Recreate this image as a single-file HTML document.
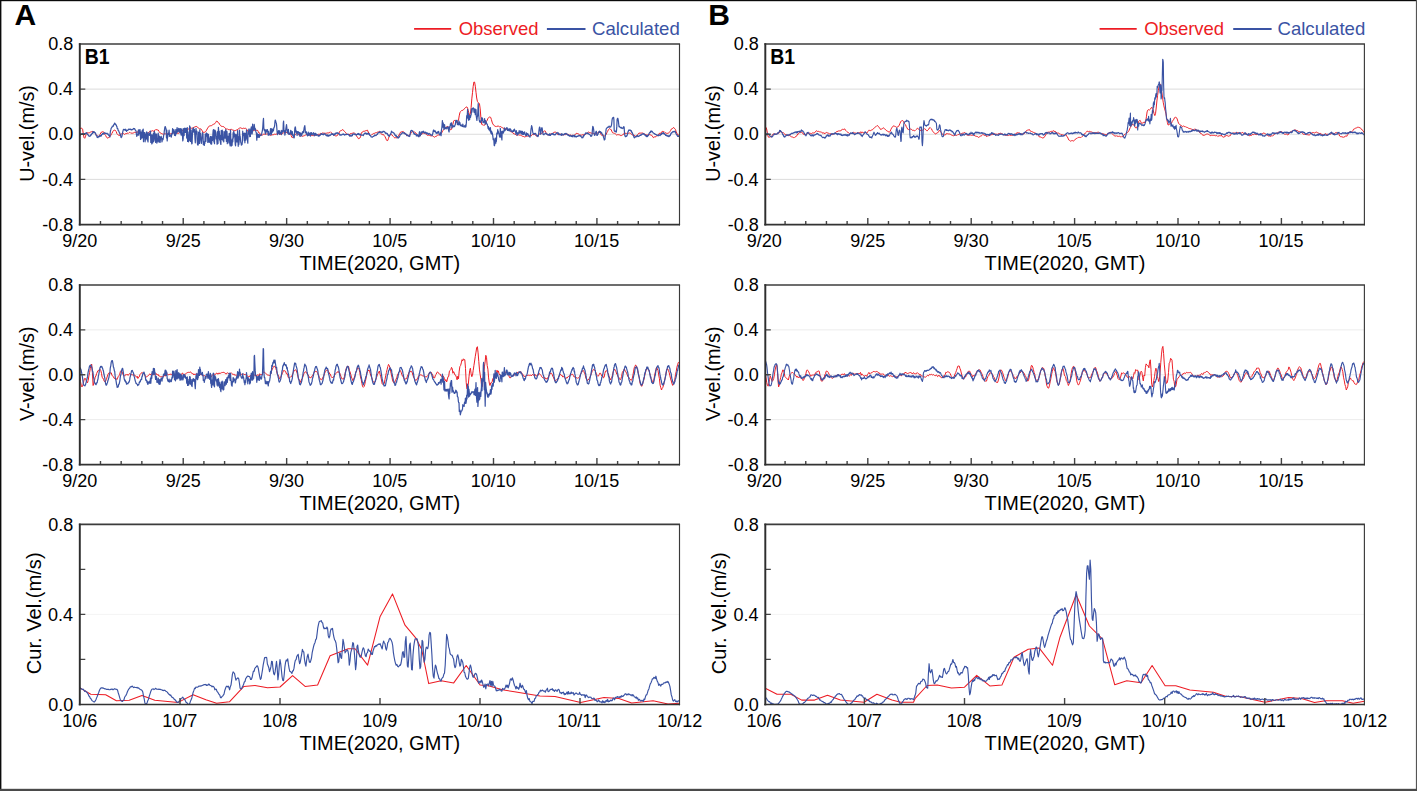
<!DOCTYPE html><html><head><meta charset="utf-8"><style>html,body{margin:0;padding:0;background:#fff;overflow:hidden}svg{display:block}text{font-family:"Liberation Sans", sans-serif}</style></head><body>
<svg width="1417" height="791" viewBox="0 0 1417 791">
<rect width="1417" height="791" fill="#fff"/>
<line x1="79.8" y1="179.38" x2="679.5" y2="179.38" stroke="#dcdcdc" stroke-width="1"/>
<line x1="79.8" y1="134.25" x2="679.5" y2="134.25" stroke="#dcdcdc" stroke-width="1"/>
<line x1="79.8" y1="89.12" x2="679.5" y2="89.12" stroke="#dcdcdc" stroke-width="1"/>
<text x="42.37" y="230.7" font-size="18" fill="#000">-0.8</text>
<text x="42.11" y="185.57" font-size="18" fill="#000">-0.4</text>
<text x="48.28" y="140.45" font-size="18" fill="#000">0.0</text>
<text x="48.1" y="95.32" font-size="18" fill="#000">0.4</text>
<text x="48.36" y="50.2" font-size="18" fill="#000">0.8</text>
<text x="62.21" y="246.84" font-size="18" fill="#000">9/20</text>
<text x="165.66" y="246.84" font-size="18" fill="#000">9/25</text>
<text x="269.06" y="246.84" font-size="18" fill="#000">9/30</text>
<text x="372.25" y="246.84" font-size="18" fill="#000">10/5</text>
<text x="470.64" y="246.84" font-size="18" fill="#000">10/10</text>
<text x="574.1" y="246.84" font-size="18" fill="#000">10/15</text>
<text x="299.4" y="269.65" font-size="19.8" fill="#000" textLength="160.68" lengthAdjust="spacingAndGlyphs">TIME(2020, GMT)</text>
<text transform="translate(34.4 133.25) rotate(-90)" x="-48.54" y="0" font-size="19.8" fill="#000">U-vel.(m/s)</text>
<line x1="79.8" y1="419.62" x2="679.5" y2="419.62" stroke="#ececec" stroke-width="1"/>
<line x1="79.8" y1="374.75" x2="679.5" y2="374.75" stroke="#ececec" stroke-width="1"/>
<line x1="79.8" y1="329.88" x2="679.5" y2="329.88" stroke="#ececec" stroke-width="1"/>
<text x="42.37" y="470.7" font-size="18" fill="#000">-0.8</text>
<text x="42.11" y="425.82" font-size="18" fill="#000">-0.4</text>
<text x="48.28" y="380.95" font-size="18" fill="#000">0.0</text>
<text x="48.1" y="336.07" font-size="18" fill="#000">0.4</text>
<text x="48.36" y="291.2" font-size="18" fill="#000">0.8</text>
<text x="62.21" y="486.84" font-size="18" fill="#000">9/20</text>
<text x="165.66" y="486.84" font-size="18" fill="#000">9/25</text>
<text x="269.06" y="486.84" font-size="18" fill="#000">9/30</text>
<text x="372.25" y="486.84" font-size="18" fill="#000">10/5</text>
<text x="470.64" y="486.84" font-size="18" fill="#000">10/10</text>
<text x="574.1" y="486.84" font-size="18" fill="#000">10/15</text>
<text x="299.4" y="509.65" font-size="19.8" fill="#000" textLength="160.68" lengthAdjust="spacingAndGlyphs">TIME(2020, GMT)</text>
<text transform="translate(34.4 373.75) rotate(-90)" x="-47.28" y="0" font-size="19.8" fill="#000">V-vel.(m/s)</text>
<line x1="79.8" y1="614.4" x2="679.5" y2="614.4" stroke="#f4f4f4" stroke-width="1"/>
<text x="48.28" y="710.6" font-size="18" fill="#000">0.0</text>
<text x="48.1" y="620.6" font-size="18" fill="#000">0.4</text>
<text x="48.36" y="530.6" font-size="18" fill="#000">0.8</text>
<text x="62.19" y="726.74" font-size="18" fill="#000">10/6</text>
<text x="162.25" y="726.74" font-size="18" fill="#000">10/7</text>
<text x="262.19" y="726.74" font-size="18" fill="#000">10/8</text>
<text x="362.22" y="726.74" font-size="18" fill="#000">10/9</text>
<text x="457.14" y="726.74" font-size="18" fill="#000">10/10</text>
<text x="557.23" y="726.74" font-size="18" fill="#000">10/11</text>
<text x="657.25" y="726.74" font-size="18" fill="#000">10/12</text>
<text x="299.4" y="749.55" font-size="19.8" fill="#000" textLength="160.68" lengthAdjust="spacingAndGlyphs">TIME(2020, GMT)</text>
<text transform="translate(40.6 613.4) rotate(-90)" x="-60.75" y="0" font-size="19.8" fill="#000" textLength="121.73" lengthAdjust="spacingAndGlyphs">Cur. Vel.(m/s)</text>
<line x1="765.3" y1="179.38" x2="1364.4" y2="179.38" stroke="#dcdcdc" stroke-width="1"/>
<line x1="765.3" y1="134.25" x2="1364.4" y2="134.25" stroke="#dcdcdc" stroke-width="1"/>
<line x1="765.3" y1="89.12" x2="1364.4" y2="89.12" stroke="#dcdcdc" stroke-width="1"/>
<text x="727.87" y="230.7" font-size="18" fill="#000">-0.8</text>
<text x="727.61" y="185.57" font-size="18" fill="#000">-0.4</text>
<text x="733.78" y="140.45" font-size="18" fill="#000">0.0</text>
<text x="733.6" y="95.32" font-size="18" fill="#000">0.4</text>
<text x="733.86" y="50.2" font-size="18" fill="#000">0.8</text>
<text x="746.81" y="246.84" font-size="18" fill="#000">9/20</text>
<text x="850.24" y="246.84" font-size="18" fill="#000">9/25</text>
<text x="953.61" y="246.84" font-size="18" fill="#000">9/30</text>
<text x="1056.78" y="246.84" font-size="18" fill="#000">10/5</text>
<text x="1155.14" y="246.84" font-size="18" fill="#000">10/10</text>
<text x="1258.57" y="246.84" font-size="18" fill="#000">10/15</text>
<text x="984.6" y="269.65" font-size="19.8" fill="#000" textLength="160.68" lengthAdjust="spacingAndGlyphs">TIME(2020, GMT)</text>
<text transform="translate(719.9 133.25) rotate(-90)" x="-48.54" y="0" font-size="19.8" fill="#000">U-vel.(m/s)</text>
<line x1="765.3" y1="419.62" x2="1364.4" y2="419.62" stroke="#ececec" stroke-width="1"/>
<line x1="765.3" y1="374.75" x2="1364.4" y2="374.75" stroke="#ececec" stroke-width="1"/>
<line x1="765.3" y1="329.88" x2="1364.4" y2="329.88" stroke="#ececec" stroke-width="1"/>
<text x="727.87" y="470.7" font-size="18" fill="#000">-0.8</text>
<text x="727.61" y="425.82" font-size="18" fill="#000">-0.4</text>
<text x="733.78" y="380.95" font-size="18" fill="#000">0.0</text>
<text x="733.6" y="336.07" font-size="18" fill="#000">0.4</text>
<text x="733.86" y="291.2" font-size="18" fill="#000">0.8</text>
<text x="746.81" y="486.84" font-size="18" fill="#000">9/20</text>
<text x="850.24" y="486.84" font-size="18" fill="#000">9/25</text>
<text x="953.61" y="486.84" font-size="18" fill="#000">9/30</text>
<text x="1056.78" y="486.84" font-size="18" fill="#000">10/5</text>
<text x="1155.14" y="486.84" font-size="18" fill="#000">10/10</text>
<text x="1258.57" y="486.84" font-size="18" fill="#000">10/15</text>
<text x="984.6" y="509.65" font-size="19.8" fill="#000" textLength="160.68" lengthAdjust="spacingAndGlyphs">TIME(2020, GMT)</text>
<text transform="translate(719.9 373.75) rotate(-90)" x="-47.28" y="0" font-size="19.8" fill="#000">V-vel.(m/s)</text>
<line x1="765.3" y1="614.4" x2="1364.4" y2="614.4" stroke="#f4f4f4" stroke-width="1"/>
<text x="733.78" y="710.6" font-size="18" fill="#000">0.0</text>
<text x="733.6" y="620.6" font-size="18" fill="#000">0.4</text>
<text x="733.86" y="530.6" font-size="18" fill="#000">0.8</text>
<text x="746.49" y="726.74" font-size="18" fill="#000">10/6</text>
<text x="846.65" y="726.74" font-size="18" fill="#000">10/7</text>
<text x="946.69" y="726.74" font-size="18" fill="#000">10/8</text>
<text x="1046.82" y="726.74" font-size="18" fill="#000">10/9</text>
<text x="1141.84" y="726.74" font-size="18" fill="#000">10/10</text>
<text x="1242.03" y="726.74" font-size="18" fill="#000">10/11</text>
<text x="1342.15" y="726.74" font-size="18" fill="#000">10/12</text>
<text x="984.6" y="749.55" font-size="19.8" fill="#000" textLength="160.68" lengthAdjust="spacingAndGlyphs">TIME(2020, GMT)</text>
<text transform="translate(726.1 613.4) rotate(-90)" x="-60.75" y="0" font-size="19.8" fill="#000" textLength="121.73" lengthAdjust="spacingAndGlyphs">Cur. Vel.(m/s)</text>
<path d="M79.8,129 80.5,128.3 81.2,128.2 81.9,128.3 82.6,129.2 83.3,133.9 84,137.6 84.7,138.3 85.4,136.8 86.1,134.5 86.8,132.7 87.5,132.8 88.2,133 88.9,132.7 89.6,132.8 90.3,132.1 91,131.6 91.7,131.8 92.4,131.4 93.1,131.9 93.8,131.8 94.5,132.8 95.2,133.2 95.9,134.5 96.6,135.1 97.3,135.9 98,136.3 98.7,136.7 99.4,135.6 100.1,134.3 100.8,133 101.5,132 102.2,132.3 102.9,131.4 103.6,132.2 104.3,133.5 105,134.8 105.7,135.6 106.4,137 107.1,137.8 107.8,138.2 108.5,137.6 109.2,137.5 109.9,136.3 110.6,135.8 111.3,134.1 112,133.5 112.7,131.7 113.4,130.6 114.1,130.5 114.8,129.9 115.5,130.8 116.2,131.4 116.9,133.7 117.6,134.5 118.3,135 119,135.6 119.7,135.4 120.4,134.2 121.1,133.9 121.8,133.9 122.5,133.5 123.2,133.5 123.9,133.8 124.6,134.4 125.3,133.9 126,133.3 126.7,133.6 127.4,133.1 128.1,133.6 128.8,132.8 129.5,132.4 130.2,132.5 130.9,133.3 131.6,133.1 132.3,133.2 133,133.1 133.7,132.8 134.4,132.4 135.1,132.2 135.8,132.6 136.5,132.7 137.2,131.5 137.9,132.5 138.6,131.6 139.3,131.9 140,131.5 140.7,132.2 141.4,132.7 142.1,133.2 142.8,133.8 143.5,134.1 144.2,133.9 144.9,134.4 145.6,134.7 146.3,134.6 147,134 147.7,133.5 148.4,132.9 149.1,131.9 149.8,131.3 150.5,131.8 151.2,131 151.9,131 152.6,130.7 153.3,131.2 154,131.1 154.7,130.2 155.4,130 156.1,129.3 156.8,129.9 157.5,129.9 158.2,130 158.9,131.5 159.6,132.1 160.3,132.9 161,133.5 161.7,133.6 162.4,133.9 163.1,134.4 163.8,134.1 164.5,133.6 165.2,134.2 165.9,133.4 166.6,133.3 167.3,133.4 168,133.9 168.7,134 169.4,133.9 170.1,134.1 170.8,133.4 171.5,133.5 172.2,133.2 172.9,133 173.6,132.9 174.3,132 175,133.5 175.7,132.3 176.4,132.7 177.1,133.1 177.8,133.4 178.5,133.4 179.2,132.3 179.9,132.5 180.6,132.4 181.3,131.2 182,130.8 182.7,130.4 183.4,131.6 184.1,131.4 184.8,130.9 185.5,130.8 186.2,130.4 186.9,129.6 187.6,129.4 188.3,129.1 189,128.7 189.7,128.6 190.4,128.1 191.1,128 191.8,128.4 192.5,128 193.2,127.5 193.9,127.8 194.6,126.8 195.3,126.6 196,126.6 196.7,126.4 197.4,127.3 198.1,127.8 198.8,128.2 199.5,128.8 200.2,128.9 200.9,128.8 201.6,130.1 202.3,130.8 203,132.2 203.7,132.5 204.4,132.3 205.1,132 205.8,131.5 206.5,130.3 207.2,128.9 207.9,127.8 208.6,126.6 209.3,126.1 210,126 210.7,125.7 211.4,125.7 212.1,125.1 212.8,124.7 213.5,124.3 214.2,124 214.9,123.6 215.6,122.6 216.3,121.3 217,121 217.7,122.1 218.4,122.8 219.1,123.1 219.8,124.8 220.5,125.4 221.2,126.3 221.9,126.2 222.6,126.5 223.3,126.6 224,126.8 224.7,127.7 225.4,128.2 226.1,129.2 226.8,129 227.5,128.9 228.2,129.6 228.9,129.6 229.6,129.7 230.3,129.6 231,129 231.7,129.5 232.4,129.9 233.1,130.4 233.8,130 234.5,130.8 235.2,130.8 235.9,130.1 236.6,130 237.3,129.8 238,129 238.7,128.7 239.4,128.2 240.1,127.8 240.8,127.9 241.5,128.1 242.2,128.9 242.9,128.4 243.6,128.2 244.3,128.5 245,128.1 245.7,128.4 246.4,129 247.1,129.6 247.8,130.9 248.5,132.3 249.2,133.1 249.9,132.7 250.6,132.4 251.3,132.6 252,131.7 252.7,130.5 253.4,130.5 254.1,130.6 254.8,130.1 255.5,130.4 256.2,130.2 256.9,130.4 257.6,130.4 258.3,131.7 259,133 259.7,133.1 260.4,134.6 261.1,135 261.8,135.2 262.5,135 263.2,134.4 263.9,134.1 264.6,134.2 265.3,134.2 266,134.2 266.7,134 267.4,134 268.1,133.9 268.8,134 269.5,134.9 270.2,135.3 270.9,135.4 271.6,134.8 272.3,134.9 273,134.4 273.7,134.7 274.4,134.2 275.1,134.3 275.8,134.3 276.5,134 277.2,134.3 277.9,133.6 278.6,133.3 279.3,134.3 280,134.4 280.7,134.3 281.4,133.8 282.1,133.7 282.8,133.4 283.5,132.8 284.2,132.7 284.9,132.6 285.6,132.1 286.3,132.8 287,132 287.7,132.8 288.4,133.9 289.1,133.9 289.8,134.2 290.5,134.4 291.2,135.6 291.9,137.4 292.6,137.5 293.3,137.2 294,136.1 294.7,135.6 295.4,134.5 296.1,133.5 296.8,133.3 297.5,133.7 298.2,134.5 298.9,134.8 299.6,135.5 300.3,136.3 301,135.7 301.7,135.7 302.4,136.3 303.1,136.1 303.8,135.8 304.5,135.6 305.2,135.1 305.9,135 306.6,134.5 307.3,134.7 308,134.2 308.7,134.5 309.4,135 310.1,135 310.8,135.5 311.5,135.4 312.2,135.4 312.9,135.7 313.6,135.6 314.3,135.2 315,135.3 315.7,135.2 316.4,135 317.1,134.8 317.8,134.7 318.5,134.3 319.2,134.4 319.9,134.1 320.6,133.4 321.3,133.8 322,133.5 322.7,132.9 323.4,133.1 324.1,133.4 324.8,133.1 325.5,133.3 326.2,133.1 326.9,133.3 327.6,132.9 328.3,133 329,132.6 329.7,132.6 330.4,131.8 331.1,132.5 331.8,133.2 332.5,133.7 333.2,134.3 333.9,135.2 334.6,135.4 335.3,135.8 336,136 336.7,135.8 337.4,135.5 338.1,134.1 338.8,133.6 339.5,131.7 340.2,131 340.9,130.5 341.6,130.4 342.3,129.8 343,129.6 343.7,130.7 344.4,131.3 345.1,131.9 345.8,132.8 346.5,133.6 347.2,134.3 347.9,134.6 348.6,133.9 349.3,135 350,134 350.7,133.5 351.4,133.5 352.1,133 352.8,133.4 353.5,133 354.2,132.7 354.9,133.4 355.6,134.4 356.3,135.5 357,136.9 357.7,137.4 358.4,138.7 359.1,138.6 359.8,138.1 360.5,136.8 361.2,133.8 361.9,132.2 362.6,131.9 363.3,131.4 364,131.2 364.7,131.2 365.4,130.8 366.1,130.8 366.8,130.3 367.5,130.2 368.2,132 368.9,133.3 369.6,134.9 370.3,135.7 371,135.4 371.7,134.6 372.4,134.3 373.1,134 373.8,133.3 374.5,133.3 375.2,132.9 375.9,132.7 376.6,132.6 377.3,132.2 378,132.1 378.7,131.9 379.4,131.3 380.1,132.9 380.8,133.2 381.5,133.8 382.2,134.8 382.9,134.5 383.6,134.6 384.3,135.8 385,136.6 385.7,138.1 386.4,139.8 387.1,140.8 387.8,140.4 388.5,138.3 389.2,136.5 389.9,134.7 390.6,134.5 391.3,134.4 392,135 392.7,136 393.4,136.5 394.1,137.4 394.8,137.9 395.5,137.7 396.2,137.9 396.9,137.8 397.6,136.7 398.3,136.3 399,135 399.7,133.9 400.4,132.3 401.1,131.8 401.8,131.9 402.5,131.6 403.2,131.4 403.9,132.1 404.6,133.1 405.3,133.4 406,134.4 406.7,135.8 407.4,135.5 408.1,135.8 408.8,135.4 409.5,134.9 410.2,134.6 410.9,133.1 411.6,131.9 412.3,131.4 413,131.6 413.7,132 414.4,131.8 415.1,132.7 415.8,132.9 416.5,133.8 417.2,134.7 417.9,135.6 418.6,135.9 419.3,136.1 420,136 420.7,134.7 421.4,134.4 422.1,133.8 422.8,133.5 423.5,133.1 424.2,133.2 424.9,133.6 425.6,133.8 426.3,134.4 427,135 427.7,135.4 428.4,135.2 429.1,135.5 429.8,135 430.5,136 431.2,135.7 431.9,136 432.6,135.8 433.3,136.4 434,136.9 434.7,137.2 435.4,136.5 436.1,136.7 436.8,135.8 437.5,135 438.2,135.1 438.9,134.8 439.6,134.9 440.3,134.4 441,133.9 441.7,132.8 442.4,131.7 443.1,130.4 443.8,129.5 444.5,128.7 445.2,128.1 445.9,127 446.6,127 447.3,126.5 448,126.7 448.7,128 449.4,128.3 450.1,129.4 450.8,130 451.5,128.9 452.2,126.5 452.9,124.3 453.6,121.2 454.3,120.3 455,120.8 455.7,121.3 456.4,122.2 457.1,122.9 457.8,121.6 458.5,120.2 459.2,115.9 459.9,112.7 460.6,111.5 461.3,110.9 462,110.2 462.7,110.4 463.4,109.7 464.1,109.3 464.8,108.2 465.5,107.5 466.2,107.1 466.9,106.9 467.6,108.2 468.3,110.9 469,113.3 469.7,114.8 470.4,113.8 471.1,107.7 471.8,98.9 472.5,92.7 473.2,86.3 473.9,82 474.6,82.1 475.3,86.2 476,92.3 476.7,98 477.4,101.4 478.1,102.6 478.8,103 479.5,104 480.2,108.9 480.9,117.8 481.6,124.2 482.3,124.9 483,124.6 483.7,125.4 484.4,125.1 485.1,124.7 485.8,122.7 486.5,121.3 487.2,120.4 487.9,118.3 488.6,117.7 489.3,117.1 490,117 490.7,117.4 491.4,119.6 492.1,122.1 492.8,123.9 493.5,124.9 494.2,125.3 494.9,126.4 495.6,126.4 496.3,126.6 497,125.8 497.7,126.4 498.4,126.1 499.1,126.7 499.8,126.8 500.5,126.5 501.2,127 501.9,127.6 502.6,127.8 503.3,128.3 504,128.3 504.7,128.6 505.4,128.5 506.1,128.9 506.8,129.3 507.5,129.2 508.2,129.4 508.9,129.7 509.6,130.8 510.3,131.3 511,131.4 511.7,131.9 512.4,132.7 513.1,132.8 513.8,133.9 514.5,134 515.2,134.2 515.9,134.7 516.6,135.5 517.3,134.6 518,134.9 518.7,134.8 519.4,135.1 520.1,135.1 520.8,135.1 521.5,135.8 522.2,136 522.9,136.5 523.6,136.4 524.3,137.1 525,136.6 525.7,136.6 526.4,136.2 527.1,136.3 527.8,136.1 528.5,136 529.2,136.1 529.9,135.7 530.6,135.5 531.3,135.8 532,134.9 532.7,134.3 533.4,134.6 534.1,134.7 534.8,134.2 535.5,135.4 536.2,136 536.9,136 537.6,135.3 538.3,135.3 539,134 539.7,133.9 540.4,133.8 541.1,133.5 541.8,133.4 542.5,132.9 543.2,131.9 543.9,131.6 544.6,130.7 545.3,131.2 546,132.7 546.7,133.4 547.4,134.8 548.1,134.9 548.8,135 549.5,134.7 550.2,134.3 550.9,133.8 551.6,133.6 552.3,133.5 553,133.2 553.7,132.4 554.4,132.2 555.1,132.3 555.8,132.1 556.5,132.6 557.2,134.2 557.9,134.5 558.6,134.2 559.3,134.2 560,133.9 560.7,134.1 561.4,135 562.1,134.6 562.8,135.3 563.5,134.6 564.2,134.5 564.9,134.7 565.6,134.6 566.3,134 567,134.6 567.7,134.2 568.4,134.5 569.1,134.9 569.8,135.4 570.5,135 571.2,135.5 571.9,135.6 572.6,135.2 573.3,135.4 574,135.6 574.7,134.7 575.4,134.3 576.1,133.9 576.8,133.1 577.5,133.5 578.2,133.8 578.9,134.3 579.6,134.9 580.3,135 581,135.2 581.7,135.1 582.4,134.8 583.1,134.5 583.8,134.8 584.5,134.8 585.2,134.1 585.9,134.3 586.6,133.2 587.3,133 588,132.4 588.7,132 589.4,132.5 590.1,132.7 590.8,132.9 591.5,133.1 592.2,133.2 592.9,133.6 593.6,133.5 594.3,134 595,133.7 595.7,134.1 596.4,133.8 597.1,133.3 597.8,132.7 598.5,132.2 599.2,132.2 599.9,132.4 600.6,133.7 601.3,134.8 602,135.6 602.7,134.9 603.4,135.9 604.1,136.2 604.8,135.8 605.5,135.4 606.2,134.3 606.9,132.7 607.6,131.5 608.3,129.8 609,129.1 609.7,128.6 610.4,129.3 611.1,129.5 611.8,131.2 612.5,132.7 613.2,132.9 613.9,133.3 614.6,133.2 615.3,133.9 616,134.5 616.7,135.1 617.4,134.7 618.1,134.9 618.8,134.6 619.5,134.9 620.2,135.5 620.9,135.4 621.6,135.5 622.3,134.9 623,134.8 623.7,134.2 624.4,132.9 625.1,133.6 625.8,133.2 626.5,133.4 627.2,133.5 627.9,133.8 628.6,133.1 629.3,133 630,133 630.7,133.5 631.4,134.2 632.1,134.7 632.8,135.1 633.5,135.2 634.2,135.2 634.9,136.1 635.6,136.2 636.3,136 637,135.8 637.7,134.6 638.4,133.9 639.1,132.8 639.8,133.4 640.5,133.1 641.2,132.9 641.9,133.3 642.6,133 643.3,133.2 644,134.1 644.7,134 645.4,134.5 646.1,134.8 646.8,135 647.5,135 648.2,135.4 648.9,134.5 649.6,134.7 650.3,134.8 651,135.3 651.7,135.3 652.4,136 653.1,137.4 653.8,137.5 654.5,136.9 655.2,136.9 655.9,136.7 656.6,135.8 657.3,136.1 658,134.8 658.7,134.4 659.4,133.2 660.1,133.8 660.8,132.7 661.5,132.5 662.2,131.3 662.9,131.5 663.6,131.6 664.3,131.8 665,132.5 665.7,133 666.4,133.3 667.1,133.1 667.8,133.5 668.5,133.2 669.2,132.4 669.9,131.6 670.6,130.5 671.3,129.1 672,128.6 672.7,128.5 673.4,127.5 674.1,127.8 674.8,128.8 675.5,129.6 676.2,131.8 676.9,133.2 677.6,134.8 678.3,135 679,135.1" fill="none" stroke="#ED1C24" stroke-width="1.0" stroke-linejoin="round"/>
<path d="M79.8,134.7 80.1,135.4 80.4,134.5 80.8,134.2 81.1,134 81.4,134.2 81.7,133.9 82,133.9 82.4,133.6 82.7,133.6 83,134 83.3,134.4 83.6,134.1 84,134.1 84.3,133.7 84.6,133.6 84.9,133.9 85.2,133.6 85.6,133.5 85.9,133 86.2,133.3 86.5,132.7 86.8,133.1 87.2,133.6 87.5,134.5 87.8,134.5 88.1,134.8 88.4,135.6 88.8,135.8 89.1,136.3 89.4,136.2 89.7,136.2 90,135.9 90.4,136 90.7,135.2 91,134.5 91.3,134.9 91.6,133.9 92,133.7 92.3,133.5 92.6,133.2 92.9,131.6 93.2,132 93.6,132.7 93.9,131.6 94.2,132.4 94.5,132.2 94.8,132.3 95.2,132.9 95.5,132.9 95.8,134.4 96.1,135.4 96.4,135.2 96.8,136.1 97.1,137.3 97.4,137.3 97.7,137.2 98,137.7 98.4,136.3 98.7,136.6 99,136.5 99.3,136.2 99.6,136.5 100,135.5 100.3,136 100.6,135.6 100.9,136.2 101.2,135.9 101.6,134.9 101.9,134.4 102.2,134.4 102.5,133.7 102.8,133.6 103.2,133.8 103.5,133.4 103.8,134.1 104.1,133.3 104.4,133 104.8,132.7 105.1,132.9 105.4,133.4 105.7,133.3 106,133.7 106.4,133.7 106.7,133.5 107,133.2 107.3,133.7 107.6,134.1 108,133.8 108.3,134.9 108.6,134.8 108.9,135.6 109.2,135.9 109.6,136.5 109.9,136.9 110.2,133 110.5,130.5 110.8,129.9 111.2,128.2 111.5,127.9 111.8,127.4 112.1,127.1 112.4,126 112.8,126.2 113.1,125.9 113.4,126.1 113.7,124.8 114,124.2 114.4,124.1 114.7,123 115,123.9 115.3,124.5 115.6,124.2 116,124.8 116.3,125.3 116.6,126.2 116.9,126.5 117.2,128.3 117.6,128.3 117.9,129.1 118.2,130.6 118.5,130.6 118.8,131.1 119.2,132.4 119.5,132.5 119.8,133.6 120.1,134.1 120.4,134.8 120.8,136.4 121.1,137.6 121.4,137.1 121.7,136.9 122,135.8 122.4,134 122.7,132.2 123,130.9 123.3,129.8 123.6,129.3 124,129.7 124.3,129.7 124.6,129.7 124.9,130 125.2,129.1 125.6,130.3 125.9,130.4 126.2,129.8 126.5,131.3 126.8,130.8 127.2,130.5 127.5,130.4 127.8,130.4 128.1,130 128.4,129.2 128.8,129.3 129.1,129.4 129.4,129.4 129.7,129.5 130,128.9 130.4,129.2 130.7,129.7 131,129.6 131.3,129.9 131.6,129.5 132,129.8 132.3,129.5 132.6,129.5 132.9,129.2 133.2,128.8 133.6,128.5 133.9,128.9 134.2,128.7 134.5,128.6 134.8,129.1 135.2,129.9 135.5,130.2 135.8,130.6 136.1,131.2 136.4,134.2 136.8,136.4 137.1,134.8 137.4,134.4 137.7,135 138,132.3 138.4,129.9 138.7,135.2 139,130.4 139.3,133.4 139.6,129.9 140,129.6 140.3,133.9 140.6,139.5 140.9,138.7 141.2,132.1 141.6,137.3 141.9,138.1 142.2,130.5 142.5,130.1 142.8,137.6 143.2,129 143.5,141.7 143.8,136.4 144.1,136.8 144.4,132.6 144.8,132.6 145.1,141.8 145.4,134 145.7,139.9 146,139.2 146.4,133.3 146.7,131.8 147,138.6 147.3,132.6 147.6,139.9 148,142 148.3,134.5 148.6,133.9 148.9,133 149.2,134.9 149.6,135.4 149.9,134.2 150.2,132.4 150.5,131 150.8,142.4 151.2,136.6 151.5,134.8 151.8,144 152.1,134.8 152.4,136.7 152.8,142.8 153.1,138.7 153.4,133.2 153.7,141.3 154,140.1 154.4,131.3 154.7,134.2 155,133.1 155.3,138.9 155.6,142.4 156,140.2 156.3,134.1 156.6,134.3 156.9,143.2 157.2,141.7 157.6,141.1 157.9,140.6 158.2,133 158.5,136.8 158.8,141.9 159.2,141.8 159.5,136.1 159.8,142.2 160.1,142.4 160.4,139.8 160.8,137.1 161.1,136.4 161.4,137.1 161.7,139 162,141.9 162.4,138.6 162.7,139.6 163,139.7 163.3,137.8 163.6,135.6 164,134.4 164.3,131 164.6,129.1 164.9,127.1 165.2,126.6 165.6,127.6 165.9,128.2 166.2,131.4 166.5,137.9 166.8,130 167.2,140.9 167.5,137.3 167.8,136.9 168.1,133.9 168.4,134.5 168.8,132.7 169.1,130 169.4,134.5 169.7,136.4 170,135.8 170.4,135.8 170.7,135.9 171,134.5 171.3,137.2 171.6,135.4 172,133.2 172.3,133.9 172.6,128.5 172.9,133.4 173.2,129.8 173.6,132.2 173.9,129.5 174.2,131.1 174.5,135.3 174.8,131.8 175.2,134.1 175.5,135.6 175.8,129.5 176.1,133.9 176.4,133.2 176.8,130 177.1,127.7 177.4,129.6 177.7,132.1 178,131.5 178.4,130.9 178.7,128.4 179,128.7 179.3,131.5 179.6,128.8 180,132.9 180.3,130.8 180.6,128.5 180.9,133.7 181.2,135.2 181.6,133.4 181.9,128.9 182.2,134.7 182.5,136.3 182.8,140.9 183.2,138.6 183.5,128.7 183.8,134.6 184.1,135.7 184.4,128.7 184.8,128.2 185.1,132.4 185.4,128.3 185.7,132.3 186,131.6 186.4,128.3 186.7,138.1 187,130.2 187.3,127.7 187.6,141.5 188,141.5 188.3,134.8 188.6,141.8 188.9,131.9 189.2,140.4 189.6,125.8 189.9,127.5 190.2,127 190.5,141.4 190.8,135.8 191.2,130.2 191.5,141.8 191.8,143.9 192.1,143.6 192.4,135.5 192.8,128.6 193.1,132.2 193.4,127.9 193.7,132 194,131.1 194.4,129.4 194.7,133 195,138.8 195.3,142.8 195.6,135 196,128.3 196.3,133.9 196.6,131.2 196.9,131.1 197.2,140.8 197.6,144.9 197.9,143.3 198.2,144.9 198.5,132.1 198.8,140.9 199.2,142.9 199.5,143.4 199.8,129.8 200.1,139.1 200.4,133.4 200.8,139.6 201.1,141.7 201.4,143.5 201.7,140.7 202,136.6 202.4,132.6 202.7,137.4 203,133.7 203.3,144.6 203.6,141.4 204,142.2 204.3,145.4 204.6,143 204.9,143.3 205.2,134 205.6,137.8 205.9,141.3 206.2,133.8 206.5,133 206.8,133.9 207.2,136.2 207.5,133.8 207.8,142.5 208.1,138.4 208.4,134.3 208.8,138.4 209.1,142.2 209.4,141.8 209.7,142.3 210,138.9 210.4,136.6 210.7,143.8 211,136.3 211.3,143.5 211.6,144.2 212,138.9 212.3,136.7 212.6,140.3 212.9,133.9 213.2,130.1 213.6,129.6 213.9,141.9 214.2,140 214.5,143.7 214.8,130 215.2,130.9 215.5,131.1 215.8,133.4 216.1,138.9 216.4,136.3 216.8,139.7 217.1,144.3 217.4,132.2 217.7,131.4 218,143.5 218.4,127.4 218.7,130.7 219,138.1 219.3,131.3 219.6,139.9 220,135.3 220.3,141.7 220.6,143.3 220.9,144.5 221.2,130.6 221.6,139.5 221.9,137.3 222.2,130 222.5,131.8 222.8,140 223.2,140.9 223.5,140.3 223.8,141.8 224.1,131.3 224.4,133.3 224.8,133.8 225.1,138.2 225.4,132.6 225.7,129.6 226,131.1 226.4,141.4 226.7,131.3 227,131.6 227.3,143.7 227.6,139.7 228,136.2 228.3,137.4 228.6,139.1 228.9,142.9 229.2,133.3 229.6,139.7 229.9,144.5 230.2,146 230.5,130 230.8,138.5 231.2,140.5 231.5,145.9 231.8,143.4 232.1,145.3 232.4,138.9 232.8,141.8 233.1,132.7 233.4,137.9 233.7,131 234,132.6 234.4,136.7 234.7,133.8 235,140.1 235.3,144.9 235.6,145.8 236,134.3 236.3,140.2 236.6,135.4 236.9,142 237.2,140.8 237.6,130.6 237.9,139.2 238.2,146.3 238.5,136.8 238.8,144.6 239.2,140.9 239.5,130.1 239.8,137.6 240.1,135.8 240.4,138.9 240.8,142.5 241.1,143.2 241.4,145.1 241.7,143.5 242,144.6 242.4,141.4 242.7,131.2 243,135.5 243.3,133.2 243.6,133.6 244,136.4 244.3,140.6 244.6,133 244.9,142.8 245.2,133.3 245.6,140.1 245.9,136.9 246.2,136.7 246.5,129.9 246.8,137.1 247.2,139.5 247.5,140.6 247.8,143.2 248.1,131.7 248.4,134.1 248.8,129.2 249.1,129 249.4,130.4 249.7,136.6 250,131.1 250.4,136.5 250.7,128.8 251,130.3 251.3,126.8 251.6,132.8 252,134 252.3,132.8 252.6,124 252.9,131 253.2,128.3 253.6,129.4 253.9,127.3 254.2,124.3 254.5,126.6 254.8,129.8 255.2,128.4 255.5,129.5 255.8,131.4 256.1,132.2 256.4,133.3 256.8,140.1 257.1,133 257.4,135.7 257.7,136.8 258,137.3 258.4,134.3 258.7,137.1 259,136.2 259.3,137.5 259.6,134.7 260,134.9 260.3,135.5 260.6,135.6 260.9,135.5 261.2,135.1 261.6,134.5 261.9,132.5 262.2,131.3 262.5,130 262.8,127.1 263.2,120.9 263.5,118.4 263.8,127.5 264.1,129.6 264.4,130.6 264.8,129.6 265.1,132.1 265.4,134 265.7,132.7 266,129.8 266.4,130.6 266.7,132 267,130.1 267.3,129.6 267.6,130.2 268,133.2 268.3,135.3 268.6,131.6 268.9,134.5 269.2,133.7 269.6,134.9 269.9,133.9 270.2,133.9 270.5,128.7 270.8,129.9 271.2,134.8 271.5,133.3 271.8,128.5 272.1,131.2 272.4,132.1 272.8,129.6 273.1,129.3 273.4,131 273.7,128.7 274,127.4 274.4,127.1 274.7,125.2 275,121.2 275.3,120 275.6,121 276,122.5 276.3,122.9 276.6,125.1 276.9,129.3 277.2,132.6 277.6,134.7 277.9,131.7 278.2,133.1 278.5,130.7 278.8,132 279.2,132.6 279.5,134.1 279.8,130.7 280.1,133.5 280.4,132.8 280.8,132.5 281.1,133.4 281.4,134.6 281.7,130.3 282,133 282.4,131.9 282.7,131.2 283,131.8 283.3,123.2 283.6,121 284,131.1 284.3,130.4 284.6,132 284.9,135.1 285.2,133.3 285.6,130.6 285.9,128.5 286.2,126.7 286.5,124.7 286.8,127.1 287.2,132.2 287.5,132.6 287.8,133.1 288.1,130.1 288.4,129.4 288.8,134.3 289.1,133.1 289.4,133.2 289.7,134.4 290,133.2 290.4,133.3 290.7,130.4 291,130.5 291.3,133.7 291.6,134.4 292,132.2 292.3,131.6 292.6,135.3 292.9,134 293.2,136.4 293.6,137 293.9,137.8 294.2,137.9 294.5,133.8 294.8,128.6 295.2,126.8 295.5,127.6 295.8,131.5 296.1,132.7 296.4,131 296.8,132.5 297.1,135.5 297.4,131.6 297.7,132.5 298,131.6 298.4,133.1 298.7,132 299,133.7 299.3,135 299.6,132.6 300,136.4 300.3,133.2 300.6,134.9 300.9,133.1 301.2,134.7 301.6,135.9 301.9,134.3 302.2,133.8 302.5,131.8 302.8,132.8 303.2,131.4 303.5,132.7 303.8,130.7 304.1,128.2 304.4,126.9 304.8,125.6 305.1,128.4 305.4,132.9 305.7,132.6 306,132.7 306.4,131.8 306.7,134.1 307,135 307.3,135.5 307.6,135.9 308,133.7 308.3,132.2 308.6,135.4 308.9,134.6 309.2,134.8 309.6,133.1 309.9,134.9 310.2,135.8 310.5,136.1 310.8,132.5 311.2,134.3 311.5,132.6 311.8,133.9 312.1,134.6 312.4,134.1 312.8,134.2 313.1,134.1 313.4,132.7 313.7,132.9 314,134.7 314.4,135.8 314.7,134 315,133.5 315.3,133.3 315.6,133.6 316,135.5 316.3,134.1 316.6,134.6 316.9,134.9 317.2,134.9 317.6,134.9 317.9,134.9 318.2,136.1 318.5,135.6 318.8,135.5 319.2,136 319.5,135.5 319.8,135 320.1,134.9 320.4,135.1 320.8,134.2 321.1,134.1 321.4,133.6 321.7,133.8 322,134.4 322.4,134.1 322.7,134.2 323,134.6 323.3,134.1 323.6,134.8 324,133.9 324.3,133.9 324.6,133.9 324.9,133.7 325.2,134.6 325.6,134.6 325.9,135.3 326.2,134.7 326.5,135.5 326.8,135.8 327.2,135.4 327.5,135.5 327.8,134.7 328.1,136.3 328.4,135.6 328.8,135.9 329.1,135.4 329.4,135.7 329.7,135.1 330,135.6 330.4,135.2 330.7,134.8 331,134.8 331.3,133.8 331.6,134.2 332,133.8 332.3,134.4 332.6,134.2 332.9,133.9 333.2,134 333.6,135.3 333.9,134 334.2,135 334.5,134.6 334.8,134.5 335.2,133.3 335.5,134 335.8,133.3 336.1,133 336.4,133.3 336.8,132.8 337.1,133.2 337.4,132.7 337.7,133.3 338,133.4 338.4,133.2 338.7,133.4 339,133.7 339.3,134.1 339.6,134.3 340,135.4 340.3,135 340.6,134.8 340.9,134.9 341.2,134.8 341.6,135.1 341.9,134.8 342.2,134.4 342.5,134.3 342.8,134.2 343.2,134 343.5,134.4 343.8,134.1 344.1,134.8 344.4,134.6 344.8,135.1 345.1,134.8 345.4,134.3 345.7,134.4 346,134.6 346.4,134.6 346.7,134.4 347,134.3 347.3,134.3 347.6,134.2 348,134.4 348.3,134.4 348.6,134.9 348.9,134.9 349.2,135.2 349.6,135.5 349.9,136.4 350.2,135.2 350.5,135.7 350.8,135.8 351.2,136 351.5,135.7 351.8,136 352.1,134.6 352.4,135.5 352.8,134 353.1,134 353.4,134.2 353.7,134 354,133.9 354.4,134.1 354.7,134.3 355,134.7 355.3,134.7 355.6,134.2 356,134.4 356.3,135.1 356.6,135.1 356.9,134.5 357.2,134.3 357.6,133.9 357.9,134.4 358.2,133.5 358.5,133.7 358.8,133.7 359.2,134.8 359.5,134.2 359.8,134.8 360.1,134.2 360.4,134.2 360.8,135.1 361.1,135 361.4,135.2 361.7,135.1 362,135.1 362.4,135.2 362.7,135.1 363,135.3 363.3,135.6 363.6,134.7 364,133.9 364.3,133.9 364.6,133.4 364.9,133.1 365.2,133.4 365.6,133.1 365.9,133 366.2,134 366.5,134.2 366.8,133.6 367.2,134 367.5,133.3 367.8,133.4 368.1,133.9 368.4,133.7 368.8,134.2 369.1,133.3 369.4,134.8 369.7,134.9 370,135.4 370.4,135.3 370.7,135.9 371,136.7 371.3,136.9 371.6,137 372,137.1 372.3,137.2 372.6,136.9 372.9,136.6 373.2,136.4 373.6,136.3 373.9,136 374.2,135.8 374.5,135.9 374.8,135 375.2,135.3 375.5,135.3 375.8,135.6 376.1,135.5 376.4,135 376.8,134.6 377.1,134.1 377.4,134.3 377.7,133.8 378,132.9 378.4,132.8 378.7,132.6 379,132.6 379.3,132 379.6,132.6 380,132.4 380.3,131.9 380.6,132 380.9,131.8 381.2,131.9 381.6,132.3 381.9,132.7 382.2,132.6 382.5,132 382.8,131.6 383.2,131.3 383.5,131.6 383.8,131.3 384.1,131.8 384.4,131.7 384.8,132.1 385.1,132.1 385.4,133.3 385.7,133.2 386,133.1 386.4,133 386.7,133.6 387,133.9 387.3,133.5 387.6,134.2 388,135.3 388.3,135.1 388.6,135.3 388.9,135.9 389.2,136.4 389.6,135.6 389.9,135.3 390.2,134.8 390.5,134.1 390.8,133.7 391.2,132.6 391.5,131.2 391.8,132 392.1,132 392.4,132.2 392.8,132.3 393.1,132.5 393.4,133 393.7,132.9 394,133 394.4,133.9 394.7,134 395,135.4 395.3,135.1 395.6,136 396,135.3 396.3,135.8 396.6,136.8 396.9,136.5 397.2,137.3 397.6,137.1 397.9,138.2 398.2,137.4 398.5,137.8 398.8,136.9 399.2,137.2 399.5,136.8 399.8,135.9 400.1,134.9 400.4,134.8 400.8,134.5 401.1,134 401.4,133.8 401.7,133.8 402,133 402.4,132.7 402.7,132.5 403,132.8 403.3,132.8 403.6,132.8 404,133.1 404.3,133.8 404.6,133 404.9,133.2 405.2,133.5 405.6,133.5 405.9,134.5 406.2,134.4 406.5,134.9 406.8,134.4 407.2,135.5 407.5,135.5 407.8,135.1 408.1,136 408.4,136.1 408.8,136 409.1,136.1 409.4,135.7 409.7,136.5 410,134.8 410.4,132.7 410.7,131.1 411,130.8 411.3,130.3 411.6,130.7 412,130.7 412.3,131.2 412.6,130.8 412.9,131.8 413.2,132.2 413.6,132.4 413.9,133.8 414.2,133.9 414.5,133.7 414.8,134.4 415.2,134.2 415.5,134.3 415.8,134.4 416.1,134.8 416.4,136 416.8,134.9 417.1,134.7 417.4,135 417.7,135.4 418,136.4 418.4,136.6 418.7,134.8 419,136.6 419.3,132.4 419.6,131.7 420,132.1 420.3,135.8 420.6,133.7 420.9,134.2 421.2,134.3 421.6,131.9 421.9,131.8 422.2,131.8 422.5,132 422.8,132.7 423.2,131.2 423.5,131.5 423.8,132.2 424.1,132.6 424.4,133 424.8,132.2 425.1,132.6 425.4,132.9 425.7,132.1 426,132.9 426.4,133.7 426.7,132.8 427,132.9 427.3,132.9 427.6,133.8 428,133.5 428.3,134.5 428.6,133.5 428.9,133.5 429.2,133.3 429.6,134 429.9,134.2 430.2,134.1 430.5,134.6 430.8,134.9 431.2,134.9 431.5,135.1 431.8,135.2 432.1,135.5 432.4,134.3 432.8,133.6 433.1,131.6 433.4,130.4 433.7,130 434,131.2 434.4,131.5 434.7,131.6 435,130.7 435.3,131.4 435.6,131.6 436,133.2 436.3,133 436.6,132.6 436.9,133.6 437.2,132.4 437.6,132 437.9,132.7 438.2,132.9 438.5,131.3 438.8,132.3 439.2,133.7 439.5,134.3 439.8,134.9 440.1,134.2 440.4,133.9 440.8,132.2 441.1,135.6 441.4,130.1 441.7,128.8 442,126.1 442.4,120.5 442.7,127.1 443,122.6 443.3,123.6 443.6,126.4 444,129.3 444.3,127.7 444.6,124.7 444.9,128.7 445.2,128.3 445.6,127.8 445.9,128.5 446.2,128.8 446.5,127.6 446.8,127.3 447.2,128.1 447.5,128 447.8,127.5 448.1,126.7 448.4,129.7 448.8,131.2 449.1,132 449.4,126.8 449.7,129 450,127.2 450.4,123.8 450.7,125.5 451,123.7 451.3,122.8 451.6,122.8 452,128 452.3,125.3 452.6,125.2 452.9,126.8 453.2,126.2 453.6,126 453.9,126.8 454.2,126.1 454.5,126.6 454.8,125.5 455.2,124.9 455.5,123.5 455.8,120.4 456.1,121.4 456.4,120.3 456.8,121.6 457.1,120.4 457.4,124.6 457.7,123.9 458,123.1 458.4,124.9 458.7,123.5 459,121.1 459.3,124.5 459.6,122.4 460,122.7 460.3,125.7 460.6,125.6 460.9,125.2 461.2,124.9 461.6,125.4 461.9,126.3 462.2,126.1 462.5,126.5 462.8,124.2 463.2,125.7 463.5,126.2 463.8,126.8 464.1,127.1 464.4,125.9 464.8,125.8 465.1,126.6 465.4,125.2 465.7,127.1 466,126.2 466.4,122.2 466.7,115.6 467,118.7 467.3,114.5 467.6,109.3 468,117.7 468.3,113.1 468.6,120.1 468.9,115.3 469.2,116 469.6,119.7 469.9,116.2 470.2,115.5 470.5,117.4 470.8,115.5 471.2,114.5 471.5,108.9 471.8,112.3 472.1,110.4 472.4,108.3 472.8,108.5 473.1,108.1 473.4,107.9 473.7,108.6 474,112.3 474.4,112.5 474.7,109.3 475,108.9 475.3,114.7 475.6,113.9 476,109.6 476.3,116.4 476.6,118.5 476.9,120.5 477.2,117.1 477.6,116 477.9,111.1 478.2,103.5 478.5,109.2 478.8,115.4 479.2,119.9 479.5,121.1 479.8,122.1 480.1,121.1 480.4,121.7 480.8,122.5 481.1,120.7 481.4,120.2 481.7,117.7 482,120.3 482.4,118.2 482.7,119.1 483,122.8 483.3,122.6 483.6,122 484,121.5 484.3,122.2 484.6,118.7 484.9,122.3 485.2,124.2 485.6,120.5 485.9,121.9 486.2,122 486.5,123.1 486.8,124 487.2,124 487.5,125.4 487.8,126.4 488.1,128.3 488.4,126.7 488.8,129.5 489.1,129.8 489.4,128.2 489.7,129.7 490,131 490.4,127.6 490.7,132.2 491,133.4 491.3,133.2 491.6,131 492,134.5 492.3,132.9 492.6,134.9 492.9,136.9 493.2,139.6 493.6,138.7 493.9,140.7 494.2,145.4 494.5,145.7 494.8,144 495.2,138 495.5,143.2 495.8,143.2 496.1,138 496.4,141.3 496.8,133 497.1,134.4 497.4,133.6 497.7,129.7 498,131.2 498.4,131.6 498.7,133.5 499,133.8 499.3,135.4 499.6,137 500,137.2 500.3,128.3 500.6,132.3 500.9,131.3 501.2,137.2 501.6,137.5 501.9,140 502.2,131.1 502.5,131.4 502.8,133 503.2,133.1 503.5,132.7 503.8,130.9 504.1,129.8 504.4,127.9 504.8,130.9 505.1,129.8 505.4,130 505.7,129.9 506,129.3 506.4,127.8 506.7,127.8 507,127.6 507.3,128.4 507.6,130.3 508,129.6 508.3,130.6 508.6,129.4 508.9,128.8 509.2,129.2 509.6,130.8 509.9,128.9 510.2,129.5 510.5,129 510.8,129.5 511.2,131.6 511.5,131.3 511.8,131.3 512.1,130.9 512.4,131.6 512.8,131.8 513.1,131.2 513.4,130.2 513.7,131.5 514,130.3 514.4,129.1 514.7,130.2 515,130.7 515.3,130.9 515.6,132.2 516,134.4 516.3,130.5 516.6,133.8 516.9,132.4 517.2,132.7 517.6,135.1 517.9,133.3 518.2,133.9 518.5,132.5 518.8,133.1 519.2,130.6 519.5,133.1 519.8,132.6 520.1,133.1 520.4,132.2 520.8,130.9 521.1,132 521.4,133.8 521.7,134 522,131.4 522.4,131.4 522.7,134.4 523,133.2 523.3,132.4 523.6,134.3 524,133.7 524.3,133.3 524.6,131.8 524.9,133.6 525.2,134.5 525.6,135.3 525.9,135.1 526.2,135.6 526.5,132.8 526.8,135.7 527.2,133.6 527.5,134.3 527.8,133.8 528.1,134.1 528.4,134.9 528.8,136.1 529.1,136.3 529.4,136.2 529.7,136.2 530,137.2 530.4,135.4 530.7,132.8 531,129.3 531.3,127.7 531.6,125.7 532,126.9 532.3,128.8 532.6,131.4 532.9,132.7 533.2,133.2 533.6,134.2 533.9,133.9 534.2,133.4 534.5,133.6 534.8,134.2 535.2,133.5 535.5,133.4 535.8,133.9 536.1,134.5 536.4,135 536.8,135.5 537.1,136 537.4,135.7 537.7,136.5 538,136.6 538.4,135.5 538.7,133 539,130.3 539.3,128.1 539.6,127 540,127.7 540.3,131.3 540.6,134.2 540.9,133.2 541.2,130.6 541.6,128.4 541.9,127.6 542.2,128.4 542.5,130.5 542.8,133 543.2,134.6 543.5,134.6 543.8,134.4 544.1,134.6 544.4,134 544.8,133.8 545.1,133.6 545.4,133.2 545.7,133.3 546,133.8 546.4,133.5 546.7,134.2 547,134.3 547.3,134.6 547.6,134.3 548,135 548.3,134.9 548.6,134.7 548.9,135 549.2,134.6 549.6,133.8 549.9,135.3 550.2,135 550.5,135.3 550.8,134.7 551.2,134.3 551.5,134 551.8,133.9 552.1,134.1 552.4,133.5 552.8,133.8 553.1,134.6 553.4,133.8 553.7,134.1 554,134.6 554.4,134.7 554.7,134.8 555,135 555.3,134.6 555.6,134.4 556,133.6 556.3,133.5 556.6,132.9 556.9,132.9 557.2,133.1 557.6,133.1 557.9,132.5 558.2,133.1 558.5,134.6 558.8,133.5 559.2,134.6 559.5,134.3 559.8,134.7 560.1,134.6 560.4,134.8 560.8,134.3 561.1,135 561.4,135.3 561.7,133.7 562,134.3 562.4,134.1 562.7,134.7 563,135.1 563.3,135 563.6,134.8 564,134.3 564.3,133.8 564.6,134.3 564.9,133.6 565.2,133.5 565.6,133.8 565.9,133.3 566.2,133.8 566.5,133.7 566.8,134.2 567.2,134.7 567.5,134.4 567.8,135 568.1,135.4 568.4,134.9 568.8,135.3 569.1,135.3 569.4,136.2 569.7,135.5 570,135.9 570.4,135.5 570.7,135.7 571,136.3 571.3,136 571.6,136.4 572,136 572.3,136.8 572.6,135.7 572.9,136.1 573.2,135.5 573.6,135.6 573.9,135.3 574.2,136.9 574.5,135.4 574.8,136.3 575.2,136.2 575.5,136.7 575.8,136.2 576.1,137.1 576.4,136.8 576.8,136.4 577.1,136.3 577.4,136.4 577.7,136 578,136.3 578.4,135.9 578.7,135.5 579,135.6 579.3,135.5 579.6,135.9 580,135.6 580.3,135.9 580.6,135.7 580.9,136.6 581.2,136.8 581.6,136.8 581.9,137.9 582.2,137.4 582.5,137.1 582.8,137.7 583.2,136.9 583.5,135.5 583.8,136.1 584.1,135.5 584.4,135 584.8,134.4 585.1,133.8 585.4,133.8 585.7,132.9 586,133.2 586.4,133.5 586.7,133.4 587,132.9 587.3,133.7 587.6,133.2 588,133.1 588.3,133.5 588.6,133.5 588.9,134.4 589.2,134.1 589.6,134.5 589.9,134.7 590.2,135 590.5,135.4 590.8,136.3 591.2,135.8 591.5,136.2 591.8,135.7 592.1,134.6 592.4,129.9 592.8,126.3 593.1,126.9 593.4,128 593.7,129.9 594,133.4 594.4,135 594.7,135.3 595,135 595.3,133.2 595.6,132.9 596,131.6 596.3,131.3 596.6,132.6 596.9,135.5 597.2,135.5 597.6,134.7 597.9,134.3 598.2,133.5 598.5,132.6 598.8,132.1 599.2,131.4 599.5,131.2 599.8,132.3 600.1,132.5 600.4,131.6 600.8,132.6 601.1,132.3 601.4,133.3 601.7,132.7 602,133.5 602.4,134.4 602.7,134.4 603,135.7 603.3,136.3 603.6,137.5 604,138.6 604.3,140 604.6,139.7 604.9,139.5 605.2,136.6 605.6,134.3 605.9,131.2 606.2,128.9 606.5,128.5 606.8,128.1 607.2,127.7 607.5,127.2 607.8,127.4 608.1,127.2 608.4,127.1 608.8,126.5 609.1,126.1 609.4,127.1 609.7,126.7 610,126.9 610.4,127 610.7,127.1 611,126.2 611.3,125.9 611.6,124.3 612,120.7 612.3,118.7 612.6,118.1 612.9,117.7 613.2,117.5 613.6,117.3 613.9,119.7 614.2,130.7 614.5,130.9 614.8,131.4 615.2,131.1 615.5,131.1 615.8,131.6 616.1,132.2 616.4,131.7 616.8,126.4 617.1,119.7 617.4,118.6 617.7,118.3 618,118.8 618.4,121.1 618.7,124 619,126.7 619.3,126.7 619.6,126.5 620,127.3 620.3,127.7 620.6,127.7 620.9,127.8 621.2,127.3 621.6,127.9 621.9,128.3 622.2,128 622.5,128.1 622.8,128.5 623.2,127.8 623.5,127 623.8,126.7 624.1,126.9 624.4,131.2 624.8,135.5 625.1,136 625.4,136.7 625.7,136.2 626,136.6 626.4,135.9 626.7,136.1 627,135.7 627.3,134.9 627.6,133.2 628,132 628.3,131.3 628.6,130.2 628.9,130.6 629.2,130.2 629.6,130.2 629.9,130 630.2,130.5 630.5,130.2 630.8,130.4 631.2,131.3 631.5,130.9 631.8,132.6 632.1,132.4 632.4,133 632.8,134.4 633.1,134.4 633.4,135.6 633.7,136.3 634,137.2 634.4,137.8 634.7,137.5 635,136.9 635.3,136.7 635.6,136.8 636,137 636.3,136.4 636.6,136.2 636.9,135.7 637.2,136.2 637.6,135.4 637.9,136.6 638.2,136.5 638.5,136.4 638.8,136.2 639.2,136 639.5,135.9 639.8,135.5 640.1,135.3 640.4,135 640.8,135.4 641.1,135 641.4,135 641.7,134.4 642,134.1 642.4,134 642.7,134.2 643,133.6 643.3,134.2 643.6,133.7 644,134.1 644.3,134.5 644.6,134.3 644.9,134.3 645.2,135.6 645.6,135.3 645.9,135.3 646.2,136.2 646.5,136.5 646.8,135.7 647.2,135.8 647.5,136.6 647.8,135.4 648.1,135.7 648.4,135.3 648.8,134.3 649.1,133.5 649.4,133 649.7,132.7 650,132.2 650.4,132.5 650.7,131 651,131.3 651.3,131 651.6,131.7 652,131.8 652.3,131.5 652.6,132.1 652.9,132.5 653.2,133 653.6,133.1 653.9,133.3 654.2,133.3 654.5,133.7 654.8,133.8 655.2,134.4 655.5,134.5 655.8,134.3 656.1,134.8 656.4,134.8 656.8,135.1 657.1,135.4 657.4,135.3 657.7,135.3 658,135.1 658.4,135.8 658.7,135.2 659,134.8 659.3,134.9 659.6,135.3 660,135.6 660.3,135.2 660.6,134.4 660.9,134.7 661.2,133.6 661.6,134.3 661.9,133.7 662.2,133.6 662.5,132.9 662.8,133.3 663.2,132.8 663.5,132.7 663.8,133.9 664.1,133.2 664.4,134.2 664.8,134 665.1,134.5 665.4,134.8 665.7,135.4 666,135.4 666.4,135.1 666.7,135.3 667,136.1 667.3,136.2 667.6,135.7 668,136.2 668.3,136 668.6,136.5 668.9,135.9 669.2,136.5 669.6,135.9 669.9,135.3 670.2,135.6 670.5,135 670.8,133.8 671.2,133 671.5,133.2 671.8,133 672.1,132.3 672.4,132.2 672.8,131.8 673.1,131.5 673.4,131.7 673.7,131.8 674,131.5 674.4,131.3 674.7,131.4 675,132 675.3,131.6 675.6,132.9 676,133.4 676.3,134.1 676.6,134.6 676.9,135.2 677.2,135.3 677.6,136.4 677.9,136.4 678.2,136.5 678.5,136.3 678.8,135.8 679.2,136.3 679.5,135.8" fill="none" stroke="#3A53A4" stroke-width="1.22" stroke-linejoin="round"/>
<path d="M79.8,376.7 80.5,381.7 81.2,385.2 81.9,386.9 82.6,386 83.3,383.6 84,380 84.7,378.4 85.4,378.5 86.1,380.2 86.8,382 87.5,382.8 88.2,380.3 88.9,375.9 89.6,372.5 90.3,368.5 91,365.3 91.7,364.1 92.4,372.6 93.1,385.5 93.8,383.1 94.5,380.5 95.2,377.1 95.9,376 96.6,373.6 97.3,372 98,370.5 98.7,370.4 99.4,369.4 100.1,369.3 100.8,370.6 101.5,373.3 102.2,377.5 102.9,378 103.6,379.7 104.3,381.3 105,382 105.7,380.9 106.4,379.5 107.1,377 107.8,374.9 108.5,373.3 109.2,373.3 109.9,372.3 110.6,373.2 111.3,372.9 112,375.6 112.7,376 113.4,376.6 114.1,378.3 114.8,378.3 115.5,379.5 116.2,378.7 116.9,379.6 117.6,378.1 118.3,376.4 119,375.6 119.7,374.3 120.4,371.5 121.1,370.5 121.8,371.2 122.5,372.9 123.2,374.9 123.9,375.3 124.6,376.2 125.3,375.2 126,374.3 126.7,375.1 127.4,374.4 128.1,375.4 128.8,374.3 129.5,373.7 130.2,373.8 130.9,374.9 131.6,374.6 132.3,374.8 133,375 133.7,375.1 134.4,375.1 135.1,375.3 135.8,376.4 136.5,377.3 137.2,376.2 137.9,378.5 138.6,377.1 139.3,376.8 140,374.5 140.7,373.8 141.4,372.9 142.1,372.4 142.8,373.1 143.5,373.7 144.2,373.9 144.9,375.3 145.6,376.5 146.3,376.9 147,376.4 147.7,376.1 148.4,375.6 149.1,374.5 149.8,373.9 150.5,374.9 151.2,373.8 151.9,374 152.6,373.7 153.3,374.8 154,375 154.7,373.9 155.4,374.1 156.1,373.4 156.8,374.8 157.5,374.7 158.2,374.4 158.9,376.1 159.6,376.2 160.3,376.7 161,376.9 161.7,376.6 162.4,376.6 163.1,377 163.8,376.3 164.5,375.3 165.2,376.2 165.9,374.6 166.6,374.2 167.3,374 168,374.6 168.7,374.7 169.4,374.4 170.1,374.8 170.8,373.8 171.5,374.6 172.2,374.8 172.9,375.1 173.6,375.5 174.3,374.3 175,376.9 175.7,374.9 176.4,375.6 177.1,376.1 177.8,376.5 178.5,376.4 179.2,374.7 179.9,375.2 180.6,375.5 181.3,374 182,373.6 182.7,373 183.4,375 184.1,374.7 184.8,373.9 185.5,374.1 186.2,373.6 186.9,372.6 187.6,372.6 188.3,372.4 189,372.2 189.7,372.4 190.4,372 191.1,372.3 191.8,373.5 192.5,373.6 193.2,373.7 193.9,375 194.6,374.1 195.3,374.2 196,374.4 196.7,373.7 197.4,374.9 198.1,375 198.8,374.9 199.5,375.3 200.2,374.8 200.9,374 201.6,375 202.3,374.8 203,375.9 203.7,375.8 204.4,375.6 205.1,376 205.8,376.7 206.5,376.7 207.2,376.4 207.9,376.5 208.6,376.4 209.3,376.7 210,377.2 210.7,376.8 211.4,376.7 212.1,375.5 212.8,374.5 213.5,373.9 214.2,374 214.9,374.6 215.6,374.3 216.3,373.2 217,373 217.7,374.2 218.4,373.9 219.1,372.8 219.8,373.8 220.5,373 221.2,373.1 221.9,372.3 222.6,372.5 223.3,372.4 224,372.2 224.7,373.1 225.4,373.3 226.1,374.2 226.8,373.2 227.5,372.7 228.2,373.6 228.9,373.6 229.6,373.8 230.3,373.7 231,372.7 231.7,373.4 232.4,374 233.1,374.7 233.8,373.9 234.5,375.1 235.2,375.4 235.9,374.8 236.6,375.3 237.3,375.9 238,375.3 238.7,375.6 239.4,375.3 240.1,374.7 240.8,374.5 241.5,374.1 242.2,374.9 242.9,374 243.6,373.9 244.3,374.7 245,374.2 245.7,375 246.4,375.6 247.1,375.6 247.8,376.1 248.5,376.9 249.2,376.9 249.9,375.6 250.6,375.4 251.3,376.3 252,375.5 252.7,374.1 253.4,374.6 254.1,375.3 254.8,374.9 255.5,375.6 256.2,375.5 256.9,375.8 257.6,374.7 258.3,375.2 259,375.4 259.7,373.7 260.4,374.7 261.1,374.6 261.8,374.3 262.5,373.5 263.2,372.3 263.9,371.8 264.6,372.4 265.3,372.8 266,373.6 266.7,374.3 267.4,375.1 268.1,375.1 268.8,375.1 269.5,375.8 270.2,375.1 270.9,373.5 271.6,370.8 272.3,369.5 273,367.4 273.7,367 274.4,365.9 275.1,366.8 275.8,368.5 276.5,370.5 277.2,373.6 277.9,374.7 278.6,376 279.3,378.4 280,378.4 280.7,377.4 281.4,375.4 282.1,373.9 282.8,372.3 283.5,370.6 284.2,370.5 284.9,371.1 285.6,371.3 286.3,373.7 287,373.4 287.7,375.5 288.4,377.7 289.1,377.8 289.8,377.7 290.5,377.1 291.2,376.4 291.9,376.2 292.6,374.1 293.3,372.6 294,370.7 294.7,370.5 295.4,369.9 296.1,370.1 296.8,372 297.5,374.5 298.2,377.5 298.9,379.1 299.6,380.9 300.3,382.4 301,380.6 301.7,379 302.4,378.3 303.1,376 303.8,373.9 304.5,372.7 305.2,371.7 305.9,372.3 306.6,372.6 307.3,374.2 308,374.5 308.7,376 309.4,377.4 310.1,377.5 310.8,377.9 311.5,376.9 312.2,375.7 312.9,375.1 313.6,373.7 314.3,372.3 315,371.7 315.7,371.4 316.4,371.4 317.1,372.2 317.8,373.7 318.5,375 319.2,377.3 319.9,378.5 320.6,378.8 321.3,380.1 322,379.4 322.7,377.5 323.4,376.4 324.1,375.1 324.8,372.9 325.5,371.7 326.2,370.3 326.9,370.1 327.6,369.9 328.3,371.2 329,372.2 329.7,374.1 330.4,374.2 331.1,376.4 331.8,377.6 332.5,377.5 333.2,377 333.9,376.7 334.6,375.2 335.3,374.2 336,373.3 336.7,372.5 337.4,372.4 338.1,371.3 338.8,372.7 339.5,372.5 340.2,374.3 340.9,376.3 341.6,378.5 342.3,378.9 343,378.6 343.7,379.1 344.4,376.7 345.1,373.3 345.8,370.2 346.5,367.6 347.2,366.3 347.9,366.4 348.6,366.5 349.3,370.5 350,371.8 350.7,374.2 351.4,377.1 352.1,378.7 352.8,380.6 353.5,379.7 354.2,377.6 354.9,375.6 355.6,373.3 356.3,371 357,369.5 357.7,367.5 358.4,368.5 359.1,369.3 359.8,372.5 360.5,377 361.2,379.5 361.9,383.5 362.6,386.6 363.3,387.3 364,386.6 364.7,384.8 365.4,381.3 366.1,378 366.8,374 367.5,371 368.2,371 368.9,369.9 369.6,371.1 370.3,373.9 371,376 371.7,377.6 372.4,379.9 373.1,381.8 373.8,382.2 374.5,382.7 375.2,381.2 375.9,379.3 376.6,377.3 377.3,374.9 378,373.5 378.7,372.2 379.4,371 380.1,374.5 380.8,376.8 381.5,380 382.2,383.9 382.9,384.6 383.6,384.6 384.3,383.4 385,379.4 385.7,375.7 386.4,372.5 387.1,369.5 387.8,366.6 388.5,364.4 389.2,365.4 389.9,367.4 390.6,371.2 391.3,374.1 392,377.6 392.7,380.9 393.4,382.1 394.1,383 394.8,382.3 395.5,380.3 396.2,379 396.9,377.2 397.6,374.3 398.3,373.4 399,372 399.7,371.4 400.4,370.6 401.1,372.2 401.8,374.6 402.5,376.1 403.2,376.9 403.9,378.6 404.6,379.8 405.3,378.9 406,378.6 406.7,378.7 407.4,376.2 408.1,374.7 408.8,372.7 409.5,371.7 410.2,372 410.9,371.1 411.6,371.4 412.3,373 413,375.4 413.7,377.6 414.4,378.4 415.1,380.3 415.8,380.1 416.5,380.1 417.2,378.9 417.9,377.5 418.6,375.9 419.3,375.5 420,375.6 420.7,374.5 421.4,375.1 422.1,375.4 422.8,376 423.5,376 424.2,376.5 424.9,377.1 425.6,376.7 426.3,376.8 427,376.6 427.7,375.9 428.4,374.4 429.1,373.8 429.8,372.2 430.5,373.1 431.2,372.3 431.9,373.7 432.6,374.7 433.3,376.9 434,378 434.7,377.8 435.4,375.2 436.1,374.5 436.8,372.5 437.5,371.9 438.2,372.9 438.9,373.3 439.6,374.2 440.3,374.2 441,376.1 441.7,376.4 442.4,376.5 443.1,375.8 443.8,376.9 444.5,378.8 445.2,380.8 445.9,379.6 446.6,382 447.3,379.8 448,376.6 448.7,376.4 449.4,371.2 450.1,370.5 450.8,369.7 451.5,367.4 452.2,368.6 452.9,373.3 453.6,371.6 454.3,373.1 455,375.1 455.7,375.3 456.4,377.3 457.1,379.8 457.8,376.2 458.5,378.8 459.2,371.1 459.9,366.5 460.6,365.5 461.3,362.9 462,359.7 462.7,360.9 463.4,358.8 464.1,359.8 464.8,359.7 465.5,368.4 466.2,382.3 466.9,388.8 467.6,388.1 468.3,384.3 469,376.8 469.7,370.4 470.4,368.2 471.1,373.8 471.8,376.7 472.5,375.4 473.2,370.3 473.9,365.7 474.6,361 475.3,356.3 476,352.1 476.7,347.6 477.4,346.7 478.1,352.9 478.8,361.6 479.5,369.9 480.2,374.8 480.9,379.2 481.6,385.7 482.3,386.6 483,379.3 483.7,375.2 484.4,366.9 485.1,362 485.8,355.3 486.5,357.3 487.2,365.6 487.9,369.2 488.6,377.9 489.3,383.1 490,385.5 490.7,382.9 491.4,382.8 492.1,381.8 492.8,378.9 493.5,377.6 494.2,375.6 494.9,377.2 495.6,374.9 496.3,374.6 497,370.2 497.7,372.5 498.4,370.9 499.1,374 499.8,374.9 500.5,375.1 501.2,376.5 501.9,377.2 502.6,376.5 503.3,375.8 504,374.1 504.7,373.2 505.4,372 506.1,372.1 506.8,373 507.5,373.6 508.2,374.8 508.9,375.8 509.6,377.7 510.3,377.9 511,376.9 511.7,376.4 512.4,376.3 513.1,375.2 513.8,375.8 514.5,374.7 515.2,373.9 515.9,373.9 516.6,374.5 517.3,372.5 518,372.6 518.7,371.9 519.4,372.1 520.1,371.7 520.8,371.7 521.5,372.9 522.2,373.6 522.9,374.9 523.6,375.2 524.3,376.8 525,376.1 525.7,376.3 526.4,375.6 527.1,375.7 527.8,375.3 528.5,375.2 529.2,375.6 529.9,375 530.6,375 531.3,375.9 532,374.9 532.7,374.4 533.4,375.2 534.1,375.2 534.8,374 535.5,375.4 536.2,376.1 536.9,375.8 537.6,374.6 538.3,375 539,373.5 539.7,373.9 540.4,374.7 541.1,375.5 541.8,376.8 542.5,377.6 543.2,377.5 543.9,378.3 544.6,377.4 545.3,377.8 546,379.2 546.7,378.6 547.4,378.8 548.1,377.2 548.8,376.1 549.5,374.8 550.2,373.8 550.9,373 551.6,373.3 552.3,374.7 553,376.7 553.7,377.9 554.4,379.8 555.1,381.1 555.8,380.3 556.5,379.6 557.2,380.3 557.9,378.9 558.6,377 559.3,376 560,374.7 560.7,374.4 561.4,375.6 562.1,375.3 562.8,377 563.5,376.5 564.2,377.3 564.9,378.3 565.6,378.6 566.3,377.7 567,378.3 567.7,376.9 568.4,376.5 569.1,376.2 569.8,376 570.5,374.4 571.2,374.7 571.9,374.5 572.6,374.2 573.3,375.4 574,376.9 574.7,376.8 575.4,377.6 576.1,378 576.8,377.5 577.5,378.3 578.2,378 578.9,377.5 579.6,376.8 580.3,374.9 581,373.7 581.7,372.3 582.4,371 583.1,370.3 583.8,371.4 584.5,373.3 585.2,374.7 585.9,378.1 586.6,379.1 587.3,380.6 588,380.1 588.7,378.9 589.4,378.4 590.1,376.9 590.8,375 591.5,373.2 592.2,371.3 592.9,370.4 593.6,369.4 594.3,369.9 595,370 595.7,372.1 596.4,373.8 597.1,375.5 597.8,376.3 598.5,375.9 599.2,374.6 599.9,373 600.6,373.3 601.3,374.8 602,376.4 602.7,375.9 603.4,377.9 604.1,377.3 604.8,373.6 605.5,371.1 606.2,370.5 606.9,370.9 607.6,372.7 608.3,373.9 609,376.2 609.7,378.1 610.4,379.9 611.1,378.4 611.8,377.3 612.5,375 613.2,371.8 613.9,370.3 614.6,369.1 615.3,370.3 616,371.8 616.7,374 617.4,374.8 618.1,376.7 618.8,377.4 619.5,378.6 620.2,379.8 620.9,378.7 621.6,376.4 622.3,372.6 623,371.2 623.7,370.5 624.4,368.9 625.1,371 625.8,371.6 626.5,373.2 627.2,374.7 627.9,376.7 628.6,377.1 629.3,378.3 630,379 630.7,380.1 631.4,380.3 632.1,378.8 632.8,375.9 633.5,371.9 634.2,367.9 634.9,366.4 635.6,365 636.3,365.6 637,368 637.7,370.1 638.4,373.7 639.1,376.7 639.8,381.9 640.5,384.6 641.2,385.8 641.9,386.3 642.6,383.9 643.3,381.5 644,379.5 644.7,375.7 645.4,372.7 646.1,370.2 646.8,368.5 647.5,367.8 648.2,369.5 648.9,370 649.6,372.9 650.3,375.4 651,378.3 651.7,379.7 652.4,381.4 653.1,382.8 653.8,380.4 654.5,376 655.2,372.5 655.9,369.6 656.6,367.1 657.3,369 658,370.5 658.7,374.9 659.4,378.6 660.1,385.1 660.8,387.7 661.5,390 662.2,388.2 662.9,387.3 663.6,384.7 664.3,381.6 665,378.9 665.7,375.2 666.4,371.5 667.1,368.7 667.8,369 668.5,370.6 669.2,372.7 669.9,375.8 670.6,378.9 671.3,381 672,383.7 672.7,385.4 673.4,383.5 674.1,382 674.8,379.4 675.5,374.7 676.2,371.5 676.9,367.2 677.6,364.8 678.3,362.5 679,362.3" fill="none" stroke="#ED1C24" stroke-width="1.0" stroke-linejoin="round"/>
<path d="M79.8,367.1 80.1,368.9 80.4,368.5 80.8,369.1 81.1,369.9 81.4,371.6 81.7,373 82,375 82.4,376.8 82.7,378.9 83,381.5 83.3,383.7 83.6,384.6 84,385.4 84.3,385.4 84.6,385.6 84.9,385.9 85.2,385.2 85.6,384.5 85.9,383 86.2,382.5 86.5,380.5 86.8,379.5 87.2,378 87.5,376.9 87.8,374.4 88.1,372.3 88.4,371.1 88.8,369.1 89.1,368.2 89.4,366.7 89.7,366 90,365.4 90.4,365.8 90.7,365.2 91,365.1 91.3,366.8 91.6,366.8 92,368 92.3,369.6 92.6,371.6 92.9,371.6 93.2,374.6 93.6,377.9 93.9,378.4 94.2,381.3 94.5,382.4 94.8,383 95.2,383.9 95.5,383.4 95.8,384.5 96.1,384.7 96.4,383 96.8,382.7 97.1,382.8 97.4,381.4 97.7,379.8 98,379.2 98.4,375.8 98.7,374.7 99,373.1 99.3,371.1 99.6,370.2 100,367.6 100.3,367.5 100.6,366.4 100.9,367.1 101.2,367 101.6,366.3 101.9,366.6 102.2,367.7 102.5,368 102.8,369.1 103.2,370.6 103.5,371.2 103.8,373.8 104.1,374.7 104.4,376.3 104.8,378 105.1,380.2 105.4,382.7 105.7,383.8 106,385 106.4,385.1 106.7,384.6 107,383.5 107.3,383 107.6,382.1 108,380.1 108.3,380 108.6,378.3 108.9,377.6 109.2,375.7 109.6,374.2 109.9,373 110.2,368.7 110.5,366.9 110.8,365.8 111.2,362.4 111.5,361.4 111.8,360.7 112.1,360.8 112.4,360.7 112.8,362.9 113.1,364.5 113.4,367.1 113.7,367.4 114,368.9 114.4,370.9 114.7,371.3 115,374.7 115.3,377.4 115.6,378.7 116,380.7 116.3,382.6 116.6,384.6 116.9,385.3 117.2,387.4 117.6,386.6 117.9,386.4 118.2,386.9 118.5,385.2 118.8,384 119.2,384.1 119.5,382.3 119.8,381.2 120.1,378.6 120.4,376.1 120.8,375.1 121.1,373.9 121.4,371.2 121.7,370.2 122,369.2 122.4,368.3 122.7,368.5 123,370.3 123.3,372.1 123.6,374.3 124,377.5 124.3,379.3 124.6,380.1 124.9,381 125.2,380 125.6,382 125.9,382.4 126.2,381.8 126.5,384.2 126.8,383.7 127.2,383.5 127.5,383.6 127.8,383.8 128.1,383.4 128.4,382.2 128.8,382.4 129.1,382.1 129.4,381.1 129.7,379.9 130,377.4 130.4,376.1 130.7,375 131,373.1 131.3,372.2 131.6,370.7 132,370.7 132.3,370.4 132.6,371.3 132.9,371.9 133.2,372.6 133.6,373.6 133.9,375.5 134.2,376.5 134.5,377.3 134.8,378.9 135.2,380.6 135.5,381.7 135.8,382.3 136.1,383.5 136.4,383.3 136.8,384.1 137.1,384.1 137.4,384.4 137.7,385.6 138,384.7 138.4,384.4 138.7,384.8 139,383.9 139.3,382 139.6,382.5 140,381.2 140.3,381.7 140.6,379.9 140.9,379.9 141.2,379.1 141.6,379.6 141.9,376.5 142.2,376.7 142.5,375.3 142.8,373.6 143.2,373.1 143.5,373.4 143.8,372.1 144.1,372.3 144.4,373.8 144.8,374.6 145.1,376.2 145.4,377.3 145.7,379.9 146,380.5 146.4,380.1 146.7,380.3 147,382.4 147.3,381.4 147.6,384.1 148,384.3 148.3,382.4 148.6,382.5 148.9,381.6 149.2,382.8 149.6,383.2 149.9,381.7 150.2,380.7 150.5,378.1 150.8,383.3 151.2,378.1 151.5,375.1 151.8,378.3 152.1,371.7 152.4,372.3 152.8,374.6 153.1,371.8 153.4,368.4 153.7,373.7 154,374.1 154.4,368.5 154.7,372.2 155,372.1 155.3,376.6 155.6,379.4 156,379.3 156.3,376.4 156.6,377.9 156.9,382.3 157.2,382 157.6,381.9 157.9,382.5 158.2,378.1 158.5,380.7 158.8,383.9 159.2,383.3 159.5,379.7 159.8,384.5 160.1,384.1 160.4,381.6 160.8,378.9 161.1,378.6 161.4,378 161.7,379.4 162,381.1 162.4,377.8 162.7,378.3 163,377.3 163.3,375.5 163.6,374.1 164,375 164.3,373.7 164.6,375.2 164.9,371.8 165.2,370.1 165.6,375 165.9,370.3 166.2,372.2 166.5,375.5 166.8,372.2 167.2,378.7 167.5,378.9 167.8,380.9 168.1,380.5 168.4,381.7 168.8,381.1 169.1,379.2 169.4,381.4 169.7,382.1 170,381.5 170.4,380.9 170.7,380.6 171,379.5 171.3,381.6 171.6,379.9 172,377.3 172.3,378.1 172.6,371.1 172.9,377.3 173.2,372.3 173.6,375.4 173.9,371.2 174.2,373.2 174.5,379.7 174.8,374 175.2,378.2 175.5,380.8 175.8,370.7 176.1,379.4 176.4,378.6 176.8,373.3 177.1,369.6 177.4,373.6 177.7,378.8 178,377.8 178.4,377.2 178.7,372.6 179,373.4 179.3,378.2 179.6,373.9 180,380.2 180.3,376.9 180.6,374.1 180.9,379.3 181.2,379.9 181.6,377.7 181.9,375.2 182.2,377.7 182.5,378.3 182.8,380 183.2,379 183.5,374.7 183.8,376.6 184.1,376.8 184.4,374.6 184.8,375 185.1,377.6 185.4,375.8 185.7,378.3 186,378.3 186.4,377.6 186.7,383.1 187,378.7 187.3,376.9 187.6,385.5 188,385.2 188.3,381.4 188.6,385.1 188.9,379.3 189.2,383.9 189.6,376.5 189.9,376.9 190.2,376.9 190.5,384.2 190.8,381 191.2,379.6 191.5,385.2 191.8,386.1 192.1,386.5 192.4,381.9 192.8,379.1 193.1,381.2 193.4,378.6 193.7,381.1 194,380.2 194.4,379.4 194.7,381.4 195,385.6 195.3,388.6 195.6,381.8 196,375.6 196.3,378.9 196.6,374.8 196.9,373.3 197.2,378.8 197.6,379.7 197.9,377.8 198.2,377.9 198.5,369.5 198.8,375.1 199.2,375.4 199.5,375.4 199.8,367 200.1,371.6 200.4,369.2 200.8,373 201.1,374.4 201.4,374.6 201.7,374 202,373.7 202.4,372.4 202.7,375.7 203,374.8 203.3,380.4 203.6,379.7 204,380.2 204.3,382.3 204.6,380.4 204.9,379.6 205.2,376.5 205.6,377.9 205.9,378.5 206.2,374.9 206.5,374.1 206.8,374.9 207.2,375 207.5,374 207.8,378.2 208.1,375.4 208.4,371.6 208.8,375 209.1,378.4 209.4,378.2 209.7,379.4 210,375.7 210.4,373.3 210.7,383.3 211,374.7 211.3,385.2 211.6,387.4 212,381.7 212.3,379.9 212.6,384.8 212.9,377.6 213.2,373.4 213.6,373.2 213.9,385.8 214.2,384 214.5,386.8 214.8,375.5 215.2,377 215.5,376.8 215.8,378.7 216.1,381 216.4,379.9 216.8,382.3 217.1,385.2 217.4,379.7 217.7,379.4 218,386.2 218.4,378.6 218.7,380.7 219,385.2 219.3,382.1 219.6,387.5 220,384.1 220.3,389.3 220.6,390.4 220.9,391.7 221.2,382 221.6,388.9 221.9,387.3 222.2,381.2 222.5,383.2 222.8,389.1 223.2,390 223.5,389.2 223.8,389.5 224.1,381.8 224.4,382.8 224.8,382.6 225.1,385.6 225.4,381.4 225.7,379.5 226,380.7 226.4,384.1 226.7,379.3 227,377.7 227.3,382.5 227.6,379.8 228,377.3 228.3,375.8 228.6,376.4 228.9,377.6 229.2,373.2 229.6,375.9 229.9,378 230.2,380.4 230.5,373.4 230.8,378.3 231.2,381.1 231.5,385.1 231.8,384.1 232.1,386.1 232.4,381.4 232.8,382.7 233.1,377.7 233.4,381.5 233.7,378.1 234,378.9 234.4,380.2 234.7,379.5 235,381.5 235.3,383 235.6,382.3 236,378.2 236.3,379.5 236.6,376.7 236.9,378.6 237.2,376 237.6,371.5 237.9,375.4 238.2,378 238.5,372.4 238.8,376.3 239.2,374.2 239.5,369 239.8,373.4 240.1,372.1 240.4,374.2 240.8,375.9 241.1,376.7 241.4,377.7 241.7,377.6 242,378.6 242.4,377.6 242.7,373.7 243,376.6 243.3,376.8 243.6,377.7 244,380.4 244.3,382.7 244.6,380.8 244.9,384.6 245.2,381.2 245.6,382.6 245.9,379.2 246.2,378.1 246.5,372.6 246.8,375.9 247.2,377.8 247.5,379.7 247.8,383.8 248.1,377.3 248.4,381 248.8,378.8 249.1,379.1 249.4,379.9 249.7,383.9 250,379.4 250.4,382.9 250.7,375.7 251,376.4 251.3,373 251.6,378.7 252,380.4 252.3,379.8 252.6,371.7 252.9,379.6 253.2,377.6 253.6,378.7 253.9,376 254.2,356.2 254.5,355.4 254.8,362.5 255.2,370.4 255.5,374.5 255.8,375.7 256.1,376 256.4,377 256.8,382.3 257.1,376.7 257.4,378.9 257.7,379.5 258,379.9 258.4,376.3 258.7,379.4 259,378.3 259.3,380.4 259.6,375 260,376.2 260.3,377 260.6,378 260.9,379.2 261.2,379.1 261.6,378.4 261.9,375.6 262.2,375.1 262.5,374.1 262.8,364.8 263.2,348.5 263.5,348.9 263.8,365.2 264.1,375.1 264.4,377.6 264.8,377.7 265.1,381 265.4,383.7 265.7,383.1 266,381.2 266.4,382.4 266.7,383.9 267,382.5 267.3,381.6 267.6,382.3 268,384.6 268.3,386 268.6,381.6 268.9,383 269.2,381 269.6,381 269.9,378.9 270.2,377.3 270.5,371.7 270.8,371.2 271.2,373.5 271.5,370.6 271.8,365.3 272.1,366.5 272.4,366.2 272.8,362.9 273.1,362.2 273.4,363.2 273.7,361.1 274,360 274.4,361.3 274.7,363 275,360 275.3,362.5 275.6,364.5 276,367.3 276.3,367.4 276.6,367.3 276.9,370.8 277.2,372.8 277.6,375.2 277.9,375.7 278.2,377.6 278.5,378.3 278.8,380.9 279.2,382.1 279.5,382 279.8,381.5 280.1,380.9 280.4,380 280.8,379.1 281.1,377 281.4,375.7 281.7,373.2 282,370.8 282.4,370.1 282.7,366.9 283,365.5 283.3,365.8 283.6,364.1 284,364.6 284.3,362.6 284.6,364.7 284.9,364.5 285.2,365 285.6,365.7 285.9,364.5 286.2,365.8 286.5,366.8 286.8,368.7 287.2,367.5 287.5,370.2 287.8,370.8 288.1,372.7 288.4,373.6 288.8,376.3 289.1,377.4 289.4,378.9 289.7,381.6 290,381.8 290.4,382.7 290.7,383.5 291,382.5 291.3,381.5 291.6,381.2 292,379.7 292.3,378.6 292.6,375.2 292.9,373.9 293.2,371.7 293.6,369.1 293.9,367.3 294.2,365.8 294.5,363.9 294.8,363 295.2,363.8 295.5,363.2 295.8,364 296.1,365.9 296.4,366.6 296.8,368.2 297.1,369.5 297.4,371.5 297.7,373.4 298,375.5 298.4,378.7 298.7,379.4 299,380.2 299.3,382.2 299.6,384.1 300,383.9 300.3,384.8 300.6,384.3 300.9,383.4 301.2,383 301.6,381.5 301.9,380.5 302.2,378.9 302.5,376.5 302.8,375.8 303.2,371.9 303.5,371.2 303.8,368.9 304.1,367.9 304.4,366.2 304.8,364 305.1,364.7 305.4,365.6 305.7,365.7 306,366.1 306.4,367.7 306.7,369.6 307,371.7 307.3,372.5 307.6,374.5 308,375.6 308.3,377.1 308.6,379 308.9,381.4 309.2,382.5 309.6,383.2 309.9,384.4 310.2,385.3 310.5,385.1 310.8,384.7 311.2,384.1 311.5,383.7 311.8,382.1 312.1,381.4 312.4,378.7 312.8,377.8 313.1,376.5 313.4,375.5 313.7,373.3 314,372.2 314.4,371.3 314.7,369.9 315,368.4 315.3,367.6 315.6,366.6 316,366.9 316.3,366.5 316.6,366.9 316.9,368.3 317.2,368.8 317.6,369.9 317.9,371.4 318.2,374.4 318.5,375.4 318.8,377.1 319.2,379.6 319.5,380.7 319.8,381.7 320.1,383.1 320.4,384.7 320.8,384.3 321.1,384.6 321.4,383.9 321.7,383.7 322,383.7 322.4,382.3 322.7,381.2 323,380.3 323.3,378.1 323.6,377.4 324,374.6 324.3,372.9 324.6,371.4 324.9,369.7 325.2,369.5 325.6,368.3 325.9,368.4 326.2,367 326.5,367.8 326.8,368.4 327.2,368.3 327.5,369.1 327.8,369 328.1,372.5 328.4,372.8 328.8,374.6 329.1,375.5 329.4,377.4 329.7,378.1 330,380.4 330.4,381.2 330.7,381.9 331,382.9 331.3,382.2 331.6,383.2 332,382.7 332.3,383.2 332.6,382.2 332.9,380.8 333.2,379.7 333.6,380.2 333.9,376.8 334.2,376.8 334.5,374.7 334.8,372.9 335.2,369.8 335.5,369.5 335.8,367.3 336.1,365.8 336.4,365.6 336.8,364.4 337.1,364.8 337.4,364.3 337.7,365.7 338,366.6 338.4,367.2 338.7,368.7 339,370.5 339.3,372.3 339.6,374.1 340,377.2 340.3,378.1 340.6,379.4 340.9,380.8 341.2,381.8 341.6,383.3 341.9,383.7 342.2,383.6 342.5,383.4 342.8,383.1 343.2,382.1 343.5,381.8 343.8,380.3 344.1,379.8 344.4,378.1 344.8,377.2 345.1,375.2 345.4,372.9 345.7,371.6 346,370.5 346.4,369.3 346.7,368 347,367.1 347.3,366.6 347.6,366.3 348,366.6 348.3,367.1 348.6,368.6 348.9,369.8 349.2,371.4 349.6,373.2 349.9,376.1 350.2,376 350.5,378.2 350.8,379.9 351.2,381.6 351.5,382.5 351.8,384 352.1,382.7 352.4,384.3 352.8,382.3 353.1,381.9 353.4,381.7 353.7,380.6 354,379.5 354.4,378.4 354.7,377.5 355,376.6 355.3,375 355.6,372.9 356,371.8 356.3,371.4 356.6,370.3 356.9,368.5 357.2,367.4 357.6,366.2 357.9,366.6 358.2,365.2 358.5,365.6 358.8,366.1 359.2,368.3 359.5,368.4 359.8,370.3 360.1,370.8 360.4,372.2 360.8,374.9 361.1,376.3 361.4,378 361.7,379.3 362,380.6 362.4,381.9 362.7,382.6 363,383.7 363.3,384.8 363.6,383.9 364,382.7 364.3,382.4 364.6,381.1 364.9,380 365.2,379.4 365.6,377.8 365.9,376.3 366.2,376.4 366.5,375.1 366.8,372.8 367.2,372 367.5,369.6 367.8,368.5 368.1,368.1 368.4,366.8 368.8,366.7 369.1,364.9 369.4,366.7 369.7,367 370,368.2 370.4,368.9 370.7,370.8 371,373.2 371.3,375 371.6,376.9 372,378.8 372.3,380.5 372.6,381.7 372.9,382.7 373.2,383.6 373.6,384.3 373.9,384.4 374.2,384.2 374.5,384.2 374.8,382.2 375.2,381.7 375.5,380.5 375.8,379.5 376.1,378 376.4,375.7 376.8,373.6 377.1,371.4 377.4,370.4 377.7,368.5 378,366.3 378.4,365.4 378.7,364.9 379,364.8 379.3,364.4 379.6,366 380,366.9 380.3,367.5 380.6,369.2 380.9,370.7 381.2,372.7 381.6,375.2 381.9,377.7 382.2,379.5 382.5,380.5 382.8,381.7 383.2,382.8 383.5,384.4 383.8,384.9 384.1,386 384.4,385.9 384.8,386 385.1,385.1 385.4,385.7 385.7,384.2 386,382.5 386.4,380.5 386.7,379.6 387,378.1 387.3,375.5 387.6,374.6 388,374.2 388.3,372.1 388.6,370.8 388.9,370.3 389.2,370.1 389.6,368.3 389.9,367.9 390.2,367.9 390.5,368.3 390.8,369.5 391.2,369.9 391.5,369.8 391.8,372.4 392.1,373.9 392.4,375.6 392.8,377.1 393.1,378.6 393.4,380.4 393.7,381.2 394,382 394.4,383.6 394.7,383.9 395,385.5 395.3,384.5 395.6,384.9 396,382.9 396.3,382.2 396.6,382.2 396.9,380.2 397.2,379.7 397.6,377.9 397.9,377.8 398.2,375.3 398.5,374.6 398.8,372.3 399.2,371.9 399.5,370.8 399.8,369 400.1,367.5 400.4,367.5 400.8,367.5 401.1,367.4 401.4,368.1 401.7,369.1 402,369.3 402.4,370.3 402.7,371.6 403,373.4 403.3,374.9 403.6,376.3 404,378.1 404.3,380.3 404.6,380.1 404.9,381.3 405.2,382.3 405.6,382.6 405.9,384 406.2,383.4 406.5,383.5 406.8,381.7 407.2,381.9 407.5,380.4 407.8,378.4 408.1,377.9 408.4,376.4 408.8,374.4 409.1,373 409.4,370.8 409.7,370.5 410,368.7 410.4,368 410.7,367.3 411,366.7 411.3,365.8 411.6,366.4 412,366.9 412.3,368.2 412.6,368.5 412.9,370.8 413.2,372.3 413.6,373.9 413.9,376.7 414.2,378.1 414.5,379.1 414.8,381.1 415.2,381.9 415.5,382.6 415.8,383.6 416.1,383.9 416.4,384.9 416.8,384.2 417.1,382 417.4,382.3 417.7,381.1 418,380.1 418.4,378.9 418.7,377.3 419,375.8 419.3,373.6 419.6,373 420,370.7 420.3,370 420.6,368.2 420.9,367.7 421.2,366.5 421.6,367.3 421.9,367 422.2,367.1 422.5,368.3 422.8,369.4 423.2,369.7 423.5,371.5 423.8,372.9 424.1,375.3 424.4,376.5 424.8,377.6 425.1,379 425.4,380.5 425.7,380.2 426,381.7 426.4,382.5 426.7,380.7 427,380.3 427.3,379.5 427.6,379.4 428,377.7 428.3,377.9 428.6,375.7 428.9,374.4 429.2,373.1 429.6,373.1 429.9,372.7 430.2,371.9 430.5,372.5 430.8,372.9 431.2,373.3 431.5,374.1 431.8,374.9 432.1,376.3 432.4,377 432.8,378.9 433.1,379.3 433.4,379.5 433.7,379.9 434,380.7 434.4,381.5 434.7,381.6 435,382.6 435.3,382.4 435.6,383.4 436,383.9 436.3,384.1 436.6,384.7 436.9,385 437.2,384.6 437.6,384.9 437.9,384.1 438.2,384.3 438.5,382.6 438.8,382.6 439.2,383.1 439.5,383 439.8,382.4 440.1,381.5 440.4,381.1 440.8,379.4 441.1,384.1 441.4,379.9 441.7,380.4 442,379.4 442.4,374.2 442.7,382.2 443,376.7 443.3,378.3 443.6,383.2 444,390 444.3,387.5 444.6,381.4 444.9,391 445.2,390.3 445.6,389.5 445.9,390.7 446.2,391.2 446.5,389.6 446.8,389.4 447.2,390.8 447.5,390.8 447.8,389.9 448.1,389 448.4,394.2 448.8,397.4 449.1,399 449.4,389.1 449.7,393.5 450,390 450.4,382.8 450.7,386 451,381.7 451.3,380.5 451.6,380.8 452,392.3 452.3,387.2 452.6,387.2 452.9,391.2 453.2,390.6 453.6,391.1 453.9,393 454.2,392.5 454.5,393.5 454.8,392.6 455.2,392.9 455.5,391.8 455.8,390.2 456.1,390.8 456.4,390.9 456.8,392.8 457.1,392.1 457.4,396.7 457.7,396.8 458,397.2 458.4,401.6 458.7,402.6 459,402.7 459.3,411.4 459.6,409.8 460,410.6 460.3,414.8 460.6,413.5 460.9,412.3 461.2,411 461.6,410.9 461.9,410.9 462.2,409.6 462.5,409.2 462.8,404.7 463.2,406.1 463.5,406.2 463.8,406.1 464.1,406.4 464.4,402.9 464.8,401.8 465.1,403.1 465.4,398.2 465.7,403.4 466,403.2 466.4,400.3 466.7,395.1 467,399 467.3,392.7 467.6,384.2 468,395.1 468.3,386.5 468.6,397.1 468.9,389.2 469.2,391.6 469.6,396.2 469.9,393.6 470.2,394 470.5,394.6 470.8,393.7 471.2,393.3 471.5,391.8 471.8,392.9 472.1,392.2 472.4,391.8 472.8,392.2 473.1,391.6 473.4,391.9 473.7,392.1 474,394.6 474.4,394.1 474.7,390.8 475,389.2 475.3,395.5 475.6,393.4 476,382.6 476.3,394.7 476.6,398.2 476.9,402.1 477.2,390.1 477.6,387.5 477.9,406.5 478.2,401.6 478.5,400.3 478.8,392.5 479.2,400 479.5,399 479.8,399 480.1,392.1 480.4,393.8 480.8,396.5 481.1,390.6 481.4,387.9 481.7,378.6 482,390.7 482.4,381.5 482.7,381.6 483,378.6 483.3,365.6 483.6,362.4 484,378.9 484.3,389.8 484.6,372.3 484.9,392.9 485.2,406.2 485.6,382.4 485.9,386.1 486.2,388.8 486.5,390.6 486.8,393.8 487.2,392.9 487.5,396.4 487.8,396.2 488.1,397.5 488.4,394.4 488.8,396 489.1,396 489.4,393.7 489.7,394.5 490,394.4 490.4,389.7 490.7,393.8 491,394 491.3,392.1 491.6,385.8 492,389.3 492.3,383.6 492.6,384.1 492.9,384.5 493.2,386.1 493.6,380.5 493.9,373.9 494.2,382.4 494.5,380.8 494.8,377.6 495.2,370.4 495.5,378 495.8,377.7 496.1,374 496.4,378.3 496.8,372.4 497.1,374.9 497.4,375.9 497.7,373.9 498,376.2 498.4,377.3 498.7,379.8 499,380.4 499.3,381.2 499.6,381.6 500,381.4 500.3,374.8 500.6,376.6 500.9,375.4 501.2,378.1 501.6,378.7 501.9,381.8 502.2,372 502.5,372.2 502.8,375.7 503.2,376.6 503.5,376.2 503.8,373.1 504.1,371.2 504.4,367.5 504.8,376 505.1,374.4 505.4,374.3 505.7,374.7 506,374.2 506.4,370 506.7,370.5 507,370.2 507.3,371.7 507.6,374.8 508,373.5 508.3,375 508.6,373.1 508.9,372.2 509.2,372.8 509.6,375.2 509.9,372.6 510.2,373.6 510.5,373 510.8,373.8 511.2,376.8 511.5,376.3 511.8,376.2 512.1,375.9 512.4,376.2 512.8,376.3 513.1,376.1 513.4,374.4 513.7,375.6 514,374.2 514.4,372.9 514.7,373.6 515,373.7 515.3,373.6 515.6,374 516,375.9 516.3,372.4 516.6,375.1 516.9,374 517.2,373.9 517.6,375.7 517.9,373.9 518.2,374 518.5,372.9 518.8,372.7 519.2,371.8 519.5,372 519.8,372.3 520.1,372.2 520.4,373 520.8,371.8 521.1,373.2 521.4,373.2 521.7,373.8 522,374.5 522.4,375.4 522.7,376.4 523,377.6 523.3,378.7 523.6,378.8 524,380.3 524.3,380.6 524.6,378.5 524.9,379.5 525.2,378.9 525.6,377.9 525.9,376.2 526.2,375.7 526.5,375.4 526.8,374.7 527.2,373.5 527.5,372.2 527.8,370.1 528.1,369 528.4,367 528.8,366 529.1,364.7 529.4,364 529.7,363.3 530,364.8 530.4,363.7 530.7,363.5 531,363.2 531.3,364.9 531.6,364.4 532,365.8 532.3,366.9 532.6,368.7 532.9,369 533.2,369.8 533.6,372.6 533.9,373.7 534.2,374.6 534.5,376 534.8,378 535.2,377.9 535.5,378.2 535.8,378.7 536.1,379.1 536.4,378.7 536.8,378.2 537.1,377.5 537.4,375.8 537.7,375.6 538,374.6 538.4,373.3 538.7,371.8 539,370.7 539.3,369.9 539.6,369 540,367.5 540.3,367.8 540.6,368.2 540.9,367.5 541.2,367.7 541.6,368.8 541.9,369.3 542.2,369.9 542.5,371.5 542.8,373.6 543.2,375 543.5,375.5 543.8,376.6 544.1,378.5 544.4,379.2 544.8,380.2 545.1,380.8 545.4,380.8 545.7,381.2 546,382.2 546.4,381.6 546.7,382.3 547,381.8 547.3,381.4 547.6,380 548,380 548.3,378.7 548.6,377.2 548.9,376.2 549.2,374.5 549.6,372.1 549.9,373.1 550.2,371.8 550.5,371.4 550.8,370 551.2,369 551.5,368.4 551.8,368.1 552.1,368.7 552.4,368.4 552.8,369.7 553.1,372 553.4,372.1 553.7,374.1 554,376.3 554.4,378 554.7,379.7 555,381.3 555.3,382 555.6,382.7 556,382.4 556.3,382.6 556.6,381.8 556.9,381.5 557.2,381.1 557.6,380.4 557.9,378.5 558.2,378.1 558.5,378.8 558.8,375.9 559.2,376 559.5,374.3 559.8,373.6 560.1,372.2 560.4,371.5 560.8,369.9 561.1,370.1 561.4,370.1 561.7,367.4 562,368.2 562.4,368.2 562.7,369.6 563,371 563.3,371.9 563.6,373 564,373.6 564.3,374.5 564.6,376.7 564.9,377.1 565.2,378.3 565.6,380 565.9,380.4 566.2,381.9 566.5,382.3 566.8,383.2 567.2,383.9 567.5,383 567.8,383.2 568.1,382.9 568.4,381.3 568.8,380.7 569.1,379.5 569.4,379.5 569.7,377.1 570,376.3 570.4,374.3 570.7,373.3 571,372.9 571.3,371.4 571.6,370.8 572,369.5 572.3,370 572.6,368 572.9,368.3 573.2,367.5 573.6,368.1 573.9,368.5 574.2,371.8 574.5,371 574.8,373.9 575.2,375.4 575.5,377.9 575.8,379 576.1,381.8 576.4,382.8 576.8,383.6 577.1,384.3 577.4,385 577.7,384.5 578,384.7 578.4,383.6 578.7,382.2 579,381.3 579.3,379.9 579.6,379.1 580,377 580.3,375.8 580.6,373.9 580.9,373.6 581.2,372.3 581.6,370.8 581.9,371.1 582.2,369.4 582.5,368.1 582.8,368.7 583.2,367.6 583.5,365.9 583.8,367.8 584.1,368.1 584.4,368.9 584.8,369.9 585.1,370.9 585.4,372.9 585.7,373.7 586,376.2 586.4,378.4 586.7,380.1 587,380.8 587.3,383.2 587.6,383.3 588,383.5 588.3,384 588.6,383.4 588.9,383.5 589.2,381.7 589.6,380.6 589.9,378.9 590.2,377.4 590.5,375.8 590.8,375.1 591.2,372.4 591.5,371 591.8,368.8 592.1,367.8 592.4,365.6 592.8,364.6 593.1,365.6 593.4,364.8 593.7,364.2 594,366 594.4,366.7 594.7,367.9 595,369.9 595.3,370.5 595.6,373.4 596,374.5 596.3,375.8 596.6,376.9 596.9,379.9 597.2,380.2 597.6,381 597.9,382.8 598.2,384 598.5,384.8 598.8,385.6 599.2,385.2 599.5,384.7 599.8,385.5 600.1,384.8 600.4,382.5 600.8,382.5 601.1,380.5 601.4,380.3 601.7,377.7 602,377 602.4,376.3 602.7,374.4 603,373.5 603.3,371.3 603.6,369.8 604,368.6 604.3,368.3 604.6,366.5 604.9,366.6 605.2,365 605.6,365.3 605.9,364.7 606.2,364.4 606.5,365.8 606.8,367.2 607.2,368.6 607.5,370 607.8,372.4 608.1,374.1 608.4,376 608.8,376.9 609.1,378 609.4,381 609.7,381.6 610,382.8 610.4,383.6 610.7,384 611,382.5 611.3,382.4 611.6,381.9 612,378.9 612.3,377.7 612.6,376.6 612.9,374.3 613.2,372.2 613.6,370.1 613.9,367.6 614.2,366.9 614.5,365.1 614.8,364.7 615.2,363.8 615.5,363.6 615.8,364.6 616.1,366.1 616.4,366.6 616.8,368.5 617.1,370.5 617.4,372.4 617.7,373.5 618,375.8 618.4,378.2 618.7,379.7 619,382 619.3,382.6 619.6,382.9 620,384.4 620.3,385.1 620.6,384.9 620.9,384.4 621.2,382.7 621.6,382.2 621.9,381.2 622.2,379.1 622.5,377.4 622.8,376 623.2,373.7 623.5,371.9 623.8,370.8 624.1,369.4 624.4,368.7 624.8,367.3 625.1,366.1 625.4,366.7 625.7,366.2 626,367.4 626.4,367.4 626.7,368.9 627,369.9 627.3,371 627.6,371.9 628,373.9 628.3,376.4 628.6,377.4 628.9,379.4 629.2,380.3 629.6,381.5 629.9,382.1 630.2,383.5 630.5,383.5 630.8,383.9 631.2,384.9 631.5,383.7 631.8,384.9 632.1,382.9 632.4,381.5 632.8,381.1 633.1,378.5 633.4,377.5 633.7,375.8 634,374.7 634.4,373.5 634.7,371.4 635,369.2 635.3,367.9 635.6,367.3 636,367.3 636.3,366.8 636.6,366.9 636.9,367.2 637.2,368.9 637.6,368.9 637.9,372 638.2,373.3 638.5,374.7 638.8,376.1 639.2,377.5 639.5,379.2 639.8,380.3 640.1,381.6 640.4,382.5 640.8,384.3 641.1,384.6 641.4,385.3 641.7,384.8 642,384.3 642.4,383.8 642.7,383.5 643,381.6 643.3,381.2 643.6,379 644,377.8 644.3,376.7 644.6,374.5 644.9,372.6 645.2,372.8 645.6,370.8 645.9,369.3 646.2,369.3 646.5,368.8 646.8,367.2 647.2,367.1 647.5,368.4 647.8,367.2 648.1,368.8 648.4,369.5 648.8,369.7 649.1,370.5 649.4,371.7 649.7,373.3 650,374.7 650.4,377.2 650.7,376.8 651,378.9 651.3,379.8 651.6,381.9 652,382.7 652.3,382.6 652.6,383.4 652.9,383.6 653.2,383.4 653.6,382.5 653.9,381.4 654.2,379.6 654.5,378.4 654.8,376.5 655.2,375.4 655.5,373.6 655.8,371.3 656.1,370.3 656.4,368.6 656.8,367.7 657.1,367.1 657.4,366.3 657.7,365.9 658,365.7 658.4,367.2 658.7,367.4 659,368.1 659.3,369.8 659.6,372.3 660,374.7 660.3,376.2 660.6,377.3 660.9,379.6 661.2,380 661.6,382.7 661.9,383.4 662.2,384.5 662.5,384.2 662.8,385.1 663.2,384.1 663.5,383.4 663.8,384.2 664.1,381.8 664.4,381.7 664.8,379.6 665.1,378.3 665.4,376.8 665.7,375.6 666,373.6 666.4,371.2 666.7,369.8 667,369.3 667.3,368.1 667.6,366.3 668,366.4 668.3,365.6 668.6,366.3 668.9,365.8 669.2,367.5 669.6,367.8 669.9,368.6 670.2,370.8 670.5,372.2 670.8,372.6 671.2,373.7 671.5,376.3 671.8,378.2 672.1,379.2 672.4,380.8 672.8,381.7 673.1,382.6 673.4,383.7 673.7,384.3 674,383.7 674.4,382.8 674.7,381.9 675,381.4 675.3,379 675.6,378.8 676,377.4 676.3,376 676.6,374.4 676.9,373 677.2,370.9 677.6,370.6 677.9,368.8 678.2,367.7 678.5,366.4 678.8,365 679.2,365.4 679.5,364.8" fill="none" stroke="#3A53A4" stroke-width="1.22" stroke-linejoin="round"/>
<path d="M765.6,131.5 766.3,127.7 767,130.6 767.7,135 768.4,137.2 769.1,137 769.8,137.2 770.5,136.8 771.2,136.8 771.9,135.9 772.6,134.6 773.3,133.8 774,134.1 774.7,134.4 775.4,134.1 776.1,134.3 776.8,133.8 777.5,133.3 778.2,133.6 778.9,132.9 779.6,132.6 780.3,131.6 781,132 781.7,131.9 782.4,132.5 783.1,132.6 783.8,133.1 784.5,133.7 785.2,134.7 785.9,134.8 786.6,135 787.3,135.1 788,135.2 788.7,136.1 789.4,135.3 790.1,135.8 790.8,136.4 791.5,136.8 792.2,136.8 792.9,137.4 793.6,137.6 794.3,137.6 795,136.9 795.7,136.9 796.4,135.8 797.1,135.5 797.8,133.9 798.5,133.9 799.2,132.7 799.9,132.3 800.6,132.6 801.3,132.2 802,132.9 802.7,132.9 803.4,134.3 804.1,134.3 804.8,134.2 805.5,134.5 806.2,134.4 806.9,133.5 807.6,133.4 808.3,133.5 809,133.1 809.7,133.1 810.4,133.3 811.1,133.9 811.8,133.4 812.5,132.9 813.2,133.2 813.9,132.6 814.6,132.8 815.3,131.8 816,131 816.7,130.8 817.4,131.4 818.1,131.2 818.8,131.5 819.5,131.8 820.2,131.9 820.9,132 821.6,132.1 822.3,132.8 823,133.4 823.7,132.6 824.4,133.9 825.1,133 825.8,133.1 826.5,132.4 827.2,132.8 827.9,133 828.6,133.3 829.3,133.8 830,134 830.7,133.7 831.4,134.1 832.1,134.5 832.8,134.5 833.5,134 834.2,133.7 834.9,133.3 835.6,132.4 836.3,131.7 837,132.1 837.7,131.1 838.4,131 839.1,130.6 839.8,131.1 840.5,131 841.2,130.1 841.9,129.9 842.6,129.1 843.3,129.5 844,129.2 844.7,128.9 845.4,130.2 846.1,130.7 846.8,131.5 847.5,132.2 848.2,132.5 848.9,133 849.6,133.6 850.3,133.5 851,133.1 851.7,133.7 852.4,132.7 853.1,132.4 853.8,132.4 854.5,132.9 855.2,133.1 855.9,133 856.6,133.3 857.3,132.7 858,133 858.7,132.9 859.4,132.8 860.1,132.7 860.8,131.7 861.5,133.2 862.2,132.1 862.9,132.4 863.6,132.7 864.3,133 865,133.1 865.7,132.4 866.4,132.8 867.1,132.9 867.8,131.6 868.5,130.8 869.2,129.9 869.9,130.8 870.6,130.6 871.3,130.1 872,130.1 872.7,129.6 873.4,128.6 874.1,128.1 874.8,127.5 875.5,126.9 876.2,126.5 876.9,125.7 877.6,125.6 878.3,126.5 879,127.2 879.7,128 880.4,129.4 881.1,129.2 881.8,129 882.5,128.6 883.2,127.7 883.9,128.3 884.6,128.8 885.3,129.3 886,130.3 886.7,130.7 887.4,130.9 888.1,131.8 888.8,131.9 889.5,132.2 890.2,131.1 890.9,129.4 891.6,128.1 892.3,127.1 893,126.2 893.7,125.9 894.4,126.2 895.1,126.4 895.8,126.8 896.5,127.3 897.2,127.1 897.9,127 898.6,126.1 899.3,125.1 900,123.3 900.7,121.7 901.4,120.9 902.1,120.7 902.8,120.6 903.5,121.4 904.2,123.2 904.9,124.2 905.6,124.8 906.3,126.8 907,127.8 907.7,129.2 908.4,129.5 909.1,129.9 909.8,129.5 910.5,129 911.2,129.3 911.9,129.5 912.6,130.5 913.3,130.3 914,130.3 914.7,130.8 915.4,130.4 916.1,129.7 916.8,129 917.5,128.2 918.2,128.7 918.9,129.3 919.6,130.1 920.3,130.1 921,131 921.7,130.9 922.4,130 923.1,129.7 923.8,129.4 924.5,128.7 925.2,129 925.9,129.9 926.6,130.7 927.3,130.8 928,129.8 928.7,129.3 929.4,127.9 930.1,127.5 930.8,128.3 931.5,128.9 932.2,130.4 932.9,131.7 933.6,132.2 934.3,132.9 935,133.8 935.7,134.1 936.4,133.3 937.1,132.8 937.8,132.8 938.5,131.7 939.2,130.4 939.9,130.7 940.6,131.9 941.3,132.6 942,133.9 942.7,134.4 943.4,135 944.1,134.8 944.8,135.1 945.5,134.9 946.2,133.6 946.9,133.8 947.6,133.7 948.3,133.9 949,134.1 949.7,134 950.4,134.3 951.1,134.9 951.8,135.1 952.5,135.5 953.2,135.7 953.9,135.8 954.6,135.4 955.3,135.1 956,135.4 956.7,135.4 957.4,135.1 958.1,134.4 958.8,134.5 959.5,134 960.2,134.3 960.9,133.7 961.6,133.6 962.3,133.3 963,132.9 963.7,133.1 964.4,132.6 965.1,132.6 965.8,134.1 966.5,134.7 967.2,135.2 967.9,135.1 968.6,135.3 969.3,135.2 970,134.9 970.7,135.1 971.4,135.3 972.1,134.8 972.8,135.4 973.5,134.5 974.2,135.1 974.9,136 975.6,136.1 976.3,136.3 977,136.5 977.7,136.7 978.4,137.4 979.1,136.9 979.8,136.7 980.5,136.1 981.2,136 981.9,135.4 982.6,134.7 983.3,134.7 984,134.9 984.7,135.5 985.4,135.5 986.1,136 986.8,136.7 987.5,135.9 988.2,135.6 988.9,135.9 989.6,135.5 990.3,135.1 991,135 991.7,134.6 992.4,134.6 993.1,134.1 993.8,134.3 994.5,133.7 995.2,133.9 995.9,134.4 996.6,134.2 997.3,134.4 998,134 998.7,133.6 999.4,133.6 1000.1,133.4 1000.8,133.2 1001.5,133.5 1002.2,133.9 1002.9,134.2 1003.6,134.6 1004.3,134.9 1005,134.9 1005.7,135.4 1006.4,135.3 1007.1,135 1007.8,135.6 1008.5,135.4 1009.2,134.9 1009.9,135.2 1010.6,135.5 1011.3,135.3 1012,135.4 1012.7,135.1 1013.4,135 1014.1,134.6 1014.8,134.6 1015.5,134 1016.2,133.8 1016.9,132.6 1017.6,132.8 1018.3,132.9 1019,132.9 1019.7,133.1 1020.4,133.7 1021.1,133.7 1021.8,133.9 1022.5,134.1 1023.2,134 1023.9,134 1024.6,132.9 1025.3,132.7 1026,131.1 1026.7,130.5 1027.4,130.2 1028.1,130.2 1028.8,129.7 1029.5,129.6 1030.2,130.9 1030.9,131.4 1031.6,131.5 1032.3,131.8 1033,132.1 1033.7,132.5 1034.4,132.9 1035.1,132.6 1035.8,134.2 1036.5,134.1 1037.2,134.5 1037.9,135.3 1038.6,135.7 1039.3,136.9 1040,137 1040.7,137 1041.4,137.4 1042.1,137.8 1042.8,138 1043.5,137.9 1044.2,136.9 1044.9,136.5 1045.6,134.9 1046.3,133.9 1047,133.5 1047.7,132.1 1048.4,132.1 1049.1,132.4 1049.8,131.9 1050.5,131.6 1051.2,131.5 1051.9,131.2 1052.6,131.3 1053.3,130.9 1054,130.7 1054.7,131.8 1055.4,131.5 1056.1,132 1056.8,132.9 1057.5,133.1 1058.2,133 1058.9,133.3 1059.6,133.8 1060.3,133.9 1061,134.6 1061.7,134.7 1062.4,134.8 1063.1,135.1 1063.8,135.1 1064.5,135.4 1065.2,135.2 1065.9,134.5 1066.6,136.1 1067.3,136.8 1068,138.1 1068.7,139.9 1069.4,140.3 1070.1,140.8 1070.8,141.3 1071.5,140.7 1072.2,140.5 1072.9,140.8 1073.6,141 1074.3,140.5 1075,139.4 1075.7,139.1 1076.4,138.5 1077.1,138.4 1077.8,137.6 1078.5,137.4 1079.2,137.5 1079.9,137.2 1080.6,137.5 1081.3,137.3 1082,136.5 1082.7,136.1 1083.4,135.5 1084.1,134.1 1084.8,133.8 1085.5,132.9 1086.2,132.3 1086.9,131.3 1087.6,131.3 1088.3,131.7 1089,131.7 1089.7,131.3 1090.4,131.7 1091.1,132.1 1091.8,131.9 1092.5,132.3 1093.2,133.2 1093.9,132.7 1094.6,132.8 1095.3,132.6 1096,132.5 1096.7,133 1097.4,132.4 1098.1,132.1 1098.8,132.4 1099.5,133 1100.2,133.6 1100.9,133.3 1101.6,133.8 1102.3,133.5 1103,133.9 1103.7,134 1104.4,134.3 1105.1,134.3 1105.8,134.7 1106.5,134.9 1107.2,133.9 1107.9,133.6 1108.6,132.9 1109.3,132.6 1110,132.1 1110.7,132.3 1111.4,133 1112.1,133.5 1112.8,134.4 1113.5,135.2 1114.2,135.8 1114.9,135.7 1115.6,136.1 1116.3,135.6 1117,136.5 1117.7,136.1 1118.4,136.4 1119.1,136 1119.8,136.4 1120.5,136.7 1121.2,137.1 1121.9,136.4 1122.6,136.8 1123.3,135.9 1124,134.9 1124.7,134.6 1125.4,133.9 1126.1,133.5 1126.8,132.9 1127.5,132.6 1128.2,131.8 1128.9,130.7 1129.6,129 1130.3,127.6 1131,126.3 1131.7,125.4 1132.4,124.3 1133.1,124.7 1133.8,124.9 1134.5,125.8 1135.2,127.5 1135.9,127.8 1136.6,127.9 1137.3,126.4 1138,123.6 1138.7,121.3 1139.4,120.7 1140.1,120.3 1140.8,121.8 1141.5,123.4 1142.2,123.2 1142.9,122.9 1143.6,122.7 1144.3,121.8 1145,123 1145.7,121.6 1146.4,116.8 1147.1,111.9 1147.8,110.1 1148.5,109.6 1149.2,110.1 1149.9,109.6 1150.6,109 1151.3,107.7 1152,107.3 1152.7,108.5 1153.4,110.9 1154.1,113.8 1154.8,115.6 1155.5,113.8 1156.2,108 1156.9,101 1157.6,95.3 1158.3,90.7 1159,87 1159.7,84.3 1160.4,84.3 1161.1,87.7 1161.8,92.1 1162.5,97.1 1163.2,102.2 1163.9,105.9 1164.6,108.8 1165.3,111.1 1166,113.9 1166.7,118.2 1167.4,122.6 1168.1,125 1168.8,124.9 1169.5,123.9 1170.2,124 1170.9,123.2 1171.6,123 1172.3,121.3 1173,120.2 1173.7,119.7 1174.4,117.8 1175.1,117.4 1175.8,117.1 1176.5,117.8 1177.2,119 1177.9,121.4 1178.6,123.4 1179.3,124.2 1180,124.7 1180.7,125 1181.4,126 1182.1,126.2 1182.8,126.7 1183.5,126 1184.2,126.6 1184.9,126.3 1185.6,127 1186.3,127.3 1187,127.1 1187.7,127.7 1188.4,128.2 1189.1,128.3 1189.8,128.7 1190.5,128.7 1191.2,129.1 1191.9,129.2 1192.6,129.5 1193.3,129.7 1194,129.3 1194.7,129.2 1195.4,129 1196.1,129.8 1196.8,130.1 1197.5,130.2 1198.2,130.9 1198.9,131.8 1199.6,132.1 1200.3,133.3 1201,133.4 1201.7,133.8 1202.4,134.6 1203.1,135.7 1203.8,135 1204.5,135.2 1205.2,134.7 1205.9,134.6 1206.6,134.1 1207.3,133.9 1208,134.3 1208.7,134.4 1209.4,135 1210.1,135 1210.8,135.8 1211.5,135.3 1212.2,135.5 1212.9,135.2 1213.6,135.4 1214.3,135.4 1215,135.5 1215.7,135.8 1216.4,135.6 1217.1,135.7 1217.8,136.5 1218.5,136 1219.2,135.6 1219.9,135.9 1220.6,135.7 1221.3,135 1222,136.2 1222.7,137 1223.4,137.2 1224.1,136.7 1224.8,136.9 1225.5,135.7 1226.2,135.5 1226.9,135.6 1227.6,135.8 1228.3,136.2 1229,136.3 1229.7,135.7 1230.4,135.6 1231.1,134.1 1231.8,133.4 1232.5,133.4 1233.2,132.8 1233.9,133.2 1234.6,133 1235.3,133.1 1236,133.1 1236.7,133 1237.4,132.6 1238.1,132.7 1238.8,133 1239.5,133.3 1240.2,132.9 1240.9,133 1241.6,133 1242.3,132.5 1243,132.5 1243.7,133.7 1244.4,133.9 1245.1,133.7 1245.8,133.9 1246.5,133.7 1247.2,134 1247.9,135 1248.6,134.9 1249.3,135.9 1250,135.4 1250.7,135.4 1251.4,135.4 1252.1,135 1252.8,134.2 1253.5,134.6 1254.2,134 1254.9,134.2 1255.6,134.5 1256.3,134.7 1257,134.1 1257.7,134.4 1258.4,134.4 1259.1,134.1 1259.8,134.5 1260.5,134.9 1261.2,134.2 1261.9,134.1 1262.6,133.8 1263.3,132.9 1264,133.3 1264.7,133.4 1265.4,133.8 1266.1,134.4 1266.8,134.8 1267.5,135.5 1268.2,135.9 1268.9,136 1269.6,136 1270.3,136.3 1271,136.3 1271.7,135.7 1272.4,136.1 1273.1,135.3 1273.8,135.1 1274.5,134.3 1275.2,133.5 1275.9,133.5 1276.6,133.2 1277.3,132.8 1278,132.6 1278.7,132.2 1279.4,132.2 1280.1,131.8 1280.8,131.9 1281.5,131.5 1282.2,132.2 1282.9,132.7 1283.6,133.6 1284.3,134.1 1285,134.2 1285.7,134.2 1286.4,134 1287.1,134.6 1287.8,134.8 1288.5,134.5 1289.2,132.6 1289.9,132.4 1290.6,132 1291.3,131.4 1292,131.5 1292.7,131 1293.4,130.5 1294.1,130.4 1294.8,129.8 1295.5,130 1296.2,130.2 1296.9,131.1 1297.6,130.6 1298.3,131.3 1299,131.7 1299.7,131.7 1300.4,132.2 1301.1,132.2 1301.8,132.9 1302.5,133.5 1303.2,134.3 1303.9,134.1 1304.6,134.4 1305.3,134 1306,134.1 1306.7,134.8 1307.4,134.7 1308.1,135.1 1308.8,134.8 1309.5,134.9 1310.2,134.3 1310.9,132.8 1311.6,133.2 1312.3,132.6 1313,132.6 1313.7,132.6 1314.4,133 1315.1,132.5 1315.8,132.4 1316.5,132.1 1317.2,132.5 1317.9,132.9 1318.6,133.2 1319.3,133.5 1320,133.5 1320.7,133.4 1321.4,134.3 1322.1,134.4 1322.8,134.7 1323.5,135.1 1324.2,134.5 1324.9,134.3 1325.6,133.5 1326.3,134.4 1327,134.4 1327.7,134.3 1328.4,134.6 1329.1,134.1 1329.8,133.9 1330.5,134.3 1331.2,133.6 1331.9,133.5 1332.6,133.4 1333.3,133.4 1334,133.2 1334.7,133.7 1335.4,132.7 1336.1,132.8 1336.8,132.6 1337.5,133.1 1338.2,133.2 1338.9,134.2 1339.6,136 1340.3,136.6 1341,136.4 1341.7,136.8 1342.4,137.1 1343.1,136.7 1343.8,137.5 1344.5,136.6 1345.2,136.6 1345.9,135.7 1346.6,136.4 1347.3,135.1 1348,134.5 1348.7,132.7 1349.4,132.2 1350.1,131.7 1350.8,131.5 1351.5,131.9 1352.2,131.5 1352.9,130.5 1353.6,129.2 1354.3,128.9 1355,128.6 1355.7,128.1 1356.4,127.9 1357.1,127.7 1357.8,127.1 1358.5,127.3 1359.2,127.7 1359.9,127.4 1360.6,128.3 1361.3,129.3 1362,129.4 1362.7,130.7 1363.4,131.2 1364.1,132.7" fill="none" stroke="#ED1C24" stroke-width="0.98" stroke-linejoin="round"/>
<path d="M765.6,136 765.9,135.2 766.2,134.7 766.5,134.1 766.8,134.5 767.2,133.5 767.5,133.4 767.8,133.5 768.1,134.1 768.4,134.3 768.8,134.6 769.1,134.7 769.4,135 769.7,135.6 770,136.1 770.4,136.1 770.7,136.4 771,136.3 771.3,136.6 771.6,137.1 772,136.9 772.3,136.8 772.6,136.1 772.9,136.1 773.2,134.9 773.6,134.7 773.9,134.4 774.2,134.6 774.5,133.9 774.8,133.6 775.2,134.1 775.5,134 775.8,134.4 776.1,134.2 776.4,134.2 776.8,133.9 777.1,134.1 777.4,133.4 777.7,132.8 778,133.4 778.4,132.5 778.7,132.3 779,132.1 779.3,132 779.6,130.3 780,130.8 780.3,131.5 780.6,130.6 780.9,131.6 781.2,131.6 781.6,131.9 781.9,132.7 782.2,132.7 782.5,134 782.8,134.9 783.2,134.6 783.5,135.5 783.8,136.6 784.1,136.7 784.4,136.6 784.8,137.2 785.1,136 785.4,136.2 785.7,136 786,135.6 786.4,135.7 786.7,134.7 787,135.2 787.3,134.8 787.6,135.5 788,135.5 788.3,135 788.6,134.8 788.9,135.1 789.2,134.7 789.6,134.6 789.9,134.6 790.2,134.1 790.5,134.7 790.8,133.9 791.2,133.6 791.5,133.2 791.8,133.2 792.1,133.6 792.4,133.3 792.8,133.5 793.1,133.3 793.4,133 793.7,132.6 794,132.8 794.4,132.8 794.7,132.1 795,132.7 795.3,132 795.6,132.2 796,131.9 796.3,132.2 796.6,132.9 796.9,131.5 797.2,131.9 797.6,132.6 797.9,131.5 798.2,131.7 798.5,131.7 798.8,131.8 799.2,131.1 799.5,131.7 799.8,131.7 800.1,132.3 800.4,131.3 800.8,131 801.1,131.1 801.4,129.9 801.7,130.8 802,131.2 802.4,130.7 802.7,130.9 803,131.2 803.3,131.7 803.6,131.7 804,133.2 804.3,133 804.6,133.6 804.9,134.9 805.2,134.8 805.6,135 805.9,135.9 806.2,135.2 806.5,134.9 806.8,133.6 807.2,132.5 807.5,132.6 807.8,132.9 808.1,132.3 808.4,132.9 808.8,133.4 809.1,133.7 809.4,134.1 809.7,134.7 810,134.9 810.4,134.9 810.7,135.7 811,135.7 811.3,135.7 811.6,135.9 812,134.7 812.3,135.6 812.6,135.5 812.9,134.8 813.2,136.2 813.6,135.5 813.9,135.1 814.2,135.1 814.5,135.3 814.8,135.1 815.2,134.4 815.5,134.6 815.8,134.6 816.1,134.4 816.4,134.2 816.8,133.4 817.1,133.4 817.4,133.9 817.7,133.7 818,134.2 818.4,134.1 818.7,134.9 819,134.9 819.3,135.3 819.6,135.3 820,135.1 820.3,135.1 820.6,135.8 820.9,135.7 821.2,135.6 821.6,136.2 821.9,136.9 822.2,137.2 822.5,137.3 822.8,137.7 823.2,137.3 823.5,137.4 823.8,137.2 824.1,137.3 824.4,138.1 824.8,137.6 825.1,137.5 825.4,137.9 825.7,137.4 826,136 826.4,136.4 826.7,135.5 827,135.9 827.3,134.8 827.6,135.1 828,135.1 828.3,136.2 828.6,135 828.9,136.2 829.2,136.2 829.6,135.7 829.9,135.7 830.2,136 830.5,134.8 830.8,134.3 831.2,134.7 831.5,134.3 831.8,133.5 832.1,134 832.4,134 832.8,133.6 833.1,133.8 833.4,134 833.7,133.7 834,134.2 834.4,133.9 834.7,132.8 835,133.3 835.3,133.5 835.6,133 836,133.5 836.3,133.9 836.6,133.5 836.9,134.2 837.2,133.6 837.6,134.8 837.9,134.2 838.2,133.9 838.5,133.6 838.8,133.6 839.2,134.6 839.5,133.9 839.8,134.1 840.1,134.3 840.4,134 840.8,135 841.1,134.1 841.4,135.5 841.7,135 842,135.4 842.4,135.4 842.7,135.6 843,134.8 843.3,135.3 843.6,134.9 844,134.8 844.3,134.6 844.6,135.1 844.9,134.8 845.2,135.2 845.6,135.2 845.9,134.3 846.2,135.1 846.5,135.6 846.8,135 847.2,134.8 847.5,134.6 847.8,136.2 848.1,135.1 848.4,135.3 848.8,134.7 849.1,135 849.4,135.2 849.7,133.8 850,134 850.4,133.5 850.7,132.8 851,132.9 851.3,133 851.6,133.4 852,133.4 852.3,133 852.6,132.5 852.9,133.6 853.2,133.5 853.6,133.7 853.9,133.4 854.2,133.9 854.5,134.7 854.8,134.5 855.2,134.4 855.5,134.1 855.8,133.6 856.1,133.7 856.4,133.6 856.8,133.5 857.1,133.1 857.4,132.8 857.7,133.4 858,132.8 858.4,133.2 858.7,133 859,133.4 859.3,133.5 859.6,133.9 860,134.1 860.3,133.8 860.6,134 860.9,134.8 861.2,135.8 861.6,135.2 861.9,135.4 862.2,136.7 862.5,135.3 862.8,135.3 863.2,134.9 863.5,134.3 863.8,133.7 864.1,133.7 864.4,132.8 864.8,132.4 865.1,131.6 865.4,132.5 865.7,132.4 866,132.8 866.4,133.5 866.7,133.7 867,134 867.3,134.5 867.6,134.4 868,134.6 868.3,134.8 868.6,135.9 868.9,135.6 869.2,136.2 869.6,136.9 869.9,137.4 870.2,136.9 870.5,137.3 870.8,137.5 871.2,137 871.5,137.3 871.8,138.1 872.1,136.5 872.4,136.4 872.8,135.2 873.1,134.7 873.4,133.8 873.7,132.9 874,132.2 874.4,133.3 874.7,133.8 875,134.6 875.3,135.4 875.6,134.9 876,135 876.3,134.6 876.6,133.7 876.9,133.4 877.2,133.5 877.6,132.6 877.9,133.6 878.2,133.7 878.5,133.4 878.8,133.7 879.2,133.1 879.5,133.9 879.8,134.3 880.1,134.3 880.4,134.6 880.8,134.4 881.1,135.2 881.4,134.7 881.7,134.8 882,135 882.4,134.3 882.7,134.2 883,134.9 883.3,134.2 883.6,134.5 884,135.2 884.3,134.5 884.6,134.5 884.9,134.4 885.2,134.6 885.6,135.8 885.9,135.6 886.2,135.8 886.5,134.9 886.8,134.8 887.2,135.4 887.5,136.3 887.8,136.5 888.1,135.4 888.4,135.5 888.8,136.3 889.1,135.9 889.4,135.6 889.7,135 890,133.7 890.4,133.5 890.7,132.8 891,133.1 891.3,132.6 891.6,132.2 892,133.6 892.3,134.1 892.6,134.2 892.9,134.2 893.2,134.4 893.6,135.6 893.9,135.6 894.2,136.4 894.5,136.9 894.8,136.9 895.2,136.4 895.5,137.1 895.8,134.6 896.1,131.4 896.4,129.2 896.8,128.1 897.1,128.9 897.4,131.2 897.7,132.7 898,135.1 898.4,135.4 898.7,133.5 899,131.6 899.3,130.2 899.6,130.1 900,131.3 900.3,134.3 900.6,137.6 900.9,141.5 901.2,140.9 901.6,128.3 901.9,127.1 902.2,128.2 902.5,131.1 902.8,132.4 903.2,132.9 903.5,128.6 903.8,124.1 904.1,123.3 904.4,122.1 904.8,121.9 905.1,121.8 905.4,121.5 905.7,121.2 906,121.4 906.4,121.3 906.7,120.1 907,121.2 907.3,120.7 907.6,120.7 908,120.8 908.3,121.3 908.6,121.6 908.9,121.3 909.2,123.3 909.6,128.1 909.9,135.1 910.2,137.8 910.5,137.2 910.8,137.8 911.2,137.6 911.5,137.2 911.8,137.9 912.1,137 912.4,136.6 912.8,137.1 913.1,136.3 913.4,136.2 913.7,135.5 914,136.5 914.4,136.8 914.7,137.3 915,136.3 915.3,137.1 915.6,137.2 916,136.9 916.3,136.5 916.6,135.9 916.9,136.5 917.2,136.2 917.6,135.9 917.9,136.8 918.2,136.9 918.5,137.7 918.8,139.3 919.2,138.9 919.5,134.6 919.8,127 920.1,127.7 920.4,127.3 920.8,127.1 921.1,126.8 921.4,127.4 921.7,131.6 922,141.8 922.4,145.7 922.7,142.5 923,136.5 923.3,129.2 923.6,124 924,120.5 924.3,122.1 924.6,124.4 924.9,125.2 925.2,125.1 925.6,125.6 925.9,125.5 926.2,125.6 926.5,126.1 926.8,125.3 927.2,125.4 927.5,124.9 927.8,124.9 928.1,124.6 928.4,124.9 928.8,124 929.1,121.8 929.4,121 929.7,120.4 930,120.1 930.4,119.4 930.7,119.7 931,119.3 931.3,119.6 931.6,119.2 932,119.8 932.3,119.7 932.6,119.3 932.9,120.1 933.2,120.2 933.6,119.8 933.9,120 934.2,120.2 934.5,121.4 934.8,120.9 935.2,121.7 935.5,121.7 935.8,122.3 936.1,122.8 936.4,123.4 936.8,128.8 937.1,129.7 937.4,130.1 937.7,129.6 938,129.8 938.4,129.1 938.7,128.7 939,127.3 939.3,125.7 939.6,124.8 940,125.5 940.3,127.8 940.6,129.9 940.9,131 941.2,132.7 941.6,134.3 941.9,135.7 942.2,136.5 942.5,136.7 942.8,136.8 943.2,136.6 943.5,135.5 943.8,133.9 944.1,132.6 944.4,131.3 944.8,130.9 945.1,129.6 945.4,129.7 945.7,129.9 946,130 946.4,130.5 946.7,129.5 947,130.4 947.3,130.5 947.6,130.2 948,130.4 948.3,130.8 948.6,130.4 948.9,130.1 949.2,130.1 949.6,129.9 949.9,130.3 950.2,130.1 950.5,130.7 950.8,130.4 951.2,130.9 951.5,130.8 951.8,131.3 952.1,131.9 952.4,131.4 952.8,131.8 953.1,132.3 953.4,132.6 953.7,133.6 954,133.4 954.4,134.7 954.7,135.1 955,135 955.3,133.9 955.6,132.8 956,131.7 956.3,131.6 956.6,131.1 956.9,130.6 957.2,130.6 957.6,130.7 957.9,130.4 958.2,130.3 958.5,130.7 958.8,131.4 959.2,131.9 959.5,132.3 959.8,133.4 960.1,134 960.4,135.4 960.8,135.6 961.1,135.9 961.4,134.9 961.7,134.6 962,134.1 962.4,134.5 962.7,135.4 963,134.4 963.3,134.2 963.6,134.6 964,134.7 964.3,135.1 964.6,134.7 964.9,134.2 965.2,133.6 965.6,134.1 965.9,134.1 966.2,133.7 966.5,133.4 966.8,133.7 967.2,134 967.5,134.5 967.8,134.4 968.1,134.9 968.4,134.4 968.8,134.1 969.1,134.8 969.4,133.5 969.7,133.3 970,134.1 970.4,133.3 970.7,133.7 971,132.1 971.3,133.5 971.6,133.2 972,133.4 972.3,133.7 972.6,132.8 972.9,133.6 973.2,134.2 973.6,135.2 973.9,133.6 974.2,134.3 974.5,133.4 974.8,133.2 975.2,132.3 975.5,132.7 975.8,132.1 976.1,132 976.4,132.9 976.8,132.3 977.1,132.4 977.4,132.8 977.7,132.3 978,132.1 978.4,132.6 978.7,132.6 979,133.1 979.3,132.4 979.6,133.2 980,133.3 980.3,133 980.6,133 980.9,133.1 981.2,132.7 981.6,132.6 981.9,133.3 982.2,132.7 982.5,132.8 982.8,133.5 983.2,133.1 983.5,133.3 983.8,133.1 984.1,133.3 984.4,133.3 984.8,133.5 985.1,134.7 985.4,134.1 985.7,133.8 986,134.4 986.4,135.2 986.7,134.5 987,134.9 987.3,134.6 987.6,134.3 988,134.7 988.3,134.5 988.6,134.9 988.9,135 989.2,134.7 989.6,135.5 989.9,133.9 990.2,134.6 990.5,134.1 990.8,134.2 991.2,133.8 991.5,132.6 991.8,133.2 992.1,133.6 992.4,133.3 992.8,132.9 993.1,133.3 993.4,133.9 993.7,134.4 994,134 994.4,134.5 994.7,134.4 995,134.4 995.3,134.7 995.6,135.4 996,135.1 996.3,134.7 996.6,134.8 996.9,135.1 997.2,135 997.6,135 997.9,135.1 998.2,135.4 998.5,134.9 998.8,135.1 999.2,134 999.5,134.2 999.8,134.2 1000.1,134.5 1000.4,133.9 1000.8,134 1001.1,134.3 1001.4,134.3 1001.7,134.1 1002,134.4 1002.4,134.2 1002.7,134.8 1003,134.6 1003.3,134.7 1003.6,135.1 1004,134.6 1004.3,134.3 1004.6,134 1004.9,134.9 1005.2,134.3 1005.6,134.3 1005.9,135 1006.2,134.8 1006.5,134.6 1006.8,134.8 1007.2,135.2 1007.5,134.3 1007.8,134.1 1008.1,133.4 1008.4,133.3 1008.8,133.7 1009.1,133.4 1009.4,133.6 1009.7,134.1 1010,133.7 1010.4,134.5 1010.7,133.8 1011,133.9 1011.3,133.9 1011.6,133.7 1012,134.4 1012.3,134.3 1012.6,134.9 1012.9,134.2 1013.2,134.8 1013.6,135.2 1013.9,134.7 1014.2,134.9 1014.5,134.1 1014.8,135.6 1015.2,134.9 1015.5,135.1 1015.8,134.6 1016.1,134.8 1016.4,134.3 1016.8,134.9 1017.1,134.6 1017.4,134.4 1017.7,134.6 1018,133.7 1018.4,134.2 1018.7,133.8 1019,134.3 1019.3,133.9 1019.6,133.5 1020,133.5 1020.3,134.8 1020.6,133.5 1020.9,134.8 1021.2,134.6 1021.6,134.7 1021.9,133.9 1022.2,134.8 1022.5,134.2 1022.8,133.8 1023.2,134 1023.5,133.2 1023.8,133.3 1024.1,132.5 1024.4,132.8 1024.8,132.5 1025.1,132 1025.4,131.9 1025.7,132 1026,132.1 1026.4,132.2 1026.7,133.2 1027,132.9 1027.3,132.8 1027.6,133 1028,132.9 1028.3,133.4 1028.6,133.4 1028.9,133.3 1029.2,133.3 1029.6,133.3 1029.9,133 1030.2,133.4 1030.5,133 1030.8,133.6 1031.2,133.5 1031.5,134 1031.8,133.9 1032.1,133.7 1032.4,134.2 1032.8,134.7 1033.1,135 1033.4,134.9 1033.7,134.7 1034,134.5 1034.4,134.1 1034.7,133.9 1035,133.6 1035.3,133.8 1035.6,133.5 1036,133.6 1036.3,133.9 1036.6,134.8 1036.9,133.6 1037.2,134.1 1037.6,134.2 1037.9,134.6 1038.2,134.5 1038.5,135.1 1038.8,134 1039.2,135.1 1039.5,133.9 1039.8,133.9 1040.1,134.1 1040.4,133.7 1040.8,133.5 1041.1,133.5 1041.4,133.6 1041.7,133.9 1042,133.9 1042.4,133.5 1042.7,133.9 1043,134.8 1043.3,135.1 1043.6,134.8 1044,134.7 1044.3,134.2 1044.6,134.5 1044.9,133.2 1045.2,133 1045.6,132.7 1045.9,133.4 1046.2,132.6 1046.5,133 1046.8,132.4 1047.2,132.5 1047.5,133.4 1047.8,133.3 1048.1,133.3 1048.4,133 1048.8,132.8 1049.1,132.8 1049.4,132.7 1049.7,133.2 1050,134 1050.4,133.7 1050.7,133.3 1051,133.6 1051.3,133.1 1051.6,132.7 1052,132.9 1052.3,132.6 1052.6,132.4 1052.9,133.4 1053.2,133.6 1053.6,133.2 1053.9,133.8 1054.2,133.3 1054.5,133.5 1054.8,133.9 1055.2,133.4 1055.5,133.6 1055.8,132.3 1056.1,133.5 1056.4,133.5 1056.8,133.9 1057.1,133.8 1057.4,134.3 1057.7,135.1 1058,135.4 1058.4,135.8 1058.7,136.1 1059,136.4 1059.3,136.3 1059.6,136.2 1060,136.1 1060.3,136.2 1060.6,136 1060.9,136 1061.2,136.3 1061.6,135.4 1061.9,135.7 1062.2,135.7 1062.5,136.2 1062.8,136.3 1063.2,136 1063.5,135.8 1063.8,135.5 1064.1,135.9 1064.4,135.5 1064.8,134.8 1065.1,134.7 1065.4,134.6 1065.7,134.4 1066,133.6 1066.4,133.9 1066.7,133.6 1067,132.9 1067.3,132.9 1067.6,132.7 1068,132.7 1068.3,133.3 1068.6,133.8 1068.9,134 1069.2,133.7 1069.6,133.5 1069.9,133.4 1070.2,133.7 1070.5,133.2 1070.8,133.5 1071.2,133.1 1071.5,133.2 1071.8,133 1072.1,133.9 1072.4,133.7 1072.8,133.3 1073.1,133 1073.4,133.4 1073.7,133.3 1074,132.5 1074.4,132.7 1074.7,133.1 1075,132.3 1075.3,132.1 1075.6,132.5 1076,133.1 1076.3,132.5 1076.6,132.6 1076.9,132.7 1077.2,132.8 1077.6,133.1 1077.9,132.8 1078.2,131.9 1078.5,132.8 1078.8,132.8 1079.2,132.9 1079.5,132.8 1079.8,132.7 1080.1,133.1 1080.4,132.9 1080.8,132.7 1081.1,133.4 1081.4,133.4 1081.7,134.6 1082,134.3 1082.4,135.1 1082.7,134.2 1083,134.4 1083.3,135.2 1083.6,134.6 1084,135.2 1084.3,135 1084.6,136.1 1084.9,135.6 1085.2,136.4 1085.6,135.9 1085.9,136.7 1086.2,136.8 1086.5,136.2 1086.8,135.4 1087.2,135.5 1087.5,135.2 1087.8,134.7 1088.1,134.5 1088.4,134.4 1088.8,133.6 1089.1,133.3 1089.4,133 1089.7,133.2 1090,133.1 1090.4,133.1 1090.7,133.4 1091,134.1 1091.3,133.1 1091.6,133.2 1092,133.2 1092.3,132.9 1092.6,133.6 1092.9,133.2 1093.2,133.4 1093.6,132.7 1093.9,133.5 1094.2,133.3 1094.5,132.8 1094.8,133.7 1095.2,133.7 1095.5,133.4 1095.8,133.4 1096.1,132.8 1096.4,133.5 1096.8,133 1097.1,133.3 1097.4,133.5 1097.7,133.5 1098,133.1 1098.4,133.4 1098.7,133.3 1099,133.5 1099.3,132.7 1099.6,133.2 1100,133 1100.3,132.9 1100.6,133.7 1100.9,133.6 1101.2,133.4 1101.6,134.1 1101.9,134 1102.2,134.2 1102.5,134.6 1102.8,134.8 1103.2,135.7 1103.5,135.5 1103.8,134.4 1104.1,135.4 1104.4,135.3 1104.8,135.6 1105.1,135.9 1105.4,135.9 1105.7,136.1 1106,135.6 1106.4,136.1 1106.7,135.3 1107,135.4 1107.3,134.5 1107.6,134.2 1108,133.3 1108.3,133.8 1108.6,133.3 1108.9,133 1109.2,133.2 1109.6,133.3 1109.9,132.5 1110.2,132.8 1110.5,132.6 1110.8,133.2 1111.2,132.8 1111.5,132.4 1111.8,132.3 1112.1,132.5 1112.4,131.7 1112.8,132.5 1113.1,133.2 1113.4,132.3 1113.7,132.5 1114,132.6 1114.4,133.2 1114.7,132.9 1115,133.8 1115.3,133.1 1115.6,133 1116,132.8 1116.3,133.3 1116.6,133.4 1116.9,132.9 1117.2,133.2 1117.6,133.1 1117.9,132.7 1118.2,132.6 1118.5,132.5 1118.8,133 1119.2,133 1119.5,133.8 1119.8,133.7 1120.1,133.4 1120.4,133.3 1120.8,133.5 1121.1,133.6 1121.4,133.2 1121.7,133.4 1122,133.2 1122.4,133.9 1122.7,134.7 1123,135.3 1123.3,136.1 1123.6,137.1 1124,137.3 1124.3,138.1 1124.6,137.7 1124.9,138 1125.2,137.1 1125.6,136 1125.9,135.2 1126.2,134.1 1126.5,132.4 1126.8,131.4 1127.2,130.1 1127.5,127.9 1127.8,126.5 1128.1,122.6 1128.4,124 1128.8,120.8 1129.1,118.1 1129.4,120.1 1129.7,125.5 1130,122.1 1130.4,113 1130.7,126.4 1131,125.6 1131.3,121.7 1131.6,124.9 1132,123.6 1132.3,122.3 1132.6,120.9 1132.9,120.2 1133.2,121 1133.6,117.6 1133.9,119 1134.2,122 1134.5,125.9 1134.8,125.4 1135.2,119.9 1135.5,123.4 1135.8,123.2 1136.1,119.8 1136.4,122.2 1136.8,119.2 1137.1,119.7 1137.4,121 1137.7,129.9 1138,125.2 1138.4,123.7 1138.7,126.2 1139,123.6 1139.3,123.2 1139.6,123.1 1140,123.5 1140.3,123.7 1140.6,124 1140.9,123.9 1141.2,124.6 1141.6,124.8 1141.9,125.6 1142.2,125.2 1142.5,125.3 1142.8,124.7 1143.2,125.1 1143.5,125.6 1143.8,125.2 1144.1,125.6 1144.4,125.1 1144.8,124.4 1145.1,123.6 1145.4,122.2 1145.7,121 1146,120 1146.4,119.6 1146.7,120.1 1147,119.9 1147.3,118.9 1147.6,120.1 1148,119.6 1148.3,120.8 1148.6,116.3 1148.9,119.5 1149.2,121.7 1149.6,121.6 1149.9,124 1150.2,119 1150.5,119.2 1150.8,120.8 1151.2,114.4 1151.5,120.2 1151.8,119.4 1152.1,115.8 1152.4,110.5 1152.8,112.9 1153.1,108 1153.4,102.9 1153.7,107.3 1154,101.6 1154.4,104.6 1154.7,98.6 1155,97.5 1155.3,99.2 1155.6,95.7 1156,93.6 1156.3,97.3 1156.6,94.6 1156.9,93.3 1157.2,86.2 1157.6,87.8 1157.9,86.4 1158.2,85.3 1158.5,84.5 1158.8,83.9 1159.2,81.8 1159.5,82.8 1159.8,90.3 1160.1,92.9 1160.4,86.1 1160.8,84.9 1161.1,99 1161.4,97.4 1161.7,88 1162,90.6 1162.4,71.8 1162.7,59.3 1163,60.2 1163.3,62.4 1163.6,84.1 1164,97.6 1164.3,98.5 1164.6,97.7 1164.9,100.8 1165.2,102.7 1165.6,108.5 1165.9,111.1 1166.2,115 1166.5,118.6 1166.8,119 1167.2,120 1167.5,119.7 1167.8,121 1168.1,120.1 1168.4,120.7 1168.8,123.2 1169.1,122.8 1169.4,121.5 1169.7,121.7 1170,121.2 1170.4,118.4 1170.7,122.5 1171,126.3 1171.3,123.4 1171.6,125.2 1172,126 1172.3,125.5 1172.6,126.4 1172.9,124.9 1173.2,127.3 1173.6,126.8 1173.9,128.3 1174.2,126.6 1174.5,129.3 1174.8,128.6 1175.2,126.5 1175.5,127.1 1175.8,128.7 1176.1,125.4 1176.4,129.2 1176.8,130.3 1177.1,132.3 1177.4,134.1 1177.7,136.4 1178,136.8 1178.4,137 1178.7,136.5 1179,135 1179.3,132.5 1179.6,130.2 1180,128.3 1180.3,126.4 1180.6,126.6 1180.9,127.1 1181.2,127.5 1181.6,127.6 1181.9,128.5 1182.2,130.1 1182.5,130 1182.8,130.7 1183.2,132.1 1183.5,131.5 1183.8,131.7 1184.1,132.1 1184.4,132.1 1184.8,131.7 1185.1,131.3 1185.4,131.6 1185.7,131.9 1186,131.6 1186.4,131.6 1186.7,132.4 1187,132 1187.3,132 1187.6,132 1188,131.3 1188.3,131.8 1188.6,132.1 1188.9,132 1189.2,131.4 1189.6,131.3 1189.9,131.5 1190.2,131.9 1190.5,131.5 1190.8,131.5 1191.2,130.7 1191.5,131.3 1191.8,130.5 1192.1,131.1 1192.4,130.6 1192.8,129.6 1193.1,130.6 1193.4,130.4 1193.7,130.4 1194,130.6 1194.4,130.8 1194.7,130.6 1195,130.7 1195.3,130.2 1195.6,129.5 1196,130.1 1196.3,130 1196.6,130.1 1196.9,131.4 1197.2,130.8 1197.6,130.2 1197.9,131 1198.2,130.6 1198.5,130.2 1198.8,131.2 1199.2,130.8 1199.5,131.2 1199.8,132.1 1200.1,131 1200.4,131.8 1200.8,131.3 1201.1,131 1201.4,131.3 1201.7,131.4 1202,131.5 1202.4,130.9 1202.7,131.7 1203,131.2 1203.3,131.7 1203.6,131.8 1204,131.7 1204.3,132.3 1204.6,131.9 1204.9,131.9 1205.2,131.7 1205.6,131.5 1205.9,131.7 1206.2,130.9 1206.5,131.2 1206.8,130.9 1207.2,131.5 1207.5,130.5 1207.8,131.5 1208.1,131.4 1208.4,131.7 1208.8,131.7 1209.1,131.9 1209.4,132.3 1209.7,132.6 1210,132.9 1210.4,132.6 1210.7,133.3 1211,133.4 1211.3,132 1211.6,133 1212,133 1212.3,132.7 1212.6,132.1 1212.9,132.4 1213.2,132.9 1213.6,133 1213.9,132.8 1214.2,132.6 1214.5,132.1 1214.8,132.4 1215.2,132.2 1215.5,132.5 1215.8,132.3 1216.1,132.3 1216.4,132.3 1216.8,133.6 1217.1,133.1 1217.4,133 1217.7,132.6 1218,133.5 1218.4,132.7 1218.7,133.1 1219,133.1 1219.3,133.5 1219.6,132.8 1220,132.5 1220.3,133.6 1220.6,133.6 1220.9,133.4 1221.2,133.7 1221.6,134.4 1221.9,133.8 1222.2,133.6 1222.5,133.9 1222.8,134.2 1223.2,134.3 1223.5,134.4 1223.8,134.5 1224.1,134.1 1224.4,134.8 1224.8,134.9 1225.1,134.6 1225.4,134.1 1225.7,133.9 1226,133.8 1226.4,133.6 1226.7,132.8 1227,133.2 1227.3,133.5 1227.6,132.8 1228,132.5 1228.3,132.7 1228.6,132.4 1228.9,132 1229.2,132.2 1229.6,132.8 1229.9,132.9 1230.2,132.5 1230.5,132.7 1230.8,133.4 1231.2,133.4 1231.5,133.5 1231.8,133.4 1232.1,133 1232.4,133.1 1232.8,133.6 1233.1,133.3 1233.4,134 1233.7,134 1234,134.2 1234.4,133.6 1234.7,134.2 1235,134 1235.3,133.6 1235.6,133.8 1236,133.3 1236.3,132.4 1236.6,133.9 1236.9,133.8 1237.2,134.2 1237.6,133.8 1237.9,133.5 1238.2,133.3 1238.5,133.2 1238.8,133.4 1239.2,132.6 1239.5,132.9 1239.8,133.7 1240.1,132.8 1240.4,133.2 1240.8,133.8 1241.1,134.2 1241.4,134.7 1241.7,135.2 1242,135.2 1242.4,135.3 1242.7,134.9 1243,134.9 1243.3,134.4 1243.6,134.3 1244,134.2 1244.3,133.9 1244.6,132.8 1244.9,132.9 1245.2,134.1 1245.6,132.9 1245.9,133.9 1246.2,133.8 1246.5,134.4 1246.8,134.5 1247.2,134.8 1247.5,134.4 1247.8,135.1 1248.1,135.4 1248.4,133.6 1248.8,134 1249.1,133.6 1249.4,134.1 1249.7,134.5 1250,134.5 1250.4,134.4 1250.7,133.9 1251,133.4 1251.3,133.8 1251.6,132.9 1252,132.7 1252.3,132.7 1252.6,132.1 1252.9,132.4 1253.2,132 1253.6,132.4 1253.9,132.7 1254.2,132.2 1254.5,132.7 1254.8,133.1 1255.2,132.7 1255.5,133.1 1255.8,133.1 1256.1,134 1256.4,133.3 1256.8,133.6 1257.1,133.1 1257.4,133.4 1257.7,134.1 1258,134 1258.4,134.4 1258.7,134.3 1259,135.2 1259.3,134.2 1259.6,134.6 1260,134 1260.3,134.1 1260.6,133.7 1260.9,135.2 1261.2,133.7 1261.6,134.7 1261.9,134.7 1262.2,135.3 1262.5,135.1 1262.8,136.1 1263.2,136 1263.5,135.9 1263.8,135.9 1264.1,136.1 1264.4,135.8 1264.8,136.1 1265.1,135.7 1265.4,135.2 1265.7,135.2 1266,134.9 1266.4,135 1266.7,134.4 1267,134.3 1267.3,133.7 1267.6,134.4 1268,134.3 1268.3,134.1 1268.6,135.1 1268.9,134.6 1269.2,134.4 1269.6,135.4 1269.9,135 1270.2,134 1270.5,135.1 1270.8,134.8 1271.2,134.5 1271.5,134.1 1271.8,133.5 1272.1,133.5 1272.4,132.7 1272.8,133 1273.1,133.3 1273.4,133.3 1273.7,132.8 1274,133.8 1274.4,133.2 1274.7,133 1275,133.3 1275.3,133.1 1275.6,133.6 1276,133.1 1276.3,133.2 1276.6,133 1276.9,133.1 1277.2,133.3 1277.6,133.9 1277.9,133.2 1278.2,133.4 1278.5,132.8 1278.8,132.9 1279.2,132.1 1279.5,131.9 1279.8,132.8 1280.1,132.2 1280.4,131.5 1280.8,132.3 1281.1,132.1 1281.4,132.3 1281.7,132.8 1282,132.3 1282.4,133.3 1282.7,133 1283,132.8 1283.3,132.5 1283.6,133.5 1284,132.6 1284.3,132.1 1284.6,132.3 1284.9,132.3 1285.2,132.3 1285.6,132.6 1285.9,132.2 1286.2,132 1286.5,132.9 1286.8,133 1287.2,132 1287.5,132.9 1287.8,132.5 1288.1,133.2 1288.4,132.4 1288.8,132.7 1289.1,133.1 1289.4,132.6 1289.7,132.8 1290,132.2 1290.4,132 1290.7,132.1 1291,132.7 1291.3,132.2 1291.6,132.7 1292,131.8 1292.3,132.1 1292.6,131.3 1292.9,130.5 1293.2,130.6 1293.6,130.5 1293.9,130.4 1294.2,130.1 1294.5,130.6 1294.8,130.7 1295.2,130.9 1295.5,130.6 1295.8,130.3 1296.1,131.6 1296.4,131.4 1296.8,131.8 1297.1,132.3 1297.4,132.8 1297.7,132.4 1298,133.1 1298.4,133.7 1298.7,132.7 1299,133 1299.3,133.5 1299.6,133.1 1300,132.9 1300.3,132.6 1300.6,131.9 1300.9,132.3 1301.2,131.8 1301.6,132.2 1301.9,131.9 1302.2,131.7 1302.5,132.1 1302.8,132.5 1303.2,131.9 1303.5,132.3 1303.8,132.6 1304.1,132.8 1304.4,132.4 1304.8,132.9 1305.1,133.5 1305.4,133.7 1305.7,134.5 1306,134.1 1306.4,133.5 1306.7,133.9 1307,133.9 1307.3,133.6 1307.6,133.3 1308,132.5 1308.3,132.8 1308.6,132.9 1308.9,132.5 1309.2,132.4 1309.6,132.7 1309.9,132.3 1310.2,132.3 1310.5,132.7 1310.8,132.9 1311.2,133.6 1311.5,133.5 1311.8,133.5 1312.1,134.4 1312.4,134.2 1312.8,134.9 1313.1,134.6 1313.4,135.1 1313.7,135.1 1314,135 1314.4,134.6 1314.7,135 1315,135.7 1315.3,135.3 1315.6,135.7 1316,135.3 1316.3,135.3 1316.6,134.9 1316.9,135.3 1317.2,134.8 1317.6,134.6 1317.9,135.1 1318.2,134.2 1318.5,135.2 1318.8,134.3 1319.2,134.1 1319.5,134.8 1319.8,134.1 1320.1,134.6 1320.4,134.7 1320.8,135.1 1321.1,135.6 1321.4,135.3 1321.7,134.9 1322,135 1322.4,135.4 1322.7,135.9 1323,135.5 1323.3,135.4 1323.6,135 1324,135.3 1324.3,134.2 1324.6,135.2 1324.9,134.9 1325.2,134.9 1325.6,134.9 1325.9,135.1 1326.2,135.4 1326.5,135.3 1326.8,135.3 1327.2,135.1 1327.5,135.5 1327.8,135.1 1328.1,135.1 1328.4,134.5 1328.8,134.1 1329.1,134 1329.4,134.2 1329.7,133.4 1330,133.7 1330.4,132.9 1330.7,132.8 1331,132.9 1331.3,132.3 1331.6,132.1 1332,133.3 1332.3,133 1332.6,133 1332.9,134 1333.2,134.3 1333.6,133.7 1333.9,133.9 1334.2,134.9 1334.5,133.9 1334.8,134.7 1335.2,134.8 1335.5,134.3 1335.8,134.2 1336.1,134.2 1336.4,134.3 1336.8,134.1 1337.1,134.5 1337.4,132.9 1337.7,133 1338,132.4 1338.4,132.9 1338.7,132.8 1339,132.3 1339.3,132.8 1339.6,133.2 1340,133.6 1340.3,133.7 1340.6,133.8 1340.9,133.6 1341.2,133.8 1341.6,133.4 1341.9,133.6 1342.2,133.4 1342.5,132.8 1342.8,133 1343.2,132.8 1343.5,133 1343.8,133.3 1344.1,133.1 1344.4,133 1344.8,132.8 1345.1,133.6 1345.4,133.1 1345.7,132.7 1346,132.9 1346.4,133.4 1346.7,133.7 1347,133.5 1347.3,133 1347.6,133.4 1348,132.5 1348.3,133.3 1348.6,132.9 1348.9,132.9 1349.2,132.3 1349.6,132.7 1349.9,132 1350.2,131.7 1350.5,132.7 1350.8,131.8 1351.2,132.5 1351.5,132.1 1351.8,132.3 1352.1,132.4 1352.4,132.8 1352.8,132.6 1353.1,132.1 1353.4,132.2 1353.7,132.8 1354,132.7 1354.4,132 1354.7,132.5 1355,132.2 1355.3,132.7 1355.6,132.2 1356,133.1 1356.3,132.9 1356.6,133 1356.9,133.9 1357.2,134 1357.6,133.3 1357.9,132.9 1358.2,133.6 1358.5,133.6 1358.8,133.1 1359.2,133.1 1359.5,132.9 1359.8,132.8 1360.1,133.1 1360.4,133.5 1360.8,133.2 1361.1,133 1361.4,132.9 1361.7,133.3 1362,132.5 1362.4,133.5 1362.7,133.6 1363,133.8 1363.3,134 1363.6,134.3 1364,134.2 1364.3,135.3" fill="none" stroke="#3A53A4" stroke-width="1.12" stroke-linejoin="round"/>
<path d="M765.3,373.2 766,377.7 766.7,382.3 767.4,385.2 768.1,386.2 768.8,383.8 769.5,379.7 770.2,376.1 770.9,377.6 771.6,380 772.3,381.3 773,380.3 773.7,378.5 774.4,374.8 775.1,370 775.8,366.8 776.5,364.4 777.2,367.6 777.9,379.5 778.6,386.9 779.3,385 780,380.2 780.7,377.5 781.4,374.3 782.1,372.3 782.8,369.9 783.5,370.2 784.2,372.8 784.9,376.5 785.6,377.3 786.3,378.2 787,378.9 787.7,379.2 788.4,380 789.1,376.8 789.8,374.9 790.5,374.1 791.2,373.5 791.9,372.3 792.6,372.6 793.3,372.9 794,373.7 794.7,374.1 795.4,375.7 796.1,375.8 796.8,377.2 797.5,376.4 798.2,377.8 798.9,376.9 799.6,376.9 800.3,378 801,377.6 801.7,378.8 802.4,378.6 803.1,380.6 803.8,379.7 804.5,377.7 805.2,375.9 805.9,373.6 806.6,370.5 807.3,369.8 808,370.9 808.7,371.8 809.4,373.4 810.1,375 810.8,376.3 811.5,375.5 812.2,374.7 812.9,375.5 813.6,374.7 814.3,375.5 815,374 815.7,372.7 816.4,371.9 817.1,372.2 817.8,371.2 818.5,371 819.2,371.2 819.9,374.5 820.6,379.1 821.3,381 822,381.4 822.7,380.9 823.4,377.9 824.1,378.2 824.8,374.9 825.5,373.6 826.2,371.2 826.9,371.1 827.6,371.5 828.3,372.5 829,374.2 829.7,375.4 830.4,375.9 831.1,377.3 831.8,378.2 832.5,378.3 833.2,377.7 833.9,377.4 834.6,377 835.3,375.9 836,375.2 836.7,376.1 837.4,374.8 838.1,374.9 838.8,374.6 839.5,375.7 840.2,375.9 840.9,374.7 841.6,374.8 842.3,373.8 843,374.8 843.7,374.3 844.4,373.6 845.1,375.1 845.8,375.2 846.5,375.6 847.2,375.9 847.9,375.6 848.6,375.7 849.3,376.1 850,375.5 850.7,374.5 851.4,375.4 852.1,373.8 852.8,373.4 853.5,373.3 854.2,374 854.9,374.2 855.6,373.9 856.3,374.3 857,373.2 857.7,373.7 858.4,373.6 859.1,373.6 859.8,373.6 860.5,372.4 861.2,375.3 861.9,373.8 862.6,374.9 863.3,375.6 864,376.2 864.7,376.4 865.4,375 866.1,375.8 866.8,376.2 867.5,374.5 868.2,373.6 868.9,372.4 869.6,374 870.3,373.5 871,372.7 871.7,372.8 872.4,372.4 873.1,371.5 873.8,371.5 874.5,371.6 875.2,371.7 875.9,372 876.6,371.4 877.3,371.5 878,372.5 878.7,372.7 879.4,372.9 880.1,374.5 880.8,373.9 881.5,374.1 882.2,374.3 882.9,373.6 883.6,374.8 884.3,375.2 885,375.3 885.7,375.8 886.4,375.5 887.1,374.8 887.8,375.7 888.5,375.4 889.2,376.3 889.9,376 890.6,375.7 891.3,376 892,376.7 892.7,376.6 893.4,376.2 894.1,376.2 894.8,376 895.5,376.3 896.2,376.9 896.9,376.7 897.6,377 898.3,376 899,375.4 899.7,374.9 900.4,375.1 901.1,375.8 901.8,375.7 902.5,374.4 903.2,373.6 903.9,374.1 904.6,373.4 905.3,372 906,373.1 906.7,372.9 907.4,373.6 908.1,373.1 908.8,373.3 909.5,372.9 910.2,372.2 910.9,372.8 911.6,372.9 912.3,374 913,373.1 913.7,372.7 914.4,373.7 915.1,373.8 915.8,373.8 916.5,373.7 917.2,372.6 917.9,373.3 918.6,373.7 919.3,374.5 920,374 920.7,375.4 921.4,375.9 922.1,375.5 922.8,376.3 923.5,377.1 924.2,376.7 924.9,377.3 925.6,377.1 926.3,376.5 927,376 927.7,375.3 928.4,375.9 929.1,374.8 929.8,374.4 930.5,374.9 931.2,374.1 931.9,374.6 932.6,375 933.3,374.6 934,374.9 934.7,375.6 935.4,375.8 936.1,374.9 936.8,375.2 937.5,376.6 938.2,376.2 938.9,375.1 939.6,375.9 940.3,377 941,376.9 941.7,377.8 942.4,377.4 943.1,377.1 943.8,375.5 944.5,375.3 945.2,374.7 945.9,372.2 946.6,372.5 947.3,371.9 948,371.8 948.7,372.1 949.4,372.4 950.1,373.4 950.8,375.2 951.5,376.3 952.2,377.4 952.9,377.8 953.6,377.7 954.3,376.1 955,374 955.7,372.6 956.4,370.6 957.1,368.5 957.8,366.2 958.5,366 959.2,366 959.9,368.3 960.6,370 961.3,373 962,375.6 962.7,377.5 963.4,379.3 964.1,378.1 964.8,376.9 965.5,377.1 966.2,375.7 966.9,374 967.6,372 968.3,371.3 969,371.2 969.7,371.2 970.4,372.6 971.1,374.3 971.8,374.8 972.5,376.8 973.2,375.4 973.9,375.9 974.6,376.2 975.3,374.5 976,373.2 976.7,371.8 977.4,370.8 978.1,370.9 978.8,369.8 979.5,369.9 980.2,370.1 980.9,372 981.6,373.3 982.3,374.6 983,376.7 983.7,378.8 984.4,380.8 985.1,381 985.8,381.2 986.5,381.1 987.2,378.4 987.9,376.5 988.6,375.8 989.3,374.1 990,372.9 990.7,372.9 991.4,372.9 992.1,374 992.8,374.7 993.5,376.7 994.2,377.3 994.9,379.2 995.6,381.2 996.3,381.9 997,382.9 997.7,382.3 998.4,380 999.1,377 999.8,373.1 1000.5,370.1 1001.2,369.9 1001.9,370.9 1002.6,372.6 1003.3,374.9 1004,377.2 1004.7,378.7 1005.4,380.5 1006.1,380.4 1006.8,378.7 1007.5,377.8 1008.2,375.3 1008.9,372.3 1009.6,371.1 1010.3,370.9 1011,370.9 1011.7,372.4 1012.4,373.5 1013.1,375.4 1013.8,376.5 1014.5,378.1 1015.2,378.4 1015.9,378.7 1016.6,376.7 1017.3,376.5 1018,375.9 1018.7,374.5 1019.4,373.4 1020.1,373 1020.8,371.7 1021.5,371.3 1022.2,371.3 1022.9,371.5 1023.6,372.9 1024.3,373.4 1025,375.9 1025.7,376.3 1026.4,378.2 1027.1,379.8 1027.8,381.2 1028.5,380.4 1029.2,377 1029.9,373.8 1030.6,369 1031.3,365.6 1032,365.5 1032.7,367 1033.4,369.5 1034.1,372.6 1034.8,374.5 1035.5,379.2 1036.2,380 1036.9,380.5 1037.6,380.5 1038.3,378.8 1039,378 1039.7,375.1 1040.4,372 1041.1,369.9 1041.8,368.3 1042.5,367.5 1043.2,367.9 1043.9,368.9 1044.6,373.1 1045.3,376.3 1046,380.6 1046.7,385.3 1047.4,386.8 1048.1,388.2 1048.8,387.9 1049.5,385.1 1050.2,381.8 1050.9,378.4 1051.6,374.3 1052.3,371.5 1053,368.7 1053.7,367.7 1054.4,370.2 1055.1,371.5 1055.8,374.8 1056.5,379.3 1057.2,382.3 1057.9,383.8 1058.6,384.9 1059.3,384 1060,380.4 1060.7,377.1 1061.4,372.7 1062.1,369.4 1062.8,368.2 1063.5,369.8 1064.2,374.1 1064.9,376.2 1065.6,376.8 1066.3,380.4 1067,381.6 1067.7,383.4 1068.4,385.5 1069.1,383.9 1069.8,381.5 1070.5,378.4 1071.2,373.4 1071.9,369.6 1072.6,367.4 1073.3,366.4 1074,366.5 1074.7,367.8 1075.4,371.9 1076.1,376.1 1076.8,381 1077.5,383.5 1078.2,384.9 1078.9,384.7 1079.6,382.6 1080.3,380.9 1081,378.2 1081.7,374.7 1082.4,372.6 1083.1,371.1 1083.8,369.6 1084.5,370.7 1085.2,371.4 1085.9,372.7 1086.6,373.2 1087.3,375.2 1088,377.4 1088.7,378.1 1089.4,377.7 1090.1,377.7 1090.8,377.2 1091.5,374.8 1092.2,373.2 1092.9,372.5 1093.6,369.6 1094.3,368.4 1095,367.3 1095.7,367.7 1096.4,370.3 1097.1,371.9 1097.8,374.2 1098.5,377.1 1099.2,379.8 1099.9,381.3 1100.6,380.3 1101.3,379.9 1102,377.7 1102.7,376.3 1103.4,374.7 1104.1,373.5 1104.8,372.5 1105.5,372.8 1106.2,373.8 1106.9,373.7 1107.6,375.2 1108.3,376.3 1109,377.5 1109.7,377.9 1110.4,378.6 1111.1,379.1 1111.8,378.3 1112.5,377.7 1113.2,376.8 1113.9,375.3 1114.6,373.3 1115.3,372.6 1116,371.3 1116.7,374 1117.4,375.9 1118.1,378.8 1118.8,379.5 1119.5,379.6 1120.2,378 1120.9,376 1121.6,372.9 1122.3,373.5 1123,373.1 1123.7,372.8 1124.4,373.7 1125.1,374 1125.8,374.9 1126.5,375.7 1127.2,377.2 1127.9,377.5 1128.6,377.5 1129.3,376.5 1130,377.1 1130.7,378.3 1131.4,379.6 1132.1,377.6 1132.8,378.9 1133.5,375.7 1134.2,372.6 1134.9,373.4 1135.6,369.6 1136.3,370.2 1137,370.5 1137.7,370.1 1138.4,373.9 1139.1,380.1 1139.8,375.9 1140.5,372.7 1141.2,371.2 1141.9,372.2 1142.6,377.3 1143.3,380.9 1144,375.1 1144.7,376 1145.4,367.7 1146.1,363.9 1146.8,365 1147.5,365.6 1148.2,365.6 1148.9,367.8 1149.6,361.8 1150.3,359.8 1151,369.7 1151.7,384.4 1152.4,386.9 1153.1,384.1 1153.8,380.4 1154.5,376.7 1155.2,371.3 1155.9,368.2 1156.6,369.7 1157.3,376.3 1158,378.5 1158.7,381.6 1159.4,379.4 1160.1,372.2 1160.8,362.3 1161.5,354.1 1162.2,348.1 1162.9,346.4 1163.6,353.4 1164.3,364.1 1165,371.9 1165.7,379.4 1166.4,383.4 1167.1,382.9 1167.8,380 1168.5,372.5 1169.2,363.2 1169.9,362.2 1170.6,358.3 1171.3,359 1172,360.2 1172.7,369.6 1173.4,379.2 1174.1,381.3 1174.8,386.8 1175.5,386.9 1176.2,384.7 1176.9,379.8 1177.6,378.5 1178.3,378.1 1179,376.6 1179.7,376.1 1180.4,375 1181.1,375.6 1181.8,375 1182.5,374.9 1183.2,373.3 1183.9,373.8 1184.6,372.8 1185.3,373.4 1186,373.2 1186.7,372.3 1187.4,372.7 1188.1,372.9 1188.8,372.5 1189.5,372.6 1190.2,372.1 1190.9,372.8 1191.6,373.3 1192.3,374.6 1193,375.8 1193.7,376 1194.4,376.2 1195.1,375.9 1195.8,376.7 1196.5,376.3 1197.2,375.4 1197.9,375.3 1198.6,375.6 1199.3,374.8 1200,375.6 1200.7,374.4 1201.4,373.6 1202.1,373.8 1202.8,374.6 1203.5,372.9 1204.2,373.1 1204.9,372.3 1205.6,372.3 1206.3,371.6 1207,371.2 1207.7,372.1 1208.4,372.4 1209.1,373.5 1209.8,373.6 1210.5,375.2 1211.2,374.6 1211.9,375.2 1212.6,374.7 1213.3,375 1214,374.8 1214.7,375 1215.4,375.6 1216.1,375.4 1216.8,375.8 1217.5,377.3 1218.2,376.9 1218.9,376.6 1219.6,377.3 1220.3,376.9 1221,375 1221.7,376.1 1222.4,376.5 1223.1,376 1223.8,374.4 1224.5,374.3 1225.2,371.9 1225.9,371.4 1226.6,371.3 1227.3,371.4 1228,372.2 1228.7,373.6 1229.4,375 1230.1,377.5 1230.8,377.5 1231.5,377.6 1232.2,377.8 1232.9,376 1233.6,375.4 1234.3,373.6 1235,372.8 1235.7,372.5 1236.4,372.9 1237.1,373.7 1237.8,375.7 1238.5,378.1 1239.2,380.4 1239.9,381.3 1240.6,382.2 1241.3,382 1242,380.1 1242.7,378.6 1243.4,378.7 1244.1,376.9 1244.8,374.8 1245.5,373.8 1246.2,372.6 1246.9,372.7 1247.6,374.5 1248.3,374.7 1249,376.8 1249.7,376.6 1250.4,377.1 1251.1,377.4 1251.8,376.5 1252.5,374.5 1253.2,374.2 1253.9,372 1254.6,371.1 1255.3,370.5 1256,370 1256.7,368.1 1257.4,368.2 1258.1,368 1258.8,368.1 1259.5,370.1 1260.2,372.8 1260.9,373.9 1261.6,375.9 1262.3,377.3 1263,377.1 1263.7,378 1264.4,377.5 1265.1,376.5 1265.8,375.4 1266.5,373.6 1267.2,372.6 1267.9,371.7 1268.6,371.2 1269.3,371.4 1270,373.4 1270.7,375.5 1271.4,376.6 1272.1,379.4 1272.8,379.8 1273.5,380.7 1274.2,379.2 1274.9,376.6 1275.6,374.5 1276.3,371.7 1277,369.2 1277.7,368.1 1278.4,368.3 1279.1,369.9 1279.8,371.4 1280.5,373.8 1281.2,375 1281.9,377.3 1282.6,378.4 1283.3,378.8 1284,378.1 1284.7,376.5 1285.4,374.5 1286.1,372.2 1286.8,371.4 1287.5,370.6 1288.2,369.6 1288.9,366.9 1289.6,368.1 1290.3,370 1291,372.2 1291.7,375.6 1292.4,378.1 1293.1,379.6 1293.8,380.6 1294.5,379.3 1295.2,378 1295.9,375.9 1296.6,374.4 1297.3,370.6 1298,369 1298.7,367.7 1299.4,366.6 1300.1,367.4 1300.8,367.9 1301.5,370.3 1302.2,372.7 1302.9,375.6 1303.6,376.6 1304.3,378.1 1305,377.8 1305.7,377.3 1306.4,376.3 1307.1,373.6 1307.8,372.1 1308.5,370.6 1309.2,371.1 1309.9,371.5 1310.6,370.7 1311.3,373.3 1312,374.2 1312.7,376 1313.4,377.3 1314.1,378.9 1314.8,378.2 1315.5,377.3 1316.2,374.9 1316.9,372.5 1317.6,369.8 1318.3,367 1319,364.8 1319.7,363.4 1320.4,363.4 1321.1,366.3 1321.8,369 1322.5,372.5 1323.2,376.5 1323.9,378.9 1324.6,381.5 1325.3,382.4 1326,384.8 1326.7,384 1327.4,381.8 1328.1,379.5 1328.8,375.3 1329.5,372 1330.2,370.1 1330.9,367.4 1331.6,367.1 1332.3,368.4 1333,371 1333.7,373.9 1334.4,378.1 1335.1,379.4 1335.8,381.3 1336.5,381 1337.2,379.6 1337.9,376.3 1338.6,373.7 1339.3,372.4 1340,369.7 1340.7,367.1 1341.4,367.2 1342.1,369.3 1342.8,371.7 1343.5,377.2 1344.2,380.2 1344.9,384.4 1345.6,386.5 1346.3,390 1347,388.4 1347.7,386.8 1348.4,382.4 1349.1,380.1 1349.8,378.2 1350.5,378 1351.2,379.6 1351.9,380.4 1352.6,380.7 1353.3,380.7 1354,382.5 1354.7,383.8 1355.4,384.2 1356.1,384.6 1356.8,384.1 1357.5,382.1 1358.2,380.7 1358.9,379.1 1359.6,375.3 1360.3,373.1 1361,370.7 1361.7,366.8 1362.4,365 1363.1,362.4 1363.8,361.8" fill="none" stroke="#ED1C24" stroke-width="0.98" stroke-linejoin="round"/>
<path d="M765.3,362 765.6,361.8 765.9,361.9 766.3,364 766.6,364.6 766.9,366.6 767.2,369.2 767.5,372.5 767.9,375.2 768.2,377.9 768.5,380.2 768.8,382.3 769.1,384.3 769.5,385.5 769.8,385.7 770.1,386 770.4,385.6 770.7,385.4 771.1,385.4 771.4,384.2 771.7,382.9 772,380.5 772.3,378.9 772.7,375.8 773,373.9 773.3,371.9 773.6,370.6 773.9,368.2 774.3,366.5 774.6,365.9 774.9,364.8 775.2,364.7 775.5,364 775.9,363.8 776.2,363.6 776.5,364.4 776.8,364.4 777.1,366.2 777.5,370.8 777.8,374.1 778.1,378.2 778.4,381.7 778.7,383.7 779.1,382.1 779.4,383.3 779.7,384.4 780,382.8 780.3,383.7 780.7,382.8 781,381.9 781.3,381.6 781.6,380 781.9,380.2 782.3,379.8 782.6,377.5 782.9,376.9 783.2,376.8 783.5,375.2 783.9,373.6 784.2,373.1 784.5,370.2 784.8,369.5 785.1,368.3 785.5,366.9 785.8,366.5 786.1,364.5 786.4,364.8 786.7,364.1 787.1,365.2 787.4,365.3 787.7,364.8 788,365 788.3,366 788.7,366.2 789,367.5 789.3,369.5 789.6,371 789.9,374.3 790.3,375.6 790.6,377.4 790.9,379.1 791.2,381 791.5,383.1 791.9,383.6 792.2,384.3 792.5,383.8 792.8,382.5 793.1,380.5 793.5,379.1 793.8,377.4 794.1,374.5 794.4,373.6 794.7,371.2 795.1,370.3 795.4,369.2 795.7,369.5 796,370.7 796.3,369.1 796.7,370 797,371.3 797.3,370.3 797.6,371 797.9,371.6 798.3,372.3 798.6,372 798.9,373.7 799.2,374.6 799.5,376.3 799.9,375.6 800.2,375.9 800.5,376.7 800.8,375.8 801.1,377.6 801.5,378.5 801.8,377.9 802.1,378.1 802.4,378 802.7,378 803.1,377.1 803.4,378.2 803.7,376.9 804,376.6 804.3,377.4 804.7,376.4 805,376 805.3,376.9 805.6,376 805.9,376.2 806.3,375.2 806.6,374.4 806.9,375.2 807.2,375.7 807.5,374.8 807.9,375.3 808.2,375.6 808.5,375.4 808.8,375.4 809.1,376.1 809.5,376.2 809.8,376.4 810.1,377.8 810.4,378.3 810.7,378.7 811.1,379.5 811.4,378.3 811.7,380.1 812,380.2 812.3,379.1 812.7,380.8 813,379.4 813.3,378.4 813.6,377.7 813.9,377.4 814.3,376.6 814.6,375.1 814.9,375.3 815.2,375.3 815.5,375 815.9,374.8 816.2,373.7 816.5,373.9 816.8,374.5 817.1,374.1 817.5,374.8 817.8,374.5 818.1,375.4 818.4,375.2 818.7,375.6 819.1,375.4 819.4,375.2 819.7,375.4 820,376.5 820.3,376.7 820.7,376.8 821,377.9 821.3,379.1 821.6,379.7 821.9,379.7 822.3,380.1 822.6,379.1 822.9,379 823.2,378.4 823.5,378.2 823.9,379.1 824.2,378 824.5,377.7 824.8,378.1 825.1,377.2 825.5,375.4 825.8,375.9 826.1,374.8 826.4,375.6 826.7,374.1 827.1,374.7 827.4,374.9 827.7,376.8 828,375.2 828.3,376.9 828.7,377 829,376.6 829.3,376.8 829.6,377.6 829.9,376.3 830.3,376 830.6,376.8 830.9,376.6 831.2,375.8 831.5,376.6 831.9,376.9 832.2,376.5 832.5,376.8 832.8,377 833.1,376.6 833.5,377.3 833.8,377.1 834.1,375.7 834.4,376.5 834.7,376.7 835.1,376 835.4,376.6 835.7,376.9 836,375.9 836.3,376.6 836.7,375.4 837,376.8 837.3,375.7 837.6,375 837.9,374.6 838.3,374.5 838.6,376 838.9,375 839.2,375.3 839.5,375.7 839.9,375.4 840.2,376.9 840.5,375.6 840.8,377.6 841.1,376.9 841.5,377.4 841.8,377.6 842.1,377.8 842.4,376.5 842.7,377.2 843.1,376.6 843.4,376.4 843.7,376.1 844,376.7 844.3,376.3 844.7,376.7 845,376.5 845.3,375 845.6,375.9 845.9,376.4 846.3,375.4 846.6,374.9 846.9,374.5 847.2,376.5 847.5,374.8 847.9,375.1 848.2,374.2 848.5,374.6 848.8,375 849.1,373.1 849.5,373.5 849.8,373 850.1,372.2 850.4,372.6 850.7,373 851.1,373.7 851.4,373.8 851.7,373.4 852,372.8 852.3,374.2 852.7,374.1 853,374.3 853.3,373.8 853.6,374.4 853.9,375.6 854.3,375.3 854.6,375.2 854.9,374.8 855.2,374.2 855.5,374.3 855.9,374.3 856.2,374.3 856.5,373.9 856.8,373.5 857.1,374.5 857.5,373.8 857.8,374.5 858.1,374.2 858.4,374.9 858.7,375.1 859.1,375.5 859.4,375.9 859.7,375.5 860,375.8 860.3,377 860.7,378.4 861,377.6 861.3,378 861.6,380 861.9,378.2 862.3,378.6 862.6,378.5 862.9,378.1 863.2,377.9 863.5,378.5 863.9,377.8 864.2,377.8 864.5,376.9 864.8,378.3 865.1,378.2 865.5,378.4 865.8,378.9 866.1,378.7 866.4,378.5 866.7,378.6 867.1,377.8 867.4,377.4 867.7,376.8 868,377.7 868.3,376.5 868.7,376.6 869,376.8 869.3,376.9 869.6,375.6 869.9,375.7 870.3,375.7 870.6,375 870.9,375.6 871.2,377.5 871.5,376.3 871.9,377.5 872.2,377.2 872.5,377.9 872.8,377.9 873.1,377.5 873.5,376.7 873.8,378 874.1,377.4 874.4,377.1 874.7,376.9 875.1,375.7 875.4,375.7 875.7,375.3 876,374.2 876.3,374.2 876.7,374.6 877,373.5 877.3,375.1 877.6,375.2 877.9,374.8 878.3,375 878.6,374 878.9,375 879.2,375.4 879.5,375.4 879.9,375.8 880.2,375.4 880.5,376.6 880.8,375.9 881.1,376.2 881.5,376.5 881.8,375.7 882.1,375.7 882.4,376.8 882.7,376 883.1,376.6 883.4,377.6 883.7,376.6 884,376.7 884.3,376.5 884.7,376.4 885,377.7 885.3,376.8 885.6,376.8 885.9,375.1 886.3,374.7 886.6,375.1 886.9,376.1 887.2,375.9 887.5,374 887.9,373.8 888.2,374.6 888.5,374.1 888.8,373.9 889.1,373.8 889.5,372.8 889.8,373.3 890.1,373 890.4,373.7 890.7,372.9 891.1,372.1 891.4,373.7 891.7,374.1 892,373.9 892.3,373.5 892.7,373.6 893,375 893.3,374.7 893.6,375.8 893.9,376.4 894.3,376.3 894.6,375.8 894.9,377.5 895.2,377 895.5,377 895.9,377.9 896.2,378.1 896.5,377.9 896.8,378.2 897.1,376.8 897.5,377.8 897.8,378 898.1,376.6 898.4,375.9 898.7,375.5 899.1,375.7 899.4,374.5 899.7,373.9 900,373.2 900.3,374.7 900.7,374.7 901,374 901.3,375.2 901.6,374.1 901.9,374.8 902.3,373.8 902.6,373.9 902.9,374.3 903.2,374.5 903.5,374.7 903.9,374 904.2,374.4 904.5,374.8 904.8,374.9 905.1,375.2 905.5,375.9 905.8,376.4 906.1,375 906.4,376.7 906.7,376.1 907.1,376.2 907.4,376.3 907.7,376.6 908,376.5 908.3,375.4 908.7,376.7 909,375.8 909.3,376.7 909.6,376.7 909.9,375.9 910.3,376.7 910.6,376.5 910.9,376.1 911.2,377.3 911.5,376.3 911.9,375.9 912.2,376.9 912.5,376 912.8,376 913.1,375.2 913.5,376.7 913.8,377.2 914.1,377.8 914.4,376.4 914.7,377.5 915.1,377.7 915.4,377.3 915.7,376.8 916,376 916.3,376.9 916.7,376.6 917,376 917.3,377.3 917.6,377 917.9,377 918.3,378.1 918.6,376.8 918.9,375.9 919.2,375.7 919.5,377.1 919.9,376.8 920.2,376.7 920.5,376.2 920.8,377.5 921.1,378.2 921.5,379.8 921.8,380.3 922.1,380.8 922.4,381.4 922.7,380 923.1,378.2 923.4,373.5 923.7,372.1 924,372.1 924.3,371.4 924.7,370.6 925,371 925.3,370.7 925.6,370.7 925.9,371.5 926.3,370.6 926.6,370.9 926.9,370.4 927.2,370.5 927.5,370.1 927.9,370.5 928.2,370.5 928.5,370.3 928.8,370.2 929.1,369.8 929.5,369.8 929.8,369 930.1,369.4 930.4,368.7 930.7,368.9 931.1,368 931.4,368.5 931.7,367.9 932,366.9 932.3,367.5 932.7,367.3 933,366.6 933.3,366.8 933.6,367.1 933.9,368.6 934.3,367.8 934.6,368.9 934.9,368.8 935.2,369.3 935.5,369.7 935.9,369.1 936.2,370.9 936.5,370.1 936.8,371.1 937.1,370.9 937.5,372 937.8,371.9 938.1,372.3 938.4,371.7 938.7,371.5 939.1,372.1 939.4,373.1 939.7,372.5 940,372.7 940.3,372.5 940.7,373.3 941,374.1 941.3,375 941.6,375.5 941.9,375.6 942.3,376.2 942.6,377.3 942.9,377.7 943.2,377.5 943.5,377.6 943.9,377.4 944.2,377.6 944.5,375.9 944.8,376.2 945.1,376.5 945.5,376.5 945.8,377 946.1,375.4 946.4,376.4 946.7,376.5 947.1,376 947.4,376.2 947.7,376.7 948,376.3 948.3,376 948.7,376.2 949,376.2 949.3,376.9 949.6,376.7 949.9,377.6 950.3,377.1 950.6,377.7 950.9,377.4 951.2,378 951.5,378.6 951.9,377.7 952.2,377.9 952.5,378 952.8,377.7 953.1,378.2 953.5,377.1 953.8,378.1 954.1,378.2 954.4,378.2 954.7,377.2 955.1,376.5 955.4,375.7 955.7,376.3 956,375.9 956.3,375.1 956.7,374.6 957,374.4 957.3,373.6 957.6,372.9 957.9,373 958.3,373.4 958.6,373.5 958.9,373.5 959.2,374.4 959.5,374.5 959.9,375.6 960.2,375.4 960.5,376 960.8,375.1 961.1,375.3 961.5,375.3 961.8,376.7 962.1,378.6 962.4,377.6 962.7,377.8 963.1,378.4 963.4,378.5 963.7,379 964,378.2 964.3,377.3 964.7,376.1 965,376.5 965.3,376.2 965.6,375.3 965.9,374.3 966.3,374.2 966.6,373.9 966.9,374 967.2,373.4 967.5,373.6 967.9,372.7 968.2,372.3 968.5,373.4 968.8,372 969.1,372.2 969.5,373.9 969.8,373.4 970.1,374.7 970.4,373.3 970.7,375.9 971.1,376.1 971.4,376.9 971.7,377.9 972,377 972.3,378.5 972.7,379.5 973,380.9 973.3,378.7 973.6,379.9 973.9,378.5 974.3,378.2 974.6,376.6 974.9,376.7 975.2,375.3 975.5,374.5 975.9,375.1 976.2,373.5 976.5,372.9 976.8,372.8 977.1,371.3 977.5,370.5 977.8,370.8 978.1,370.6 978.4,371.1 978.7,369.9 979.1,371.1 979.4,371.4 979.7,371.3 980,372 980.3,372.8 980.7,373 981,373.6 981.3,375.5 981.6,375.5 981.9,376.4 982.3,378.1 982.6,378.2 982.9,378.9 983.2,379 983.5,379.5 983.9,379.6 984.2,379.7 984.5,381 984.8,379.6 985.1,378.5 985.5,378.5 985.8,378.6 986.1,376.8 986.4,376.5 986.7,375.1 987.1,373.8 987.4,373.5 987.7,372.4 988,372.3 988.3,371.9 988.7,371 989,371.9 989.3,369.8 989.6,370.9 989.9,370.6 990.3,371.3 990.6,371.3 990.9,370.4 991.2,372.1 991.5,373.5 991.9,373.9 992.2,374.3 992.5,375.8 992.8,377.3 993.1,378.7 993.5,378.7 993.8,379.9 994.1,380 994.4,380.3 994.7,380.8 995.1,381.7 995.4,381.2 995.7,380.3 996,379.9 996.3,379.5 996.7,378.5 997,377.4 997.3,376.5 997.6,375.8 997.9,374.2 998.3,373.7 998.6,371.4 998.9,371.2 999.2,370.8 999.5,371 999.9,370.1 1000.2,370.5 1000.5,371.5 1000.8,371.9 1001.1,372.5 1001.5,373.6 1001.8,374.2 1002.1,376.1 1002.4,376.9 1002.7,378.1 1003.1,379.7 1003.4,380.1 1003.7,380.5 1004,381 1004.3,382.9 1004.7,382.5 1005,382.6 1005.3,383.5 1005.6,382.8 1005.9,381.9 1006.3,381.3 1006.6,380.9 1006.9,378.7 1007.2,377.5 1007.5,375.6 1007.9,374.5 1008.2,374.1 1008.5,372.6 1008.8,371.9 1009.1,371.6 1009.5,370.3 1009.8,370.8 1010.1,369.4 1010.4,369.3 1010.7,369.4 1011.1,369.5 1011.4,371.2 1011.7,371.8 1012,373.5 1012.3,373.5 1012.7,375.4 1013,377 1013.3,377.4 1013.6,378.5 1013.9,378.3 1014.3,381.4 1014.6,381.1 1014.9,382 1015.2,381.7 1015.5,382.3 1015.9,381.4 1016.2,381.9 1016.5,381 1016.8,380 1017.1,379.5 1017.5,377.3 1017.8,377.1 1018.1,375.6 1018.4,375.3 1018.7,373.9 1019.1,372.5 1019.4,371.6 1019.7,372.7 1020,370.2 1020.3,371.4 1020.7,370.8 1021,370.8 1021.3,369.6 1021.6,371.2 1021.9,370.9 1022.3,371.1 1022.6,372.4 1022.9,372.4 1023.2,373.8 1023.5,373.8 1023.9,375.5 1024.2,376.3 1024.5,376.6 1024.8,377.4 1025.1,378.4 1025.5,379.2 1025.8,379.7 1026.1,381.4 1026.4,380.8 1026.7,380.3 1027.1,380 1027.4,379.2 1027.7,379 1028,378 1028.3,376.7 1028.7,375.5 1029,374.5 1029.3,373.1 1029.6,372.6 1029.9,371.2 1030.3,371.2 1030.6,370.2 1030.9,370.3 1031.2,369.7 1031.5,369.2 1031.9,369.7 1032.2,370.6 1032.5,371.4 1032.8,371.9 1033.1,372.6 1033.5,373.4 1033.8,374 1034.1,375 1034.4,375.7 1034.7,377.2 1035.1,377.9 1035.4,379 1035.7,380.1 1036,381.9 1036.3,380.7 1036.7,381.5 1037,381.7 1037.3,381.9 1037.6,381.3 1037.9,381.5 1038.3,379 1038.6,379.6 1038.9,376.9 1039.2,375.8 1039.5,375.1 1039.9,373.6 1040.2,372.4 1040.5,371.3 1040.8,370.6 1041.1,370.1 1041.5,369.3 1041.8,368.1 1042.1,368.1 1042.4,369 1042.7,369.3 1043.1,369 1043.4,369.4 1043.7,369.6 1044,371.2 1044.3,370.8 1044.7,372.1 1045,373.3 1045.3,375.9 1045.6,376.4 1045.9,378.5 1046.3,379 1046.6,380.2 1046.9,382.5 1047.2,383.2 1047.5,383.9 1047.9,383.9 1048.2,383.7 1048.5,383.4 1048.8,382.7 1049.1,382.3 1049.5,382.2 1049.8,380.2 1050.1,378 1050.4,376.8 1050.7,374.5 1051.1,372.5 1051.4,371.3 1051.7,369.4 1052,367.7 1052.3,367.9 1052.7,367 1053,365.5 1053.3,365.6 1053.6,364.3 1053.9,364.5 1054.3,365.6 1054.6,366 1054.9,367.5 1055.2,367.4 1055.5,370.8 1055.9,372.6 1056.2,375 1056.5,376.4 1056.8,378.8 1057.1,381.3 1057.5,382.9 1057.8,384.2 1058.1,385 1058.4,385.3 1058.7,384.7 1059.1,383.7 1059.4,382.5 1059.7,381.3 1060,379.6 1060.3,377.9 1060.7,376.7 1061,373.8 1061.3,372.6 1061.6,371.2 1061.9,370.5 1062.3,369.5 1062.6,368 1062.9,366.9 1063.2,366.2 1063.5,366.7 1063.9,366.5 1064.2,366.2 1064.5,367 1064.8,367.8 1065.1,368.9 1065.5,369.2 1065.8,371.2 1066.1,372.4 1066.4,373 1066.7,374.6 1067.1,375.7 1067.4,377.2 1067.7,379.3 1068,381.1 1068.3,382.2 1068.7,382.5 1069,382.7 1069.3,382.5 1069.6,382.7 1069.9,381.5 1070.3,381.1 1070.6,379.6 1070.9,378.6 1071.2,376.9 1071.5,376.8 1071.9,375 1072.2,373 1072.5,371.2 1072.8,370.5 1073.1,369.4 1073.5,367.5 1073.8,367.4 1074.1,368.1 1074.4,367.4 1074.7,367.7 1075.1,369.1 1075.4,370.8 1075.7,370.8 1076,372 1076.3,373.3 1076.7,374.6 1077,376.3 1077.3,377 1077.6,376.7 1077.9,378.8 1078.3,379.4 1078.6,379.8 1078.9,379.8 1079.2,379.5 1079.5,379.5 1079.9,378.5 1080.2,377.4 1080.5,377.4 1080.8,376.2 1081.1,376.8 1081.5,375 1081.8,374.8 1082.1,372.4 1082.4,371.5 1082.7,371.4 1083.1,369.6 1083.4,369.6 1083.7,368.6 1084,369.6 1084.3,368.4 1084.7,369.3 1085,368.7 1085.3,370.2 1085.6,370.9 1085.9,371 1086.3,371.1 1086.6,372.5 1086.9,373.6 1087.2,374.5 1087.5,375.8 1087.9,377.1 1088.2,377.4 1088.5,378.1 1088.8,378.9 1089.1,380 1089.5,380.5 1089.8,380.8 1090.1,381.3 1090.4,381.8 1090.7,379.9 1091.1,379.2 1091.4,378.2 1091.7,376.7 1092,376.5 1092.3,374.7 1092.7,373.9 1093,371.6 1093.3,371.6 1093.6,370.3 1093.9,368.9 1094.3,369.5 1094.6,369.2 1094.9,368.8 1095.2,369.2 1095.5,368.9 1095.9,370.6 1096.2,370.8 1096.5,372.2 1096.8,373.3 1097.1,374.3 1097.5,374.8 1097.8,376.2 1098.1,377 1098.4,378.3 1098.7,378.1 1099.1,379.6 1099.4,379.9 1099.7,380 1100,381.2 1100.3,380.8 1100.7,380 1101,380.2 1101.3,379.3 1101.6,378.5 1101.9,378.1 1102.3,377.3 1102.6,377.5 1102.9,376.2 1103.2,373.7 1103.5,374.1 1103.9,373.2 1104.2,372.9 1104.5,372.6 1104.8,372.1 1105.1,372.1 1105.5,371.3 1105.8,372.4 1106.1,371.8 1106.4,372.7 1106.7,372.4 1107.1,373.2 1107.4,373.2 1107.7,375.1 1108,375.6 1108.3,376.2 1108.7,377.5 1109,378.4 1109.3,378 1109.6,378.8 1109.9,379 1110.3,380 1110.6,379.5 1110.9,378.8 1111.2,378.2 1111.5,377.9 1111.9,376.1 1112.2,376.3 1112.5,376.3 1112.8,373.9 1113.1,373 1113.5,372.2 1113.8,372.1 1114.1,370.7 1114.4,371.4 1114.7,369.8 1115.1,369.3 1115.4,368.9 1115.7,369.9 1116,370.2 1116.3,370.1 1116.7,371.1 1117,371.6 1117.3,371.9 1117.6,372.5 1117.9,373.2 1118.3,374.6 1118.6,375.3 1118.9,377.2 1119.2,377.6 1119.5,377.9 1119.9,378.3 1120.2,379.2 1120.5,379.8 1120.8,379.8 1121.1,380.4 1121.5,379.9 1121.8,380.5 1122.1,380.7 1122.4,380.5 1122.7,380.4 1123.1,380.4 1123.4,379.4 1123.7,379.3 1124,377.9 1124.3,377.6 1124.7,376.3 1125,375.5 1125.3,375.2 1125.6,374.9 1125.9,373.7 1126.3,373.4 1126.6,373.6 1126.9,372.3 1127.2,373.5 1127.5,371.3 1127.9,371.5 1128.2,375.7 1128.5,377.8 1128.8,380.6 1129.1,381.4 1129.5,386.2 1129.8,386.1 1130.1,384.7 1130.4,384 1130.7,380.6 1131.1,378.6 1131.4,376.7 1131.7,377.7 1132,377.2 1132.3,380.2 1132.7,380.4 1133,382.6 1133.3,388.3 1133.6,387.7 1133.9,392.2 1134.3,390.9 1134.6,392.8 1134.9,391 1135.2,392.5 1135.5,392.1 1135.9,390 1136.2,388 1136.5,385.8 1136.8,385.4 1137.1,385 1137.5,379.9 1137.8,376.1 1138.1,376 1138.4,371.8 1138.7,372.2 1139.1,373.6 1139.4,377.2 1139.7,380.6 1140,383.7 1140.3,383.2 1140.7,384.8 1141,384.9 1141.3,387.2 1141.6,385.9 1141.9,386.5 1142.3,384.9 1142.6,386.9 1142.9,388.6 1143.2,387.8 1143.5,389.1 1143.9,388.5 1144.2,388.9 1144.5,391.1 1144.8,390.3 1145.1,390.3 1145.5,391.7 1145.8,391.8 1146.1,393.5 1146.4,393.4 1146.7,391.3 1147.1,393.1 1147.4,390.9 1147.7,392 1148,391.8 1148.3,390.1 1148.7,389.3 1149,389.8 1149.3,388 1149.6,386.3 1149.9,388.4 1150.3,387.1 1150.6,386.3 1150.9,386.4 1151.2,390.7 1151.5,394.5 1151.9,397 1152.2,395.6 1152.5,393.3 1152.8,393.6 1153.1,391.1 1153.5,388.4 1153.8,387 1154.1,383.4 1154.4,382.6 1154.7,381.5 1155.1,382.6 1155.4,381.5 1155.7,381 1156,379.3 1156.3,379.5 1156.7,376.3 1157,374.9 1157.3,373.6 1157.6,373.2 1157.9,370.4 1158.3,368.2 1158.6,366.7 1158.9,365.9 1159.2,363.4 1159.5,366.4 1159.9,373 1160.2,383.5 1160.5,390.3 1160.8,394 1161.1,397.1 1161.5,397.8 1161.8,396.3 1162.1,393.7 1162.4,396.1 1162.7,392.9 1163.1,388.9 1163.4,385.6 1163.7,383.2 1164,380.6 1164.3,376.6 1164.7,378.7 1165,380.1 1165.3,384.8 1165.6,389.6 1165.9,392.9 1166.3,393.4 1166.6,392.5 1166.9,392.8 1167.2,391.4 1167.5,392.6 1167.9,391 1168.2,391.7 1168.5,390.7 1168.8,388.7 1169.1,391.3 1169.5,390 1169.8,389.3 1170.1,388.8 1170.4,390.8 1170.7,388.6 1171.1,389.8 1171.4,389.1 1171.7,387.5 1172,389.6 1172.3,387.4 1172.7,389.4 1173,389.3 1173.3,389.1 1173.6,388 1173.9,389.9 1174.3,389.9 1174.6,386.3 1174.9,385.4 1175.2,385.6 1175.5,381.5 1175.9,380.8 1176.2,376.7 1176.5,375.1 1176.8,374.3 1177.1,373.1 1177.5,370.2 1177.8,370.2 1178.1,371.7 1178.4,372.6 1178.7,372.1 1179.1,372.5 1179.4,373.1 1179.7,372.1 1180,374.1 1180.3,375 1180.7,375.4 1181,375.1 1181.3,375.7 1181.6,377.2 1181.9,376.3 1182.3,376.7 1182.6,378.2 1182.9,377.1 1183.2,377.4 1183.5,378.3 1183.9,378.6 1184.2,378.4 1184.5,378.1 1184.8,378.8 1185.1,379.5 1185.5,379.2 1185.8,379.3 1186.1,380.5 1186.4,380.2 1186.7,380.3 1187.1,380.3 1187.4,379.3 1187.7,379.8 1188,380 1188.3,379.4 1188.7,378.1 1189,377.5 1189.3,377.4 1189.6,377.5 1189.9,376.7 1190.3,376.5 1190.6,375.3 1190.9,376.2 1191.2,375.4 1191.5,376.4 1191.9,376 1192.2,374.7 1192.5,376.3 1192.8,376 1193.1,376 1193.5,376.3 1193.8,376.9 1194.1,376.7 1194.4,377 1194.7,376.4 1195.1,375.6 1195.4,376.3 1195.7,376.1 1196,376.2 1196.3,377.9 1196.7,376.9 1197,376 1197.3,377 1197.6,376.2 1197.9,375.7 1198.3,377 1198.6,376.3 1198.9,376.7 1199.2,377.8 1199.5,376.2 1199.9,377.2 1200.2,376.5 1200.5,376.2 1200.8,376.7 1201.1,377 1201.5,377.1 1201.8,376.3 1202.1,377.6 1202.4,376.9 1202.7,377.8 1203.1,378 1203.4,377.8 1203.7,378.5 1204,378 1204.3,377.9 1204.7,377.7 1205,377.3 1205.3,377.7 1205.6,376.7 1205.9,377.3 1206.3,377.1 1206.6,378.1 1206.9,376.7 1207.2,378 1207.5,377.7 1207.9,377.9 1208.2,377.5 1208.5,377.5 1208.8,377.8 1209.1,378 1209.5,378.2 1209.8,377.5 1210.1,378.4 1210.4,378.4 1210.7,376.2 1211.1,377.3 1211.4,377 1211.7,376.4 1212,375.3 1212.3,375.5 1212.7,375.9 1213,375.9 1213.3,375.4 1213.6,375.1 1213.9,374.5 1214.3,374.9 1214.6,374.7 1214.9,375.2 1215.2,374.8 1215.5,374.9 1215.9,374.8 1216.2,376.6 1216.5,375.7 1216.8,375.6 1217.1,375.1 1217.5,376.4 1217.8,375.5 1218.1,376.2 1218.4,376.3 1218.7,377 1219.1,376 1219.4,375.5 1219.7,377 1220,376.6 1220.3,376 1220.7,376.1 1221,376.9 1221.3,375.7 1221.6,375.1 1221.9,375.1 1222.3,375.2 1222.6,374.9 1222.9,374.7 1223.2,374.5 1223.5,373.6 1223.9,374.2 1224.2,374.1 1224.5,373.6 1224.8,373 1225.1,372.9 1225.5,373.1 1225.8,373.2 1226.1,372.6 1226.4,373.6 1226.7,374.7 1227.1,374.3 1227.4,374.6 1227.7,375.7 1228,375.9 1228.3,376 1228.7,377 1229,378.4 1229.3,379.1 1229.6,378.8 1229.9,379.1 1230.3,380.1 1230.6,379.8 1230.9,379.8 1231.2,379.2 1231.5,378.2 1231.9,377.7 1232.2,377.9 1232.5,376.8 1232.8,377 1233.1,376.4 1233.5,375.9 1233.8,374.4 1234.1,374.7 1234.4,373.7 1234.7,372.7 1235.1,372.4 1235.4,371.4 1235.7,369.8 1236,371.9 1236.3,371.6 1236.7,372.4 1237,372.1 1237.3,372.1 1237.6,372.4 1237.9,372.9 1238.3,373.9 1238.6,373.7 1238.9,374.8 1239.2,376.7 1239.5,376.2 1239.9,377.3 1240.2,378.6 1240.5,379.5 1240.8,380.3 1241.1,381 1241.5,380.8 1241.8,380.7 1242.1,379.5 1242.4,378.9 1242.7,377.5 1243.1,376.6 1243.4,375.7 1243.7,374.5 1244,372.2 1244.3,371.7 1244.7,372.6 1245,370.1 1245.3,370.9 1245.6,370.1 1245.9,370.5 1246.3,370.4 1246.6,370.9 1246.9,370.6 1247.2,372.1 1247.5,373.2 1247.9,371.5 1248.2,373.1 1248.5,373.6 1248.8,375.3 1249.1,376.8 1249.5,377.7 1249.8,378.4 1250.1,378.5 1250.4,378.6 1250.7,379.8 1251.1,379.1 1251.4,379.1 1251.7,379.4 1252,378.5 1252.3,378.7 1252.7,377.9 1253,378 1253.3,378 1253.6,376.7 1253.9,376.7 1254.3,376.4 1254.6,374.9 1254.9,374.7 1255.2,374 1255.5,374.5 1255.9,372.7 1256.2,372.6 1256.5,371.5 1256.8,371.5 1257.1,372.2 1257.5,371.7 1257.8,372.4 1258.1,372.4 1258.4,374 1258.7,373 1259.1,374.2 1259.4,374 1259.7,374.9 1260,375.2 1260.3,378.1 1260.7,376.7 1261,378.7 1261.3,379.3 1261.6,380.7 1261.9,380.7 1262.3,382.4 1262.6,382.3 1262.9,382.1 1263.2,381.9 1263.5,381.7 1263.9,380.7 1264.2,380.5 1264.5,379.2 1264.8,377.7 1265.1,376.8 1265.5,375.6 1265.8,375.1 1266.1,373.4 1266.4,372.7 1266.7,371.4 1267.1,371.9 1267.4,371.5 1267.7,371.1 1268,372.5 1268.3,372.2 1268.7,372.3 1269,374.2 1269.3,374.4 1269.6,373.7 1269.9,376.1 1270.3,376.6 1270.6,377.3 1270.9,377.7 1271.2,378 1271.5,379.1 1271.9,378.8 1272.2,380 1272.5,380.9 1272.8,381.2 1273.1,380.5 1273.5,381.5 1273.8,380.1 1274.1,379 1274.4,378.3 1274.7,376.8 1275.1,376.5 1275.4,374.4 1275.7,373.4 1276,372 1276.3,371.3 1276.7,370.7 1277,371.2 1277.3,370.1 1277.6,370.5 1277.9,370.1 1278.3,370.8 1278.6,370.3 1278.9,370.9 1279.2,373.1 1279.5,373.2 1279.9,373.2 1280.2,375.4 1280.5,376 1280.8,377 1281.1,378.5 1281.5,378.3 1281.8,380.1 1282.1,380.1 1282.4,379.9 1282.7,379.3 1283.1,380.5 1283.4,378.9 1283.7,377.7 1284,377.6 1284.3,377.2 1284.7,376.6 1285,376.4 1285.3,375.3 1285.6,374.5 1285.9,375.3 1286.3,375 1286.6,373.3 1286.9,374.3 1287.2,373.6 1287.5,374.8 1287.9,373.7 1288.2,374.5 1288.5,375.3 1288.8,375 1289.1,375.7 1289.5,375.2 1289.8,375.4 1290.1,375.8 1290.4,377.1 1290.7,376.6 1291.1,377.8 1291.4,376.9 1291.7,377.7 1292,377.1 1292.3,376.3 1292.7,376.8 1293,376.9 1293.3,376.9 1293.6,376.5 1293.9,376.9 1294.3,376.5 1294.6,376.2 1294.9,374.9 1295.2,373.7 1295.5,374.6 1295.9,373.4 1296.2,373.1 1296.5,372.9 1296.8,372.7 1297.1,371.3 1297.5,371.7 1297.8,372 1298.1,370.1 1298.4,370.3 1298.7,370.9 1299.1,370.5 1299.4,370.3 1299.7,370.2 1300,369.7 1300.3,370.9 1300.7,370.9 1301,372.1 1301.3,372.3 1301.6,372.7 1301.9,374 1302.3,375.3 1302.6,375.3 1302.9,376.4 1303.2,377.5 1303.5,378.1 1303.9,377.9 1304.2,378.9 1304.5,379.7 1304.8,379.8 1305.1,380.6 1305.5,379.6 1305.8,378.3 1306.1,378.3 1306.4,377.7 1306.7,376.5 1307.1,375.5 1307.4,373.6 1307.7,373.3 1308,372.7 1308.3,371.4 1308.7,370.8 1309,370.6 1309.3,369.6 1309.6,369.3 1309.9,369.7 1310.3,370 1310.6,371 1310.9,371.3 1311.2,371.8 1311.5,373.7 1311.9,374.1 1312.2,376 1312.5,376.5 1312.8,378.2 1313.1,379.1 1313.5,379.7 1313.8,380 1314.1,381.1 1314.4,382.5 1314.7,382.2 1315.1,382.6 1315.4,381.7 1315.7,381.1 1316,379.9 1316.3,379.5 1316.7,377.7 1317,376.4 1317.3,375.9 1317.6,373.6 1317.9,373.9 1318.3,371.6 1318.6,370.3 1318.9,370.4 1319.2,368.5 1319.5,368.5 1319.9,368.2 1320.2,368.6 1320.5,369.3 1320.8,369.1 1321.1,368.9 1321.5,369.7 1321.8,371.1 1322.1,372.7 1322.4,373.3 1322.7,374.4 1323.1,375.1 1323.4,377 1323.7,376.9 1324,379.7 1324.3,380.6 1324.7,381.6 1325,382.4 1325.3,383.2 1325.6,384 1325.9,384.1 1326.3,384.1 1326.6,383.4 1326.9,383.4 1327.2,382.1 1327.5,381 1327.9,378.9 1328.2,377 1328.5,375.4 1328.8,374.2 1329.1,371.6 1329.5,370.7 1329.8,368.2 1330.1,367 1330.4,366.2 1330.7,364.6 1331.1,363.6 1331.4,365 1331.7,364.6 1332,364.8 1332.3,366.8 1332.7,368.1 1333,368.4 1333.3,370 1333.6,372.7 1333.9,372.8 1334.3,375.5 1334.6,377.1 1334.9,377.8 1335.2,378.9 1335.5,380.1 1335.9,381.3 1336.2,381.9 1336.5,383.2 1336.8,381.3 1337.1,381.5 1337.5,380.5 1337.8,380.6 1338.1,379.5 1338.4,377.6 1338.7,377 1339.1,375.9 1339.4,374.9 1339.7,373.2 1340,371.7 1340.3,369.8 1340.7,368.4 1341,366.7 1341.3,365.8 1341.6,364.5 1341.9,363 1342.3,362.9 1342.6,362.3 1342.9,362.8 1343.2,363.7 1343.5,364.4 1343.9,365.6 1344.2,366.9 1344.5,369.7 1344.8,370.8 1345.1,372.2 1345.5,374.4 1345.8,377 1346.1,379.2 1346.4,380.4 1346.7,380.9 1347.1,382.5 1347.4,381.8 1347.7,383.2 1348,382.4 1348.3,382 1348.7,380.4 1349,380 1349.3,377.9 1349.6,376.3 1349.9,376.4 1350.3,373.5 1350.6,373 1350.9,370.7 1351.2,369.5 1351.5,368.1 1351.9,367.4 1352.2,365.9 1352.5,364.2 1352.8,363.5 1353.1,363.9 1353.5,363.7 1353.8,362.9 1354.1,364.3 1354.4,364.9 1354.7,366.8 1355.1,367.4 1355.4,370.2 1355.7,371.5 1356,373.2 1356.3,376 1356.7,377.6 1357,378.1 1357.3,378.9 1357.6,381 1357.9,382 1358.3,381.9 1358.6,382.3 1358.9,381.7 1359.2,381 1359.5,380.5 1359.9,379.7 1360.2,377.9 1360.5,376 1360.8,374.1 1361.1,372.9 1361.5,370 1361.8,369.5 1362.1,367.9 1362.4,366.6 1362.7,365.3 1363.1,364.5 1363.4,363.3 1363.7,364.1 1364,363.6 1364.3,364" fill="none" stroke="#3A53A4" stroke-width="1.12" stroke-linejoin="round"/>
<path d="M79.8,687.9 90.8,694.3 105.7,694.8 116.4,700.7 129.2,700.3 142,695.4 154.8,700.3 178.2,702.4 193.1,694.8 205.9,699.7 216.6,703.3 229.4,701.8 243.9,686.4 255,685.4 267.5,687.7 280,687 292.6,675.6 305.1,686.4 317.6,685 330.1,655.8 348.2,648.8 355.1,648.8 367.6,665.1 380,616.8 392.5,593.9 405,625.2 416.1,638.4 421.7,649.5 428.7,683.6 441.2,680.8 453.7,682.9 466.2,665.5 480.1,685 488.4,685.7 502.3,689.8 514.5,691.8 540,696 555,696.5 580.6,702.4 604,697.5 618.9,698.6 631.7,702.9 653.1,700.7 668,703.9 679.5,703.3" fill="none" stroke="#ED1C24" stroke-width="1.05" stroke-linejoin="round"/>
<path d="M79.8,688 80.5,688.1 81.2,688.8 81.9,689.1 82.6,689.5 83.3,689.2 84,690.3 84.7,691.4 85.4,690.9 86.1,691.7 86.8,692.2 87.5,693.1 88.2,694.2 88.9,696 89.6,696.5 90.3,698.3 91,698.7 91.7,700.2 92.4,700.9 93.1,701.4 93.8,701.9 94.5,702 95.2,700.9 95.9,699.7 96.6,697.9 97.3,696.2 98,694.2 98.7,692.5 99.4,690.5 100.1,689 100.8,688.1 101.5,687.8 102.2,688.1 102.9,687.8 103.6,688.4 104.3,688.5 105,689 105.7,688.9 106.4,689.3 107.1,689.3 107.8,689.4 108.5,689.4 109.2,689.7 109.9,689.7 110.6,689.4 111.3,689.4 112,688.9 112.7,689.7 113.4,689.6 114.1,689 114.8,688.7 115.5,689.2 116.2,689.3 116.9,689.3 117.6,690.4 118.3,693 119,695.2 119.7,697.6 120.4,699.9 121.1,700.7 121.8,701.2 122.5,701.5 123.2,700.5 123.9,700 124.6,697.3 125.3,696.2 126,695.3 126.7,693.7 127.4,691.7 128.1,690.3 128.8,689 129.5,688.4 130.2,686.9 130.9,686.9 131.6,686.6 132.3,686 133,687 133.7,687.6 134.4,687.1 135.1,687.5 135.8,687.5 136.5,687.6 137.2,687.4 137.9,688.1 138.6,687.9 139.3,688.6 140,689.3 140.7,689.7 141.4,689.8 142.1,690.6 142.8,692.1 143.5,695.8 144.2,698.8 144.9,703 145.6,704.1 146.3,703.7 147,703.2 147.7,700.8 148.4,699.5 149.1,696.6 149.8,694.6 150.5,692.3 151.2,690.4 151.9,689.3 152.6,689 153.3,688.9 154,689.6 154.7,689.1 155.4,688.3 156.1,688.9 156.8,689.1 157.5,689.3 158.2,689.5 158.9,689 159.6,689.5 160.3,689.3 161,689.7 161.7,689.7 162.4,690.3 163.1,690.3 163.8,690.6 164.5,690.2 165.2,690.6 165.9,691.2 166.6,691.6 167.3,692.1 168,693.1 168.7,694.2 169.4,694.3 170.1,695.4 170.8,695.1 171.5,696.8 172.2,697.4 172.9,697.6 173.6,698.2 174.3,699.4 175,699.6 175.7,700.9 176.4,701 177.1,702.5 177.8,702.3 178.5,702.1 179.2,701.1 179.9,701.1 180.6,699.5 181.3,698.3 182,698 182.7,697.1 183.4,698.2 184.1,699 184.8,699.5 185.5,701.1 186.2,702.4 186.9,702.7 187.6,703.6 188.3,704.4 189,704.4 189.7,703.6 190.4,701.4 191.1,699.7 191.8,698 192.5,694.9 193.2,692.2 193.9,690.4 194.6,688.2 195.3,688.6 196,687 196.7,687.2 197.4,687.1 198.1,686.9 198.8,686.1 199.5,686.1 200.2,686.2 200.9,685.8 201.6,685.8 202.3,685.4 203,685.3 203.7,684.8 204.4,684.5 205.1,684.8 205.8,684.4 206.5,685.4 207.2,685.1 207.9,685.3 208.6,684.1 209.3,684.3 210,685.5 210.7,685.5 211.4,685.9 212.1,686.8 212.8,686.2 213.5,686.6 214.2,687.4 214.9,689.8 215.6,689.1 216.3,689.3 217,691.4 217.7,692.1 218.4,693.3 219.1,694.5 219.8,695.2 220.5,697.7 221.2,697.8 221.9,696.6 222.6,696.1 223.3,695.1 224,694.2 224.7,690.8 225.4,688.8 226.1,686.8 226.8,686.1 227.5,686.9 228.2,686.1 228.9,687.5 229.6,689.8 230.3,686.7 231,685.1 231.7,679.9 232.4,674.4 233.1,671.9 233.8,672.7 234.5,673.4 235.2,676.9 235.9,680.2 236.6,678.8 237.3,678.4 238,677.8 238.7,678.6 239.4,683 240.1,688.2 240.8,688.5 241.5,688.9 242.2,687.1 242.9,686.1 243.6,684.3 244.3,682 245,681.5 245.7,678.6 246.4,677.7 247.1,676.7 247.8,676 248.5,676.4 249.2,676.5 249.9,677.1 250.6,679.5 251.3,679.4 252,677.8 252.7,674.4 253.4,671.2 254.1,671.4 254.8,668.5 255.5,667.5 256.2,666.9 256.9,665.8 257.6,666.1 258.3,668.4 259,672.6 259.7,676.3 260.4,679.5 261.1,678.5 261.8,674 262.5,669.8 263.2,664.8 263.9,661.3 264.6,657.6 265.3,657.7 266,657.3 266.7,657.8 267.4,664.1 268.1,665.7 268.8,667.7 269.5,671.7 270.2,669.6 270.9,666.9 271.6,661.4 272.3,661.6 273,668.7 273.7,673.6 274.4,674.8 275.1,671.9 275.8,666.5 276.5,661.3 277.2,668 277.9,679.8 278.6,674.7 279.3,665.9 280,659.5 280.7,663.6 281.4,670.2 282.1,677 282.8,680.5 283.5,680.6 284.2,674.8 284.9,666.8 285.6,662.1 286.3,660 287,660.8 287.7,658.9 288.4,664.2 289.1,668.3 289.8,671.5 290.5,671.6 291.2,672.3 291.9,673.4 292.6,670.9 293.3,670.9 294,668.2 294.7,663.1 295.4,660.2 296.1,659.6 296.8,656.3 297.5,655.3 298.2,654.3 298.9,659.6 299.6,663.7 300.3,662 301,657.8 301.7,654 302.4,649.4 303.1,651.5 303.8,652 304.5,659.5 305.2,663.7 305.9,666.1 306.6,660.5 307.3,656.4 308,654.1 308.7,658.4 309.4,662.1 310.1,662.5 310.8,660.5 311.5,658 312.2,652.6 312.9,649.5 313.6,646.4 314.3,644 315,642.7 315.7,639.7 316.4,638.8 317.1,633.7 317.8,627.8 318.5,624.3 319.2,621.7 319.9,621.3 320.6,621.1 321.3,620.6 322,622.5 322.7,623 323.4,627 324.1,628.8 324.8,628 325.5,628.5 326.2,628.8 326.9,627 327.6,628.6 328.3,635.9 329,637.9 329.7,636.3 330.4,631.2 331.1,628.9 331.8,629.1 332.5,628.4 333.2,633.5 333.9,637.1 334.6,639.8 335.3,640.9 336,643 336.7,648.6 337.4,655.1 338.1,662.8 338.8,661.6 339.5,653.2 340.2,653.1 340.9,657.6 341.6,658.4 342.3,649.2 343,639.4 343.7,642.6 344.4,647.8 345.1,652.8 345.8,651.3 346.5,650.9 347.2,649.8 347.9,650.9 348.6,654.7 349.3,665.1 350,660.7 350.7,652.9 351.4,650.3 352.1,647.4 352.8,642.5 353.5,643.6 354.2,650.7 354.9,660 355.6,669.6 356.3,664 357,646.6 357.7,645 358.4,650.7 359.1,654.5 359.8,656.7 360.5,657.2 361.2,656.2 361.9,652.7 362.6,649.5 363.3,647.8 364,649 364.7,652.7 365.4,655.8 366.1,656.6 366.8,653.1 367.5,652.6 368.2,649.1 368.9,650.2 369.6,651.3 370.3,651.1 371,654.4 371.7,652.9 372.4,654.4 373.1,650.7 373.8,648.8 374.5,646.5 375.2,646.8 375.9,645.5 376.6,646.2 377.3,644.8 378,644.7 378.7,644 379.4,644.4 380.1,643.6 380.8,645.6 381.5,647.2 382.2,649 382.9,644 383.6,641.1 384.3,642.7 385,643.8 385.7,648.2 386.4,650.1 387.1,646.8 387.8,642.4 388.5,641.9 389.2,639.1 389.9,638.3 390.6,639.2 391.3,640.4 392,642.1 392.7,645.5 393.4,652.6 394.1,657 394.8,660.6 395.5,663.3 396.2,665.2 396.9,664.5 397.6,666.2 398.3,666.8 399,666.1 399.7,665.1 400.4,665.3 401.1,663 401.8,658.6 402.5,652.2 403.2,651.7 403.9,657.3 404.6,657.1 405.3,641.7 406,636.6 406.7,652.3 407.4,665.9 408.1,667.1 408.8,656.8 409.5,645.1 410.2,643.1 410.9,655.9 411.6,669.5 412.3,670 413,654.9 413.7,646.9 414.4,642.1 415.1,638.8 415.8,638.9 416.5,638.7 417.2,639.1 417.9,642.4 418.6,646.6 419.3,659.6 420,668.6 420.7,666.8 421.4,653.1 422.1,640.4 422.8,641.5 423.5,653 424.2,662.1 424.9,659.4 425.6,650.2 426.3,647.1 427,647.8 427.7,648.7 428.4,645.4 429.1,635.2 429.8,632.4 430.5,633 431.2,643.6 431.9,654.7 432.6,668.6 433.3,676.4 434,678.1 434.7,670 435.4,665.1 436.1,666.6 436.8,670.3 437.5,673.3 438.2,675.5 438.9,678.5 439.6,678.8 440.3,680.5 441,681.2 441.7,678.8 442.4,677.7 443.1,677.1 443.8,674.3 444.5,673.1 445.2,665.2 445.9,650.6 446.6,634.4 447.3,636.8 448,641.2 448.7,646.9 449.4,649.1 450.1,653.6 450.8,654.6 451.5,655.1 452.2,655.4 452.9,657.5 453.6,658.9 454.3,664.8 455,667.7 455.7,666.5 456.4,661.3 457.1,656.2 457.8,654.8 458.5,657.7 459.2,662.3 459.9,666.2 460.6,665.2 461.3,659.4 462,660.6 462.7,662.2 463.4,666.3 464.1,672.3 464.8,672.8 465.5,676.3 466.2,677.8 466.9,678.9 467.6,679.2 468.3,678.4 469,673 469.7,667.5 470.4,665 471.1,667.3 471.8,671.7 472.5,676 473.2,677.3 473.9,676.8 474.6,674.6 475.3,673.4 476,673.6 476.7,674.8 477.4,677.9 478.1,681.3 478.8,683.3 479.5,681.9 480.2,681 480.9,682.8 481.6,680 482.3,681.5 483,684.7 483.7,687.3 484.4,686.6 485.1,684 485.8,688.8 486.5,684.5 487.2,684.2 487.9,684 488.6,685.9 489.3,683.1 490,680.5 490.7,685.4 491.4,681.4 492.1,686.3 492.8,681.3 493.5,685 494.2,685.9 494.9,686.3 495.6,688.4 496.3,690.9 497,690.1 497.7,690.7 498.4,690 499.1,690.1 499.8,689.1 500.5,689.8 501.2,691 501.9,691.2 502.6,688.4 503.3,688.9 504,689.5 504.7,688.7 505.4,687.2 506.1,685 506.8,687.2 507.5,685.2 508.2,687.8 508.9,685.5 509.6,683.1 510.3,679.4 511,678.8 511.7,680.2 512.4,677.9 513.1,679.9 513.8,682.9 514.5,685.5 515.2,686.5 515.9,688.9 516.6,686.4 517.3,688.2 518,687.6 518.7,689.3 519.4,687.2 520.1,683.2 520.8,686.8 521.5,687.6 522.2,685.2 522.9,686.4 523.6,689.2 524.3,689.2 525,690.8 525.7,693 526.4,690.6 527.1,695.5 527.8,698.3 528.5,699.7 529.2,698.6 529.9,701.2 530.6,701.7 531.3,702 532,703.9 532.7,701.3 533.4,701.4 534.1,701.4 534.8,698.5 535.5,698.3 536.2,695.9 536.9,695.8 537.6,694.5 538.3,694.3 539,692.3 539.7,692 540.4,690.2 541.1,691.1 541.8,690.5 542.5,690 543.2,690.9 543.9,691.2 544.6,691 545.3,692.2 546,690.2 546.7,689.8 547.4,688.2 548.1,691.7 548.8,691.2 549.5,691 550.2,689.4 550.9,689.5 551.6,689.5 552.3,688.7 553,690.5 553.7,689.9 554.4,691.4 555.1,690.2 555.8,689.9 556.5,691 557.2,691.3 557.9,689.6 558.6,689.4 559.3,690.2 560,692.8 560.7,692.7 561.4,693.6 562.1,692.4 562.8,692.8 563.5,692.1 564.2,694.7 564.9,693.5 565.6,694.5 566.3,693.4 567,692.1 567.7,694.1 568.4,691.5 569.1,694 569.8,693.1 570.5,693.7 571.2,692.1 571.9,693.5 572.6,692.8 573.3,692.6 574,695 574.7,694.2 575.4,693.3 576.1,693.1 576.8,693.4 577.5,694.1 578.2,694.3 578.9,694.2 579.6,692.4 580.3,694.3 581,694.6 581.7,695.3 582.4,694.7 583.1,694.7 583.8,695.2 584.5,694.8 585.2,697.7 585.9,695 586.6,695.1 587.3,696.6 588,696.9 588.7,697.6 589.4,697.1 590.1,697.1 590.8,697.2 591.5,698.2 592.2,698.7 592.9,698.7 593.6,698.1 594.3,698.3 595,700.5 595.7,700 596.4,700.1 597.1,701.8 597.8,701.4 598.5,699.9 599.2,700.9 599.9,702 600.6,701.9 601.3,701.8 602,702.9 602.7,700.7 603.4,702.4 604.1,701.4 604.8,702.7 605.5,701.6 606.2,700.3 606.9,701.6 607.6,699.3 608.3,701.8 609,701 609.7,701.4 610.4,700.4 611.1,700.1 611.8,700.8 612.5,700 613.2,698 613.9,698.5 614.6,699.8 615.3,697.5 616,697.2 616.7,697.3 617.4,696.5 618.1,697.4 618.8,696.9 619.5,697.5 620.2,696.3 620.9,697.4 621.6,695.7 622.3,696.3 623,696.3 623.7,695.5 624.4,694.8 625.1,693.8 625.8,693.8 626.5,694.9 627.2,694.1 627.9,694.8 628.6,693.8 629.3,694.4 630,694.6 630.7,695.2 631.4,694.8 632.1,695.9 632.8,694.6 633.5,695.3 634.2,696.7 634.9,697 635.6,697.9 636.3,696.9 637,698.7 637.7,697.8 638.4,700.3 639.1,699.3 639.8,699.8 640.5,700.8 641.2,700.8 641.9,700.3 642.6,700.6 643.3,701.5 644,699 644.7,699.7 645.4,696.9 646.1,694.9 646.8,694.9 647.5,692.6 648.2,690.2 648.9,688.9 649.6,686.1 650.3,683.9 651,682.8 651.7,680.9 652.4,678.8 653.1,678.8 653.8,677.4 654.5,677.6 655.2,678.6 655.9,676.2 656.6,679.1 657.3,681.3 658,682.6 658.7,685.4 659.4,684.2 660.1,685 660.8,686.1 661.5,684.3 662.2,684.4 662.9,684.2 663.6,683 664.3,682.8 665,683 665.7,682.3 666.4,681.8 667.1,682.5 667.8,681.4 668.5,682.5 669.2,684.2 669.9,686.4 670.6,690.3 671.3,694.9 672,697 672.7,700.2 673.4,701.1 674.1,700.1 674.8,699.6 675.5,701.4 676.2,701.8 676.9,700.9 677.6,701.8 678.3,701.1 679,700.4" fill="none" stroke="#3A53A4" stroke-width="1.15" stroke-linejoin="round"/>
<path d="M765.3,688.3 777,694.3 790.9,694.3 801.7,700.1 814.6,700.1 827.5,695.2 840.4,700.1 864,702.3 876.9,694.3 892,700.1 900.6,702.3 913.5,702.3 915,698.7 927.1,685.5 937.2,685.1 951.4,688 964.5,687.2 976.7,675.4 989.8,685.9 1001.9,685.1 1014,657.2 1028.2,649.2 1039.3,648.1 1052.5,665.3 1060,637.2 1076.2,594.7 1089.4,626 1102.5,639.2 1114.7,684.7 1126.8,680.7 1141,682.7 1152.1,665.5 1165.1,685.7 1175.8,685.7 1189.8,690 1213.4,692.2 1226.3,696.5 1239.2,696.5 1265,702.3 1288.7,697.5 1301.6,698.6 1314.5,702.5 1325.2,700.8 1342.4,700.8 1353.1,703.3 1364.4,701.2" fill="none" stroke="#ED1C24" stroke-width="1.05" stroke-linejoin="round"/>
<path d="M765.3,697.1 766,698 766.7,698.8 767.4,700.2 768.1,700.9 768.8,701.6 769.5,701.5 770.2,702.7 770.9,703.6 771.6,703 772.3,703.6 773,703.7 773.7,704 774.4,704.2 775.1,704.4 775.8,704.3 776.5,704.4 777.2,704.1 777.9,704.3 778.6,703.5 779.3,702.4 780,701.5 780.7,700.6 781.4,698.9 782.1,697.6 782.8,696.1 783.5,694.9 784.2,693.7 784.9,692.9 785.6,691.9 786.3,691.4 787,691.4 787.7,691.5 788.4,692 789.1,691.9 789.8,692.7 790.5,692.9 791.2,693.7 791.9,693.8 792.6,694.6 793.3,695 794,695.5 794.7,695.9 795.4,696.8 796.1,697.6 796.8,698.6 797.5,700 798.2,701 798.9,703.2 799.6,704.2 800.3,704.2 801,704 801.7,704.4 802.4,704.2 803.1,703.4 803.8,702.6 804.5,702.5 805.2,701.6 805.9,700.9 806.6,700.3 807.3,698.9 808,698.2 808.7,698 809.4,697 810.1,696.9 810.8,694.9 811.5,694.9 812.2,695.4 812.9,695.4 813.6,695 814.3,695.3 815,695.6 815.7,696.4 816.4,696.3 817.1,697.2 817.8,697.5 818.5,697.4 819.2,699 819.9,700.1 820.6,700.1 821.3,701 822,701.3 822.7,701.8 823.4,701.9 824.1,702.8 824.8,702.6 825.5,703.4 826.2,703.8 826.9,704 827.6,703.7 828.3,703.8 829,703.2 829.7,703.3 830.4,702.1 831.1,702.5 831.8,701.1 832.5,700 833.2,699.6 833.9,697.9 834.6,697.7 835.3,696.3 836,695.7 836.7,694.8 837.4,694.2 838.1,693.8 838.8,693.8 839.5,693.6 840.2,694.5 840.9,694.5 841.6,694.4 842.3,695.9 843,697.1 843.7,698.4 844.4,699.7 845.1,700.2 845.8,701.8 846.5,702.4 847.2,703.5 847.9,704 848.6,704.4 849.3,704.4 850,704.4 850.7,703.5 851.4,703 852.1,702.5 852.8,701.4 853.5,700.5 854.2,699.9 854.9,699.5 855.6,698 856.3,697.5 857,695.9 857.7,696.3 858.4,695.8 859.1,694.9 859.8,694.6 860.5,695.1 861.2,694.8 861.9,695.9 862.6,695.9 863.3,697.6 864,697.8 864.7,698.1 865.4,698.1 866.1,699.6 866.8,699.6 867.5,699.8 868.2,700.7 868.9,700.4 869.6,701.5 870.3,702 871,701.9 871.7,702.7 872.4,703.1 873.1,702.7 873.8,703 874.5,703.8 875.2,704 875.9,703.7 876.6,703.2 877.3,703.8 878,704.4 878.7,704.3 879.4,704.1 880.1,704.4 880.8,703.4 881.5,704.2 882.2,702.4 882.9,702.2 883.6,701.7 884.3,701 885,699.7 885.7,699.1 886.4,698.7 887.1,697.6 887.8,697 888.5,696.2 889.2,695.6 889.9,694.8 890.6,694.3 891.3,694.3 892,694 892.7,694.8 893.4,694.7 894.1,694.9 894.8,694.3 895.5,694.5 896.2,695.4 896.9,695.9 897.6,697.6 898.3,699.9 899,701.5 899.7,703.1 900.4,704.1 901.1,704.4 901.8,703.3 902.5,701.7 903.2,701.1 903.9,699.7 904.6,699.1 905.3,698.9 906,698.6 906.7,699.5 907.4,699.1 908.1,698.2 908.8,698.2 909.5,698.5 910.2,699.4 910.9,698.6 911.6,698.8 912.3,698.8 913,699.1 913.7,699.7 914.4,697.2 915.1,695.3 915.8,692.8 916.5,686.3 917.2,685.5 917.9,684.3 918.6,683.4 919.3,683.6 920,684 920.7,681.8 921.4,681.2 922.1,681.1 922.8,679.1 923.5,679.3 924.2,679.8 924.9,681.2 925.6,683.1 926.3,687 927,687.8 927.7,688.2 928.4,674.2 929.1,663.7 929.8,671.1 930.5,672.8 931.2,671 931.9,669.6 932.6,674.2 933.3,679.8 934,683.3 934.7,683.6 935.4,682.2 936.1,680.7 936.8,681.1 937.5,680.2 938.2,679.4 938.9,677.2 939.6,675.3 940.3,677 941,676.6 941.7,677.3 942.4,677.5 943.1,673.4 943.8,668.9 944.5,668.4 945.2,671.1 945.9,673.1 946.6,674 947.3,673 948,671.5 948.7,671.4 949.4,669.2 950.1,666.7 950.8,664 951.5,664.2 952.2,662.2 952.9,659.5 953.6,662.4 954.3,662.6 955,663.8 955.7,667.1 956.4,666.4 957.1,670.2 957.8,673.2 958.5,672.8 959.2,675 959.9,674.7 960.6,673 961.3,672.5 962,673.2 962.7,671.7 963.4,669.2 964.1,668.2 964.8,666.3 965.5,666.8 966.2,666.6 966.9,668 967.6,667.7 968.3,675.1 969,687.6 969.7,694.8 970.4,692.7 971.1,687.4 971.8,683.1 972.5,680.5 973.2,681.5 973.9,679.6 974.6,680.6 975.3,678.1 976,677.8 976.7,677.5 977.4,678 978.1,678.9 978.8,677 979.5,678.7 980.2,679.7 980.9,678.9 981.6,679.1 982.3,680.8 983,680.1 983.7,680.9 984.4,680.7 985.1,681.1 985.8,681.4 986.5,680.9 987.2,679.7 987.9,679.2 988.6,677.4 989.3,679.5 990,676.5 990.7,677.5 991.4,676.1 992.1,676.4 992.8,674.5 993.5,675.3 994.2,674.7 994.9,675.8 995.6,675.5 996.3,675.2 997,677.1 997.7,679.7 998.4,679 999.1,679.4 999.8,678.4 1000.5,676.8 1001.2,675.9 1001.9,673.4 1002.6,673.6 1003.3,672.2 1004,671.3 1004.7,671.3 1005.4,669 1006.1,667.6 1006.8,666.3 1007.5,664.6 1008.2,664.9 1008.9,662.6 1009.6,662.7 1010.3,661.6 1011,659.7 1011.7,659.9 1012.4,660 1013.1,658.2 1013.8,658.1 1014.5,657.5 1015.2,657.2 1015.9,657.9 1016.6,656.8 1017.3,657.9 1018,659.3 1018.7,658.1 1019.4,660.7 1020.1,661.4 1020.8,659.4 1021.5,654.6 1022.2,652.5 1022.9,657.8 1023.6,662.5 1024.3,665.6 1025,664.3 1025.7,661.6 1026.4,659.9 1027.1,658.7 1027.8,663.6 1028.5,671 1029.2,674.1 1029.9,655.4 1030.6,649.6 1031.3,655.9 1032,660 1032.7,660.4 1033.4,658 1034.1,656.2 1034.8,651.5 1035.5,648.8 1036.2,647 1036.9,647.8 1037.6,653.7 1038.3,657 1039,653.6 1039.7,649.5 1040.4,645.1 1041.1,640.7 1041.8,636.8 1042.5,636.8 1043.2,640.6 1043.9,644.6 1044.6,647.4 1045.3,645.4 1046,642.4 1046.7,640.2 1047.4,638.2 1048.1,635.2 1048.8,632.8 1049.5,630.6 1050.2,628.4 1050.9,626.1 1051.6,624.1 1052.3,623.1 1053,619.3 1053.7,618.5 1054.4,615.2 1055.1,615.4 1055.8,614.8 1056.5,612.5 1057.2,613.5 1057.9,610.8 1058.6,612.2 1059.3,610.3 1060,610.4 1060.7,609.4 1061.4,609.7 1062.1,608.7 1062.8,610.7 1063.5,610.5 1064.2,609.2 1064.9,607.7 1065.6,609.3 1066.3,612.1 1067,616.3 1067.7,619.5 1068.4,625.2 1069.1,630.5 1069.8,635.5 1070.5,639.4 1071.2,640.1 1071.9,643 1072.6,644.9 1073.3,642.8 1074,627.1 1074.7,608.6 1075.4,596.6 1076.1,591.6 1076.8,594.9 1077.5,603 1078.2,610.6 1078.9,616.6 1079.6,621.4 1080.3,625.6 1081,630.4 1081.7,634.5 1082.4,638.1 1083.1,638.4 1083.8,638.6 1084.5,636.1 1085.2,630.3 1085.9,597 1086.6,573.4 1087.3,565.9 1088,565.9 1088.7,573.6 1089.4,579.3 1090.1,560 1090.8,569.3 1091.5,601.3 1092.2,619.1 1092.9,620.4 1093.6,613.3 1094.3,608.6 1095,610.1 1095.7,612.6 1096.4,622.2 1097.1,641.3 1097.8,637.1 1098.5,633.8 1099.2,634.9 1099.9,638 1100.6,639.4 1101.3,638.4 1102,637.8 1102.7,639.1 1103.4,660.9 1104.1,662.7 1104.8,661.8 1105.5,663 1106.2,662.6 1106.9,662.7 1107.6,662.6 1108.3,662.5 1109,662.8 1109.7,662.7 1110.4,660.8 1111.1,659 1111.8,659.7 1112.5,660.2 1113.2,663 1113.9,666.1 1114.6,666.2 1115.3,663.2 1116,665 1116.7,662.2 1117.4,661.3 1118.1,660.2 1118.8,659.6 1119.5,657.8 1120.2,660 1120.9,658.1 1121.6,658 1122.3,658.8 1123,659.1 1123.7,658 1124.4,657.2 1125.1,659.1 1125.8,660.7 1126.5,665 1127.2,668.6 1127.9,668.8 1128.6,670 1129.3,671.9 1130,672.2 1130.7,674.9 1131.4,674 1132.1,674.4 1132.8,674.7 1133.5,675.9 1134.2,675.3 1134.9,675.8 1135.6,675 1136.3,676.6 1137,676.6 1137.7,677.7 1138.4,679.1 1139.1,681.8 1139.8,681.7 1140.5,682.9 1141.2,682.6 1141.9,680.3 1142.6,676.1 1143.3,674.4 1144,674.7 1144.7,674.8 1145.4,674 1146.1,675.1 1146.8,676.4 1147.5,675.2 1148.2,679.2 1148.9,680.1 1149.6,681 1150.3,682.8 1151,682.6 1151.7,685.2 1152.4,687.1 1153.1,689.1 1153.8,691.1 1154.5,693.5 1155.2,694.3 1155.9,694.9 1156.6,695.7 1157.3,697 1158,698.3 1158.7,699.4 1159.4,699.8 1160.1,700.1 1160.8,699.6 1161.5,699.5 1162.2,699.6 1162.9,699 1163.6,698.3 1164.3,698 1165,697.9 1165.7,696.9 1166.4,696.4 1167.1,696.9 1167.8,695.3 1168.5,694.9 1169.2,694.8 1169.9,694.5 1170.6,693.5 1171.3,692 1172,693.5 1172.7,691.5 1173.4,691.1 1174.1,691.2 1174.8,692.3 1175.5,691.6 1176.2,690.8 1176.9,692.9 1177.6,691.4 1178.3,693.5 1179,691.7 1179.7,693.4 1180.4,693.9 1181.1,694.1 1181.8,694.9 1182.5,696 1183.2,696.1 1183.9,696.8 1184.6,697 1185.3,697.5 1186,697.6 1186.7,698.2 1187.4,699 1188.1,699.3 1188.8,698.4 1189.5,698.7 1190.2,699.1 1190.9,698.6 1191.6,697.7 1192.3,696.4 1193,696.8 1193.7,695.6 1194.4,696.3 1195.1,695.3 1195.8,694.6 1196.5,693.7 1197.2,694 1197.9,694.9 1198.6,693.9 1199.3,694.2 1200,694.5 1200.7,694.6 1201.4,694.1 1202.1,694.6 1202.8,693.5 1203.5,694.3 1204.2,694.3 1204.9,695.2 1205.6,694.5 1206.3,693.2 1207,695.1 1207.7,695.7 1208.4,694.6 1209.1,694.7 1209.8,695.1 1210.5,694.3 1211.2,694.3 1211.9,694.4 1212.6,692.7 1213.3,694 1214,694.7 1214.7,694.7 1215.4,693.7 1216.1,694.5 1216.8,694.5 1217.5,694.6 1218.2,695.6 1218.9,694.9 1219.6,695.4 1220.3,696 1221,695.5 1221.7,696.1 1222.4,695.8 1223.1,696.5 1223.8,696.6 1224.5,697 1225.2,696.6 1225.9,696.7 1226.6,696.1 1227.3,696.5 1228,696.3 1228.7,696.1 1229.4,696.6 1230.1,696.7 1230.8,696.6 1231.5,697.1 1232.2,696.3 1232.9,696.1 1233.6,695.4 1234.3,697 1235,696.8 1235.7,696.8 1236.4,696.1 1237.1,696.2 1237.8,696.3 1238.5,695.9 1239.2,696.8 1239.9,696.7 1240.6,697.4 1241.3,697 1242,696.9 1242.7,697.4 1243.4,697.5 1244.1,696.7 1244.8,696.6 1245.5,696.9 1246.2,698.1 1246.9,698.1 1247.6,698.5 1248.3,698 1249,698.3 1249.7,698 1250.4,699.3 1251.1,698.8 1251.8,699.3 1252.5,698.9 1253.2,698.3 1253.9,699.3 1254.6,698.1 1255.3,699.3 1256,698.9 1256.7,699.3 1257.4,698.5 1258.1,699.2 1258.8,698.9 1259.5,698.8 1260.2,700 1260.9,699.6 1261.6,699.2 1262.3,699.1 1263,699.3 1263.7,699.6 1264.4,699.8 1265.1,699.7 1265.8,698.8 1266.5,699.7 1267.2,699.9 1267.9,700.2 1268.6,699.8 1269.3,699.8 1270,699.9 1270.7,699.7 1271.4,701 1272.1,699.6 1272.8,699.5 1273.5,700.2 1274.2,700.2 1274.9,700.4 1275.6,700 1276.3,699.8 1277,699.7 1277.7,700.1 1278.4,700.2 1279.1,700.1 1279.8,699.5 1280.5,699.4 1281.2,700.6 1281.9,700 1282.6,699.9 1283.3,700.8 1284,700.3 1284.7,699.2 1285.4,699.6 1286.1,700.2 1286.8,700 1287.5,699.8 1288.2,700.3 1288.9,698.8 1289.6,699.8 1290.3,699.1 1291,699.9 1291.7,699.2 1292.4,698.4 1293.1,699.2 1293.8,697.8 1294.5,699.5 1295.2,699.1 1295.9,699.5 1296.6,699 1297.3,698.9 1298,699.4 1298.7,699.1 1299.4,697.9 1300.1,698.3 1300.8,699.3 1301.5,697.9 1302.2,697.8 1302.9,698 1303.6,697.6 1304.3,698.4 1305,698.1 1305.7,698.7 1306.4,698 1307.1,698.9 1307.8,697.9 1308.5,698.5 1309.2,698.6 1309.9,698.2 1310.6,697.9 1311.3,697.3 1312,697.4 1312.7,698.2 1313.4,697.8 1314.1,698.3 1314.8,697.7 1315.5,698 1316.2,698.1 1316.9,698.5 1317.6,698 1318.3,698.6 1319,697.5 1319.7,697.8 1320.4,698.6 1321.1,698.6 1321.8,699 1322.5,698.1 1323.2,699.2 1323.9,698.8 1324.6,701.2 1325.3,701.3 1326,702.5 1326.7,703.8 1327.4,703.9 1328.1,703.5 1328.8,703.7 1329.5,704.4 1330.2,703.3 1330.9,704.4 1331.6,703.5 1332.3,703.2 1333,704.4 1333.7,704.1 1334.4,703.8 1335.1,704.3 1335.8,703.7 1336.5,703.6 1337.2,704.1 1337.9,703.9 1338.6,703.5 1339.3,704.4 1340,704 1340.7,704.4 1341.4,704.4 1342.1,703.2 1342.8,704.1 1343.5,703.8 1344.2,702.8 1344.9,703.3 1345.6,701.3 1346.3,701.5 1347,702 1347.7,700.4 1348.4,700.2 1349.1,700.1 1349.8,699.2 1350.5,699.2 1351.2,699.6 1351.9,699.4 1352.6,699.2 1353.3,699.9 1354,699.1 1354.7,699.5 1355.4,699.1 1356.1,698.3 1356.8,698.5 1357.5,699.1 1358.2,698.1 1358.9,698.9 1359.6,699.1 1360.3,698.2 1361,697.8 1361.7,699.2 1362.4,699.5 1363.1,698.8 1363.8,699.5" fill="none" stroke="#3A53A4" stroke-width="1.15" stroke-linejoin="round"/>
<path d="M79.8,179.38H85.3M79.8,134.25H85.3M79.8,89.12H85.3M183.22,224.5V218M286.65,224.5V218M390.07,224.5V218M493.5,224.5V218M596.92,224.5V218M100.48,224.5V220.9M121.17,224.5V220.9M141.85,224.5V220.9M162.54,224.5V220.9M203.91,224.5V220.9M224.59,224.5V220.9M245.28,224.5V220.9M265.96,224.5V220.9M307.33,224.5V220.9M328.02,224.5V220.9M348.7,224.5V220.9M369.39,224.5V220.9M410.76,224.5V220.9M431.44,224.5V220.9M452.13,224.5V220.9M472.81,224.5V220.9M514.18,224.5V220.9M534.87,224.5V220.9M555.55,224.5V220.9M576.24,224.5V220.9M617.61,224.5V220.9M638.29,224.5V220.9M658.98,224.5V220.9" stroke="#444" stroke-width="1.4" fill="none"/>
<path d="M78.9,44H680.05" stroke="#3c3c3c" stroke-width="1.65" fill="none"/>
<path d="M679.5,44V225.3" stroke="#3a3a3a" stroke-width="1.15" fill="none"/>
<path d="M78.8,224.6H680.05" stroke="#333" stroke-width="1.7" fill="none"/>
<path d="M79.8,43.2V225.45" stroke="#2e2e2e" stroke-width="1.95" fill="none"/>
<path d="M79.8,419.62H85.3M79.8,374.75H85.3M79.8,329.88H85.3M183.22,464.5V458M286.65,464.5V458M390.07,464.5V458M493.5,464.5V458M596.92,464.5V458M100.48,464.5V460.9M121.17,464.5V460.9M141.85,464.5V460.9M162.54,464.5V460.9M203.91,464.5V460.9M224.59,464.5V460.9M245.28,464.5V460.9M265.96,464.5V460.9M307.33,464.5V460.9M328.02,464.5V460.9M348.7,464.5V460.9M369.39,464.5V460.9M410.76,464.5V460.9M431.44,464.5V460.9M452.13,464.5V460.9M472.81,464.5V460.9M514.18,464.5V460.9M534.87,464.5V460.9M555.55,464.5V460.9M576.24,464.5V460.9M617.61,464.5V460.9M638.29,464.5V460.9M658.98,464.5V460.9" stroke="#444" stroke-width="1.4" fill="none"/>
<path d="M78.9,285H680.05" stroke="#3c3c3c" stroke-width="1.65" fill="none"/>
<path d="M679.5,285V465.3" stroke="#3a3a3a" stroke-width="1.15" fill="none"/>
<path d="M78.8,464.6H680.05" stroke="#333" stroke-width="1.7" fill="none"/>
<path d="M79.8,284.2V465.45" stroke="#2e2e2e" stroke-width="1.95" fill="none"/>
<path d="M79.8,659.4H85.3M79.8,614.4H85.3M79.8,569.4H85.3M180,704.4V697.9M280,704.4V697.9M380,704.4V697.9M480,704.4V697.9M580,704.4V697.9" stroke="#444" stroke-width="1.4" fill="none"/>
<path d="M78.9,524.4H680.05" stroke="#3c3c3c" stroke-width="1.65" fill="none"/>
<path d="M679.5,524.4V705.2" stroke="#3a3a3a" stroke-width="1.15" fill="none"/>
<path d="M78.8,704.5H680.05" stroke="#333" stroke-width="1.7" fill="none"/>
<path d="M79.8,523.6V705.35" stroke="#2e2e2e" stroke-width="1.95" fill="none"/>
<path d="M765.3,179.38H770.8M765.3,134.25H770.8M765.3,89.12H770.8M867.8,224.5V218M971.2,224.5V218M1074.6,224.5V218M1178,224.5V218M1281.4,224.5V218M785.08,224.5V220.9M805.76,224.5V220.9M826.44,224.5V220.9M847.12,224.5V220.9M888.48,224.5V220.9M909.16,224.5V220.9M929.84,224.5V220.9M950.52,224.5V220.9M991.88,224.5V220.9M1012.56,224.5V220.9M1033.24,224.5V220.9M1053.92,224.5V220.9M1095.28,224.5V220.9M1115.96,224.5V220.9M1136.64,224.5V220.9M1157.32,224.5V220.9M1198.68,224.5V220.9M1219.36,224.5V220.9M1240.04,224.5V220.9M1260.72,224.5V220.9M1302.08,224.5V220.9M1322.76,224.5V220.9M1343.44,224.5V220.9" stroke="#444" stroke-width="1.4" fill="none"/>
<path d="M764.4,44H1364.95" stroke="#3c3c3c" stroke-width="1.65" fill="none"/>
<path d="M1364.4,44V225.3" stroke="#3a3a3a" stroke-width="1.15" fill="none"/>
<path d="M764.3,224.6H1364.95" stroke="#333" stroke-width="1.7" fill="none"/>
<path d="M765.3,43.2V225.45" stroke="#2e2e2e" stroke-width="1.95" fill="none"/>
<path d="M765.3,419.62H770.8M765.3,374.75H770.8M765.3,329.88H770.8M867.8,464.5V458M971.2,464.5V458M1074.6,464.5V458M1178,464.5V458M1281.4,464.5V458M785.08,464.5V460.9M805.76,464.5V460.9M826.44,464.5V460.9M847.12,464.5V460.9M888.48,464.5V460.9M909.16,464.5V460.9M929.84,464.5V460.9M950.52,464.5V460.9M991.88,464.5V460.9M1012.56,464.5V460.9M1033.24,464.5V460.9M1053.92,464.5V460.9M1095.28,464.5V460.9M1115.96,464.5V460.9M1136.64,464.5V460.9M1157.32,464.5V460.9M1198.68,464.5V460.9M1219.36,464.5V460.9M1240.04,464.5V460.9M1260.72,464.5V460.9M1302.08,464.5V460.9M1322.76,464.5V460.9M1343.44,464.5V460.9" stroke="#444" stroke-width="1.4" fill="none"/>
<path d="M764.4,285H1364.95" stroke="#3c3c3c" stroke-width="1.65" fill="none"/>
<path d="M1364.4,285V465.3" stroke="#3a3a3a" stroke-width="1.15" fill="none"/>
<path d="M764.3,464.6H1364.95" stroke="#333" stroke-width="1.7" fill="none"/>
<path d="M765.3,284.2V465.45" stroke="#2e2e2e" stroke-width="1.95" fill="none"/>
<path d="M765.3,659.4H770.8M765.3,614.4H770.8M765.3,569.4H770.8M864.4,704.4V697.9M964.5,704.4V697.9M1064.6,704.4V697.9M1164.7,704.4V697.9M1264.8,704.4V697.9" stroke="#444" stroke-width="1.4" fill="none"/>
<path d="M764.4,524.4H1364.95" stroke="#3c3c3c" stroke-width="1.65" fill="none"/>
<path d="M1364.4,524.4V705.2" stroke="#3a3a3a" stroke-width="1.15" fill="none"/>
<path d="M764.3,704.5H1364.95" stroke="#333" stroke-width="1.7" fill="none"/>
<path d="M765.3,523.6V705.35" stroke="#2e2e2e" stroke-width="1.95" fill="none"/>
<text x="14.45" y="24.94" font-size="30" font-weight="bold" fill="#000">A</text>
<text x="708.19" y="24.64" font-size="30" font-weight="bold" fill="#000">B</text>
<text x="84.8" y="64.28" font-size="22.5" font-weight="bold" fill="#000" textLength="24.84" lengthAdjust="spacingAndGlyphs">B1</text>
<text x="770.2" y="64.28" font-size="22.5" font-weight="bold" fill="#000" textLength="24.84" lengthAdjust="spacingAndGlyphs">B1</text>
<line x1="414.1" y1="28.9" x2="451.2" y2="28.9" stroke="#ED1C24" stroke-width="1.9"/>
<text x="458.63" y="35.2" font-size="18.5" fill="#ED1C24" textLength="79.96" lengthAdjust="spacingAndGlyphs">Observed</text>
<line x1="546.9" y1="29" x2="585.5" y2="29" stroke="#3A53A4" stroke-width="1.9"/>
<text x="591.96" y="35.2" font-size="18.5" fill="#3A53A4" textLength="87.84" lengthAdjust="spacingAndGlyphs">Calculated</text>
<line x1="1099.6" y1="28.9" x2="1136.7" y2="28.9" stroke="#ED1C24" stroke-width="1.9"/>
<text x="1144.13" y="35.2" font-size="18.5" fill="#ED1C24" textLength="79.96" lengthAdjust="spacingAndGlyphs">Observed</text>
<line x1="1233.22" y1="29" x2="1271.62" y2="29" stroke="#3A53A4" stroke-width="1.9"/>
<text x="1277.46" y="35.2" font-size="18.5" fill="#3A53A4" textLength="87.84" lengthAdjust="spacingAndGlyphs">Calculated</text>
<rect x="0" y="0" width="1.4" height="791" fill="#0a0a0a"/>
<rect x="0" y="0" width="1417" height="1.2" fill="#0a0a0a"/>
<rect x="1415.9" y="0" width="1.1" height="791" fill="#555"/>
<rect x="0" y="788.8" width="1417" height="2.2" fill="#4a4a4a"/>
</svg></body></html>
